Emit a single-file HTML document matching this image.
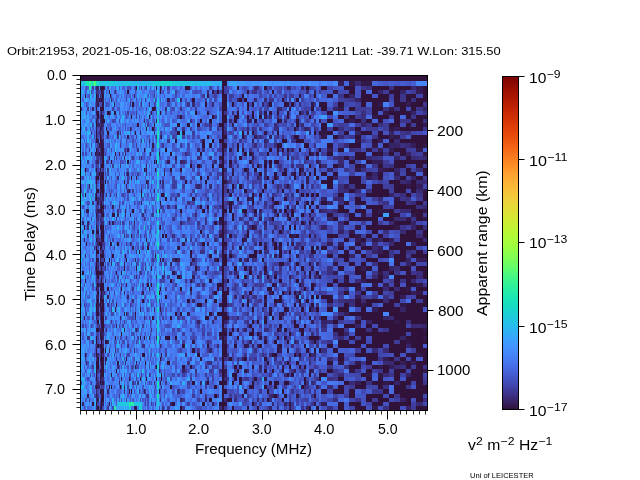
<!DOCTYPE html>
<html lang="en"><head><meta charset="utf-8"><title>MARSIS AIS ionogram - Orbit 21953</title>
<style>
html,body{margin:0;padding:0;background:#fff}
body{width:640px;height:480px;position:relative;overflow:hidden;font-family:"Liberation Sans",sans-serif;color:#000}
.t{position:absolute;white-space:nowrap;line-height:1;transform-origin:0 0;will-change:transform}
.sp{font-size:78%;position:relative;top:-0.46em;margin-left:0.02em}
svg{position:absolute;left:0;top:0;display:block}
#cb{position:absolute;left:503px;top:77px;width:15px;height:332px;background:linear-gradient(to bottom,#7a0403 0.00%,#880802 1.56%,#950d01 3.12%,#a11201 4.69%,#ac1701 6.25%,#b71d02 7.81%,#c12302 9.38%,#ca2a04 10.94%,#d23105 12.50%,#da3907 14.06%,#e14109 15.62%,#e7490c 17.19%,#ec530f 18.75%,#f15d13 20.31%,#f56918 21.88%,#f9751d 23.44%,#fb8122 25.00%,#fd8d27 26.56%,#fe992c 28.12%,#fea431 29.69%,#fdae35 31.25%,#fbb838 32.81%,#f7c13a 34.38%,#f2c93a 35.94%,#ecd13a 37.50%,#e5d938 39.06%,#dde037 40.62%,#d4e735 42.19%,#cbed34 43.75%,#c1f334 45.31%,#b7f735 46.88%,#acfb38 48.44%,#a4fc3c 50.00%,#99fe42 51.56%,#8bff4b 53.12%,#7dff56 54.69%,#6dfe62 56.25%,#5dfc6f 57.81%,#4ef97d 59.38%,#3ff68a 60.94%,#32f298 62.50%,#27eea4 64.06%,#1fe9af 65.62%,#19e3b9 67.19%,#18ddc2 68.75%,#19d5cd 70.31%,#1ccdd8 71.88%,#22c5e2 73.44%,#28bceb 75.00%,#2fb2f4 76.56%,#37a8fa 78.12%,#3d9efe 79.69%,#4294ff 81.25%,#458afc 82.81%,#4680f6 84.38%,#4776ee 85.94%,#466be3 87.50%,#4661d6 89.06%,#4456c7 90.62%,#424bb5 92.19%,#4040a2 93.75%,#3d358b 95.31%,#392a73 96.88%,#351e58 98.44%,#30123b 100.00%)}
</style></head>
<body>
<div class="t" id="title" style="left:6.59px;top:45.00px;font-size:11.60px;transform:scaleX(1.1172);">Orbit:21953, 2021-05-16, 08:03:22 SZA:94.17 Altitude:1211 Lat: -39.71 W.Lon: 315.50</div>
<div class="t" id="ylabel" style="left:22.50px;top:301.40px;font-size:14.10px;transform:rotate(-90deg) scaleX(1.1079);">Time Delay (ms)</div>
<div class="t" id="y2label" style="left:474.75px;top:316.10px;font-size:14.10px;transform:rotate(-90deg) scaleX(1.1269);">Apparent range (km)</div>
<div class="t" id="xlabel" style="left:194.63px;top:441.50px;font-size:14.10px;transform:scaleX(1.0747);">Frequency (MHz)</div>
<div class="t n" id="y0" style="left:46.69px;top:67.50px;font-size:14.10px;transform:scaleX(0.9973);">0.0</div>
<div class="t n" id="y1" style="left:45.44px;top:113.00px;font-size:14.10px;transform:scaleX(1.0398);">1.0</div>
<div class="t n" id="y2" style="left:45.43px;top:157.50px;font-size:14.10px;transform:scaleX(1.0770);">2.0</div>
<div class="t n" id="y3" style="left:45.69px;top:202.50px;font-size:14.10px;transform:scaleX(0.9973);">3.0</div>
<div class="t n" id="y4" style="left:45.62px;top:248.00px;font-size:14.10px;transform:scaleX(1.0436);">4.0</div>
<div class="t n" id="y5" style="left:45.67px;top:292.75px;font-size:14.10px;transform:scaleX(1.0012);">5.0</div>
<div class="t n" id="y6" style="left:45.43px;top:337.50px;font-size:14.10px;transform:scaleX(1.0770);">6.0</div>
<div class="t n" id="y7" style="left:45.06px;top:381.75px;font-size:14.10px;transform:scaleX(1.0258);">7.0</div>
<div class="t n" id="x1" style="left:126.44px;top:422.00px;font-size:14.10px;transform:scaleX(1.0398);">1.0</div>
<div class="t n" id="x2" style="left:188.43px;top:421.50px;font-size:14.10px;transform:scaleX(1.0770);">2.0</div>
<div class="t n" id="x3" style="left:251.69px;top:421.50px;font-size:14.10px;transform:scaleX(0.9973);">3.0</div>
<div class="t n" id="x4" style="left:313.62px;top:422.00px;font-size:14.10px;transform:scaleX(1.0436);">4.0</div>
<div class="t n" id="x5" style="left:377.67px;top:421.75px;font-size:14.10px;transform:scaleX(1.0012);">5.0</div>
<div class="t n" id="r0" style="left:437.01px;top:123.75px;font-size:14.10px;transform:scaleX(1.1090);">200</div>
<div class="t n" id="r1" style="left:436.61px;top:184.00px;font-size:14.10px;transform:scaleX(1.0893);">400</div>
<div class="t n" id="r2" style="left:437.01px;top:243.75px;font-size:14.10px;transform:scaleX(1.1090);">600</div>
<div class="t n" id="r3" style="left:437.62px;top:304.25px;font-size:14.10px;transform:scaleX(1.0891);">800</div>
<div class="t n" id="r4" style="left:437.41px;top:363.00px;font-size:14.10px;transform:scaleX(1.0628);">1000</div>
<div class="t" id="c0" style="left:529.29px;top:70.50px;font-size:14.10px;transform:scaleX(1.1087);">10<span class="sp">−9</span></div>
<div class="t" id="c1" style="left:528.75px;top:153.62px;font-size:14.10px;transform:scaleX(1.1452);">10<span class="sp">−11</span></div>
<div class="t" id="c2" style="left:529.28px;top:235.50px;font-size:14.10px;transform:scaleX(1.1123);">10<span class="sp">−13</span></div>
<div class="t" id="c3" style="left:529.07px;top:321.00px;font-size:14.10px;transform:scaleX(1.1169);">10<span class="sp">−15</span></div>
<div class="t" id="c4" style="left:529.07px;top:404.00px;font-size:14.10px;transform:scaleX(1.1173);">10<span class="sp">−17</span></div>
<div class="t" id="units" style="left:467.91px;top:437.88px;font-size:14.10px;transform:scaleX(1.1148);">v<span class="sp">2</span> m<span class="sp">−2</span> Hz<span class="sp">−1</span></div>
<div class="t" id="uni" style="left:469.95px;top:472.00px;font-size:7.55px;transform:scaleX(0.9960);">Uni of LEICESTER</div>
<div id="cb"></div>
<svg class="hm" width="640" height="480" viewBox="0 0 640 480" shape-rendering="crispEdges"><rect x="81" y="76" width="346" height="334" fill="#30123b"/><path fill="#33184a" d="M349 81h6v5h-6zM361 81h11v5h-11zM212 90h2v4h-2zM333 90h5v4h-5zM207 94h2v4h-2zM299 94h2v4h-2zM102 102h2v5h-2zM311 102h3v5h-3zM378 102h5v5h-5zM96 107h1v4h-1zM289 107h2v4h-2zM338 107h6v4h-6zM389 107h5v4h-5zM101 111h1v4h-1zM115 111h1v4h-1zM151 111h1v4h-1zM264 111h3v4h-3zM383 111h6v4h-6zM102 115h2v4h-2zM372 115h6v4h-6zM279 119h3v4h-3zM423 123h4v4h-4zM106 127h1v4h-1zM389 127h5v4h-5zM264 131h3v4h-3zM321 131h6v4h-6zM127 135h2v4h-2zM321 135h6v4h-6zM394 135h6v4h-6zM97 139h2v4h-2zM202 139h3v4h-3zM355 139h6v4h-6zM102 143h2v5h-2zM152 143h2v5h-2zM372 143h6v5h-6zM423 143h4v5h-4zM366 148h6v4h-6zM416 148h7v4h-7zM115 152h1v4h-1zM150 152h1v4h-1zM423 152h4v4h-4zM219 156h3v4h-3zM249 160h3v4h-3zM264 160h3v4h-3zM269 164h3v4h-3zM146 168h1v4h-1zM355 168h6v4h-6zM383 168h6v4h-6zM164 172h1v4h-1zM232 172h2v4h-2zM102 180h2v4h-2zM224 180h3v4h-3zM287 184h2v5h-2zM406 184h5v5h-5zM96 189h1v4h-1zM100 189h2v4h-2zM423 189h4v4h-4zM102 193h2v4h-2zM229 193h3v4h-3zM247 197h2v4h-2zM394 197h6v4h-6zM316 205h3v4h-3zM86 209h1v4h-1zM274 209h3v4h-3zM378 209h11v4h-11zM423 209h4v4h-4zM101 213h1v4h-1zM114 213h1v4h-1zM361 213h5v4h-5zM411 213h5v4h-5zM406 217h5v4h-5zM423 217h4v4h-4zM134 221h1v4h-1zM96 225h1v5h-1zM355 225h6v5h-6zM394 225h6v5h-6zM349 230h6v4h-6zM219 234h3v4h-3zM291 234h3v4h-3zM355 234h6v4h-6zM372 238h6v4h-6zM86 242h1v4h-1zM177 246h3v4h-3zM264 246h3v4h-3zM279 246h3v4h-3zM316 246h3v4h-3zM349 246h6v4h-6zM102 250h2v4h-2zM259 250h3v4h-3zM314 250h2v4h-2zM190 254h2v4h-2zM97 258h2v4h-2zM100 258h1v4h-1zM160 258h1v4h-1zM100 262h1v4h-1zM309 262h2v4h-2zM333 262h5v4h-5zM172 271h3v4h-3zM264 271h3v4h-3zM378 271h5v4h-5zM344 279h5v4h-5zM100 283h1v4h-1zM126 283h1v4h-1zM299 283h2v4h-2zM372 283h6v4h-6zM416 283h7v4h-7zM96 287h1v4h-1zM227 287h2v4h-2zM355 287h6v4h-6zM406 287h5v4h-5zM299 291h2v4h-2zM416 291h7v4h-7zM247 299h2v4h-2zM277 299h2v4h-2zM219 303h3v4h-3zM299 303h2v4h-2zM361 303h5v4h-5zM400 303h6v4h-6zM269 307h3v5h-3zM287 307h2v5h-2zM96 312h1v4h-1zM264 316h3v4h-3zM394 320h6v4h-6zM299 328h2v4h-2zM423 328h4v4h-4zM100 336h1v4h-1zM259 336h3v4h-3zM284 336h3v4h-3zM423 336h4v4h-4zM192 340h3v4h-3zM406 340h5v4h-5zM244 344h3v4h-3zM85 353h1v4h-1zM416 353h7v4h-7zM105 357h1v4h-1zM338 361h6v4h-6zM355 361h6v4h-6zM282 365h2v4h-2zM378 365h5v4h-5zM224 369h3v4h-3zM244 369h3v4h-3zM349 369h6v4h-6zM423 369h4v4h-4zM366 373h6v4h-6zM378 373h5v4h-5zM121 377h1v4h-1zM140 377h1v4h-1zM156 377h1v4h-1zM264 377h3v4h-3zM102 381h2v4h-2zM160 381h1v4h-1zM383 381h6v4h-6zM101 389h3v5h-3zM129 389h1v5h-1zM242 394h2v4h-2zM296 394h3v4h-3zM92 402h2v4h-2zM109 402h1v4h-1zM289 402h2v4h-2zM314 402h2v4h-2zM101 406h1v4h-1zM135 406h1v4h-1zM372 406h6v4h-6z"/><path fill="#351e58" d="M338 81h6v5h-6zM104 86h1v4h-1zM416 86h7v4h-7zM314 90h2v4h-2zM416 90h7v4h-7zM134 94h1v4h-1zM102 98h2v4h-2zM167 98h3v4h-3zM97 102h2v5h-2zM114 102h1v5h-1zM406 102h5v5h-5zM96 111h1v4h-1zM306 111h3v4h-3zM264 115h3v4h-3zM100 119h2v4h-2zM156 119h1v4h-1zM247 119h2v4h-2zM319 119h2v4h-2zM349 119h6v4h-6zM232 123h2v4h-2zM96 127h1v4h-1zM394 127h6v4h-6zM100 131h1v4h-1zM247 131h2v4h-2zM254 135h3v4h-3zM389 135h5v4h-5zM252 139h2v4h-2zM378 139h5v4h-5zM100 143h1v5h-1zM411 143h5v5h-5zM127 148h2v4h-2zM229 148h3v4h-3zM327 148h6v4h-6zM378 148h5v4h-5zM389 148h5v4h-5zM159 152h1v4h-1zM311 152h3v4h-3zM109 156h1v4h-1zM175 156h2v4h-2zM252 156h2v4h-2zM167 160h3v4h-3zM316 160h3v4h-3zM372 160h11v4h-11zM229 164h3v4h-3zM361 164h5v4h-5zM232 168h2v4h-2zM284 168h3v4h-3zM301 168h3v4h-3zM378 168h5v4h-5zM127 172h2v4h-2zM291 172h3v4h-3zM304 172h2v4h-2zM394 172h6v4h-6zM136 176h1v4h-1zM306 176h3v4h-3zM366 176h6v4h-6zM160 180h1v4h-1zM306 180h3v4h-3zM89 184h1v5h-1zM344 184h5v5h-5zM416 184h7v5h-7zM102 197h2v4h-2zM97 201h2v4h-2zM141 201h1v4h-1zM100 205h1v4h-1zM112 205h2v4h-2zM304 205h2v4h-2zM87 209h2v4h-2zM97 209h2v4h-2zM102 209h2v4h-2zM125 209h1v4h-1zM319 209h2v4h-2zM309 213h2v4h-2zM259 217h3v4h-3zM311 217h3v4h-3zM101 221h1v4h-1zM112 221h2v4h-2zM219 221h3v4h-3zM254 225h3v5h-3zM282 225h2v5h-2zM294 234h2v4h-2zM84 238h1v4h-1zM101 238h1v4h-1zM244 238h3v4h-3zM355 238h6v4h-6zM389 238h5v4h-5zM111 242h1v4h-1zM182 242h3v4h-3zM207 242h2v4h-2zM291 242h3v4h-3zM327 242h6v4h-6zM338 242h6v4h-6zM132 246h2v4h-2zM378 246h5v4h-5zM378 250h5v4h-5zM274 254h3v4h-3zM296 254h3v4h-3zM135 258h1v4h-1zM192 258h3v4h-3zM214 258h3v4h-3zM239 258h3v4h-3zM247 258h2v4h-2zM416 258h11v4h-11zM151 266h1v5h-1zM249 266h3v5h-3zM311 266h3v5h-3zM361 266h5v5h-5zM205 271h2v4h-2zM333 271h5v4h-5zM192 275h3v4h-3zM257 275h2v4h-2zM289 275h2v4h-2zM190 279h2v4h-2zM361 279h5v4h-5zM244 283h3v4h-3zM274 283h3v4h-3zM383 283h6v4h-6zM142 291h2v4h-2zM269 291h3v4h-3zM411 291h5v4h-5zM97 295h2v4h-2zM107 295h2v4h-2zM355 295h6v4h-6zM400 295h6v4h-6zM264 299h3v4h-3zM97 303h2v4h-2zM97 307h2v5h-2zM100 307h1v5h-1zM115 307h1v5h-1zM140 307h1v5h-1zM372 307h6v5h-6zM124 312h1v4h-1zM126 312h1v4h-1zM187 312h3v4h-3zM279 312h3v4h-3zM344 312h5v4h-5zM135 316h1v4h-1zM311 320h3v4h-3zM116 324h1v4h-1zM101 328h1v4h-1zM224 328h3v4h-3zM237 328h2v4h-2zM101 332h1v4h-1zM102 336h2v4h-2zM224 340h3v4h-3zM247 344h2v4h-2zM277 344h2v4h-2zM279 348h3v5h-3zM106 357h1v4h-1zM242 357h2v4h-2zM383 357h6v4h-6zM105 361h1v4h-1zM136 361h1v4h-1zM400 361h6v4h-6zM411 361h5v4h-5zM389 365h5v4h-5zM294 369h2v4h-2zM309 369h5v4h-5zM100 373h1v4h-1zM224 373h3v4h-3zM355 381h6v4h-6zM97 385h2v4h-2zM316 385h3v4h-3zM144 389h1v5h-1zM87 394h2v4h-2zM96 394h1v4h-1zM101 394h1v4h-1zM97 398h2v4h-2zM212 402h2v4h-2zM321 402h6v4h-6zM134 406h1v4h-1zM136 406h1v4h-1zM289 406h2v4h-2z"/><path fill="#372466" d="M96 86h3v4h-3zM287 86h2v4h-2zM301 86h3v4h-3zM102 90h2v4h-2zM378 90h5v4h-5zM400 90h6v4h-6zM97 94h2v4h-2zM100 94h1v4h-1zM349 94h6v4h-6zM100 98h1v4h-1zM180 98h2v4h-2zM237 98h2v4h-2zM355 98h6v4h-6zM262 102h2v5h-2zM92 107h2v4h-2zM155 107h1v4h-1zM277 107h2v4h-2zM333 107h5v4h-5zM423 107h4v4h-4zM411 111h5v4h-5zM100 115h1v4h-1zM249 119h3v4h-3zM97 123h3v4h-3zM361 123h5v4h-5zM101 127h1v4h-1zM130 127h1v4h-1zM304 127h5v4h-5zM117 131h2v4h-2zM140 131h1v4h-1zM355 131h6v4h-6zM389 131h5v4h-5zM269 135h3v4h-3zM102 139h2v4h-2zM264 139h3v4h-3zM389 143h11v5h-11zM291 148h3v4h-3zM309 148h2v4h-2zM96 152h3v4h-3zM119 152h1v4h-1zM252 152h2v4h-2zM277 152h2v4h-2zM406 152h5v4h-5zM394 156h6v4h-6zM97 160h2v4h-2zM180 160h2v4h-2zM252 164h2v4h-2zM338 164h6v4h-6zM224 168h3v4h-3zM247 168h2v4h-2zM327 168h6v4h-6zM394 168h6v4h-6zM100 172h1v4h-1zM247 172h2v4h-2zM372 172h6v4h-6zM257 176h2v4h-2zM333 176h5v4h-5zM411 176h5v4h-5zM101 180h1v4h-1zM406 180h5v4h-5zM96 184h1v5h-1zM126 184h1v5h-1zM197 184h3v5h-3zM110 193h1v4h-1zM389 193h5v4h-5zM95 197h1v4h-1zM100 197h1v4h-1zM249 197h3v4h-3zM321 197h6v4h-6zM100 201h1v4h-1zM232 201h2v4h-2zM327 201h6v4h-6zM175 205h2v4h-2zM272 205h2v4h-2zM99 209h1v4h-1zM159 209h1v4h-1zM259 209h3v4h-3zM279 209h3v4h-3zM117 213h2v4h-2zM254 213h3v4h-3zM287 217h2v4h-2zM327 217h6v4h-6zM82 221h2v4h-2zM87 221h2v4h-2zM180 221h2v4h-2zM224 221h3v4h-3zM264 221h3v4h-3zM411 221h5v4h-5zM321 225h6v5h-6zM411 225h5v5h-5zM338 230h6v4h-6zM314 234h2v4h-2zM378 238h5v4h-5zM97 242h2v4h-2zM130 242h1v4h-1zM264 242h3v4h-3zM287 242h2v4h-2zM411 242h5v4h-5zM224 246h3v4h-3zM372 250h6v4h-6zM85 254h1v4h-1zM96 254h1v4h-1zM349 254h6v4h-6zM162 258h2v4h-2zM177 258h3v4h-3zM406 258h5v4h-5zM111 262h1v4h-1zM124 262h1v4h-1zM170 262h2v4h-2zM190 262h2v4h-2zM316 262h3v4h-3zM406 262h5v4h-5zM97 266h2v5h-2zM389 266h5v5h-5zM102 271h2v4h-2zM101 275h1v4h-1zM105 279h1v4h-1zM314 283h2v4h-2zM252 287h2v4h-2zM124 291h1v4h-1zM100 295h1v4h-1zM127 295h2v4h-2zM234 295h3v4h-3zM132 299h2v4h-2zM154 307h1v5h-1zM400 307h6v5h-6zM102 312h2v4h-2zM84 316h1v4h-1zM100 316h1v4h-1zM299 316h2v4h-2zM383 316h6v4h-6zM197 320h3v4h-3zM224 320h3v4h-3zM321 320h6v4h-6zM366 320h6v4h-6zM355 324h6v4h-6zM423 324h4v4h-4zM100 328h1v4h-1zM124 328h1v4h-1zM136 328h1v4h-1zM244 328h3v4h-3zM279 328h3v4h-3zM102 332h2v4h-2zM344 332h5v4h-5zM149 336h1v4h-1zM224 336h3v4h-3zM264 336h3v4h-3zM400 336h6v4h-6zM107 340h2v4h-2zM249 340h3v4h-3zM294 340h2v4h-2zM102 344h2v4h-2zM252 344h2v4h-2zM257 344h2v4h-2zM406 344h5v4h-5zM100 348h1v5h-1zM209 348h3v5h-3zM314 353h2v4h-2zM86 361h1v4h-1zM125 361h1v4h-1zM259 365h3v4h-3zM182 369h3v4h-3zM406 373h5v4h-5zM101 381h1v4h-1zM119 381h1v4h-1zM200 381h2v4h-2zM394 381h6v4h-6zM95 385h1v4h-1zM99 385h1v4h-1zM124 385h1v4h-1zM96 389h1v5h-1zM272 394h2v4h-2zM180 398h2v4h-2zM205 398h2v4h-2zM400 398h6v4h-6zM82 402h2v4h-2zM102 402h2v4h-2zM170 402h2v4h-2zM284 402h3v4h-3zM269 406h3v4h-3zM306 406h3v4h-3zM406 406h5v4h-5z"/><path fill="#392a73" d="M355 81h6v5h-6zM254 86h3v4h-3zM289 86h2v4h-2zM411 86h5v4h-5zM96 90h1v4h-1zM207 90h2v4h-2zM306 90h3v4h-3zM97 98h2v4h-2zM111 98h1v4h-1zM254 98h3v4h-3zM264 98h3v4h-3zM96 102h1v5h-1zM149 102h1v5h-1zM192 102h3v5h-3zM212 102h2v5h-2zM165 107h2v4h-2zM279 107h3v4h-3zM232 111h2v4h-2zM144 119h1v4h-1zM229 119h3v4h-3zM284 119h3v4h-3zM314 119h2v4h-2zM102 123h2v4h-2zM274 123h3v4h-3zM301 123h3v4h-3zM175 127h2v4h-2zM234 127h3v4h-3zM247 127h2v4h-2zM277 127h2v4h-2zM224 131h3v4h-3zM309 131h2v4h-2zM101 135h1v4h-1zM338 135h6v4h-6zM149 139h1v4h-1zM394 139h6v4h-6zM254 143h3v5h-3zM344 143h5v5h-5zM406 143h5v5h-5zM97 148h2v4h-2zM100 148h1v4h-1zM197 148h3v4h-3zM125 152h1v4h-1zM287 152h2v4h-2zM124 156h1v4h-1zM141 156h1v4h-1zM197 156h3v4h-3zM338 156h6v4h-6zM366 156h6v4h-6zM411 156h5v4h-5zM423 156h4v4h-4zM96 160h1v4h-1zM182 160h3v4h-3zM214 160h3v4h-3zM338 160h6v4h-6zM146 164h1v4h-1zM291 164h3v4h-3zM321 164h6v4h-6zM264 168h3v4h-3zM416 168h7v4h-7zM247 176h2v4h-2zM264 176h3v4h-3zM277 176h2v4h-2zM372 176h6v4h-6zM394 176h6v4h-6zM147 180h2v4h-2zM162 180h2v4h-2zM400 180h6v4h-6zM416 180h11v4h-11zM209 184h3v5h-3zM277 184h2v5h-2zM127 189h2v4h-2zM232 189h2v4h-2zM344 189h5v4h-5zM355 189h6v4h-6zM416 189h7v4h-7zM106 193h1v4h-1zM97 197h2v4h-2zM333 197h11v4h-11zM378 197h5v4h-5zM227 201h2v4h-2zM411 201h5v4h-5zM423 205h4v4h-4zM145 209h1v4h-1zM321 209h6v4h-6zM333 209h5v4h-5zM400 209h11v4h-11zM125 213h1v4h-1zM142 213h2v4h-2zM195 213h2v4h-2zM244 213h3v4h-3zM97 217h2v4h-2zM100 217h1v4h-1zM249 217h3v4h-3zM296 217h3v4h-3zM394 217h12v4h-12zM102 221h2v4h-2zM304 221h2v4h-2zM338 221h6v4h-6zM389 221h5v4h-5zM87 225h2v5h-2zM249 225h3v5h-3zM264 225h3v5h-3zM219 230h3v4h-3zM224 230h3v4h-3zM272 230h2v4h-2zM400 230h6v4h-6zM124 234h1v4h-1zM207 234h2v4h-2zM416 234h7v4h-7zM97 238h2v4h-2zM185 238h2v4h-2zM214 238h3v4h-3zM423 238h4v4h-4zM361 242h5v4h-5zM372 242h6v4h-6zM389 242h5v4h-5zM94 246h1v4h-1zM372 246h6v4h-6zM214 250h3v4h-3zM172 258h3v4h-3zM244 258h3v4h-3zM289 266h2v5h-2zM394 266h6v5h-6zM140 271h1v4h-1zM234 271h3v4h-3zM274 271h3v4h-3zM304 271h2v4h-2zM136 275h1v4h-1zM162 275h2v4h-2zM180 275h2v4h-2zM314 275h2v4h-2zM372 275h6v4h-6zM383 275h6v4h-6zM416 275h7v4h-7zM355 279h6v4h-6zM411 279h5v4h-5zM99 283h1v4h-1zM301 283h3v4h-3zM97 287h2v4h-2zM383 287h6v4h-6zM394 287h6v4h-6zM104 291h1v4h-1zM96 295h1v4h-1zM96 299h1v4h-1zM192 299h3v4h-3zM344 299h11v4h-11zM361 299h5v4h-5zM383 299h6v4h-6zM99 303h1v4h-1zM274 303h3v4h-3zM311 307h3v5h-3zM96 316h1v4h-1zM120 316h1v4h-1zM144 316h1v4h-1zM214 316h3v4h-3zM237 316h2v4h-2zM389 316h5v4h-5zM212 320h2v4h-2zM327 320h6v4h-6zM321 324h6v4h-6zM411 324h12v4h-12zM106 328h1v4h-1zM151 328h1v4h-1zM264 328h3v4h-3zM259 332h3v4h-3zM311 332h3v4h-3zM156 336h1v4h-1zM219 336h3v4h-3zM338 336h6v4h-6zM96 344h1v4h-1zM144 344h1v4h-1zM160 344h1v4h-1zM217 344h2v4h-2zM134 348h1v5h-1zM372 348h6v5h-6zM383 348h6v5h-6zM97 353h2v4h-2zM102 353h2v4h-2zM185 353h2v4h-2zM269 353h3v4h-3zM311 353h3v4h-3zM100 361h1v4h-1zM309 361h2v4h-2zM383 361h11v4h-11zM117 365h2v4h-2zM394 365h6v4h-6zM159 369h1v4h-1zM219 369h3v4h-3zM247 369h2v4h-2zM284 373h3v4h-3zM338 373h6v4h-6zM383 373h6v4h-6zM101 377h3v4h-3zM224 377h3v4h-3zM97 381h2v4h-2zM205 381h2v4h-2zM311 381h3v4h-3zM349 381h6v4h-6zM304 385h2v4h-2zM327 385h6v4h-6zM107 389h2v5h-2zM124 389h1v5h-1zM269 394h3v4h-3zM96 398h1v4h-1zM224 398h3v4h-3zM257 398h2v4h-2zM272 402h2v4h-2zM416 402h7v4h-7zM96 406h1v4h-1z"/><path fill="#3b2f80" d="M257 86h2v4h-2zM366 86h6v4h-6zM389 86h5v4h-5zM411 98h5v4h-5zM141 102h1v5h-1zM267 102h2v5h-2zM299 102h2v5h-2zM180 107h2v4h-2zM383 107h6v4h-6zM394 107h6v4h-6zM259 111h3v4h-3zM301 111h3v4h-3zM361 111h5v4h-5zM269 115h3v4h-3zM277 115h2v4h-2zM361 115h5v4h-5zM190 119h2v4h-2zM262 119h2v4h-2zM361 119h5v4h-5zM423 119h4v4h-4zM209 123h3v4h-3zM378 123h5v4h-5zM274 127h3v4h-3zM296 127h3v4h-3zM314 127h2v4h-2zM338 127h6v4h-6zM91 131h1v4h-1zM99 131h1v4h-1zM102 131h2v4h-2zM154 131h1v4h-1zM406 131h5v4h-5zM160 135h1v4h-1zM259 135h3v4h-3zM282 135h2v4h-2zM141 139h1v4h-1zM274 143h3v5h-3zM314 143h2v5h-2zM400 143h6v5h-6zM125 148h1v4h-1zM137 148h2v4h-2zM202 148h3v4h-3zM224 148h3v4h-3zM349 148h6v4h-6zM91 152h1v4h-1zM100 152h1v4h-1zM185 152h2v4h-2zM383 152h6v4h-6zM100 156h2v4h-2zM209 156h3v4h-3zM333 156h5v4h-5zM349 156h6v4h-6zM372 156h6v4h-6zM416 156h7v4h-7zM319 160h2v4h-2zM200 164h2v4h-2zM259 164h3v4h-3zM279 164h3v4h-3zM301 164h3v4h-3zM389 164h5v4h-5zM102 168h2v4h-2zM164 168h1v4h-1zM361 168h5v4h-5zM96 172h3v4h-3zM146 172h1v4h-1zM264 172h3v4h-3zM117 176h2v4h-2zM180 176h5v4h-5zM227 180h2v4h-2zM195 184h2v5h-2zM284 184h3v5h-3zM338 184h6v5h-6zM277 189h2v4h-2zM338 189h6v4h-6zM366 189h6v4h-6zM95 193h1v4h-1zM272 193h2v4h-2zM291 193h3v4h-3zM400 193h6v4h-6zM175 197h2v4h-2zM207 197h2v4h-2zM406 197h5v4h-5zM92 201h2v4h-2zM187 201h3v4h-3zM264 201h3v4h-3zM272 201h2v4h-2zM338 201h6v4h-6zM383 201h6v4h-6zM96 205h1v4h-1zM105 205h1v4h-1zM161 205h1v4h-1zM167 205h3v4h-3zM294 205h2v4h-2zM416 205h7v4h-7zM96 209h1v4h-1zM259 213h3v4h-3zM96 217h1v4h-1zM101 217h1v4h-1zM144 217h1v4h-1zM239 217h3v4h-3zM269 217h3v4h-3zM96 221h1v4h-1zM205 221h2v4h-2zM314 221h2v4h-2zM159 225h1v5h-1zM274 225h3v5h-3zM338 225h6v5h-6zM423 225h4v5h-4zM259 230h3v4h-3zM383 230h6v4h-6zM172 234h3v4h-3zM244 234h3v4h-3zM126 242h1v4h-1zM254 242h3v4h-3zM272 242h2v4h-2zM296 242h5v4h-5zM104 246h1v4h-1zM160 246h1v4h-1zM232 246h2v4h-2zM294 246h5v4h-5zM136 250h1v4h-1zM200 250h2v4h-2zM264 250h5v4h-5zM406 250h5v4h-5zM232 254h2v4h-2zM309 254h2v4h-2zM252 258h2v4h-2zM97 262h2v4h-2zM372 262h6v4h-6zM95 266h1v5h-1zM105 266h1v5h-1zM219 266h3v5h-3zM279 266h3v5h-3zM327 266h6v5h-6zM164 271h1v4h-1zM229 271h3v4h-3zM259 271h3v4h-3zM296 271h3v4h-3zM327 271h6v4h-6zM383 271h6v4h-6zM416 271h7v4h-7zM156 275h1v4h-1zM316 275h3v4h-3zM96 279h1v4h-1zM224 279h3v4h-3zM269 279h3v4h-3zM301 279h3v4h-3zM202 283h3v4h-3zM289 287h2v4h-2zM102 291h2v4h-2zM190 291h2v4h-2zM212 291h2v4h-2zM296 291h3v4h-3zM102 295h2v4h-2zM247 295h2v4h-2zM254 295h3v4h-3zM383 295h6v4h-6zM296 299h3v4h-3zM338 299h6v4h-6zM101 303h1v4h-1zM130 303h1v4h-1zM160 303h1v4h-1zM227 303h2v4h-2zM282 303h2v4h-2zM316 303h3v4h-3zM349 303h6v4h-6zM262 307h2v5h-2zM100 312h1v4h-1zM338 312h6v4h-6zM105 316h1v4h-1zM314 316h2v4h-2zM319 316h2v4h-2zM333 316h5v4h-5zM355 316h6v4h-6zM247 320h2v4h-2zM406 320h5v4h-5zM99 324h1v4h-1zM99 328h1v4h-1zM267 328h2v4h-2zM366 328h6v4h-6zM333 332h5v4h-5zM87 336h2v4h-2zM319 336h2v4h-2zM92 340h2v4h-2zM207 340h2v4h-2zM296 340h3v4h-3zM311 340h3v4h-3zM99 344h1v4h-1zM142 344h2v4h-2zM291 344h3v4h-3zM316 344h3v4h-3zM109 348h1v5h-1zM115 348h1v5h-1zM254 348h3v5h-3zM321 348h6v5h-6zM227 353h2v4h-2zM262 353h2v4h-2zM296 353h3v4h-3zM85 357h1v4h-1zM96 357h1v4h-1zM224 357h3v4h-3zM274 357h3v4h-3zM282 357h2v4h-2zM289 357h2v4h-2zM299 357h2v4h-2zM314 357h2v4h-2zM319 357h2v4h-2zM327 357h6v4h-6zM187 361h3v4h-3zM207 361h5v4h-5zM205 365h2v4h-2zM344 365h5v4h-5zM400 365h6v4h-6zM97 369h2v4h-2zM195 369h2v4h-2zM259 369h3v4h-3zM291 369h3v4h-3zM207 377h2v4h-2zM327 377h6v4h-6zM96 381h1v4h-1zM137 381h2v4h-2zM306 381h3v4h-3zM366 381h6v4h-6zM161 385h1v4h-1zM383 385h6v4h-6zM177 389h3v5h-3zM234 398h3v4h-3zM262 398h2v4h-2zM269 398h3v4h-3zM333 398h5v4h-5zM423 398h4v4h-4zM100 402h1v4h-1zM219 406h3v4h-3zM277 406h2v4h-2zM327 406h6v4h-6zM383 406h6v4h-6z"/><path fill="#3d358b" d="M146 86h1v4h-1zM361 86h5v4h-5zM97 90h2v4h-2zM115 90h1v4h-1zM252 90h5v4h-5zM101 94h1v4h-1zM154 94h1v4h-1zM284 94h3v4h-3zM338 94h6v4h-6zM400 94h6v4h-6zM145 98h1v4h-1zM269 98h5v4h-5zM289 98h2v4h-2zM349 98h6v4h-6zM400 98h6v4h-6zM130 102h1v5h-1zM187 102h3v5h-3zM314 102h2v5h-2zM423 102h4v5h-4zM81 107h1v4h-1zM416 107h7v4h-7zM100 111h1v4h-1zM110 111h1v4h-1zM224 111h3v4h-3zM423 111h4v4h-4zM214 115h3v4h-3zM296 115h3v4h-3zM344 115h5v4h-5zM411 115h5v4h-5zM97 119h2v4h-2zM400 119h11v4h-11zM366 123h6v4h-6zM131 127h1v4h-1zM182 127h3v4h-3zM217 127h2v4h-2zM224 127h3v4h-3zM252 127h2v4h-2zM259 127h3v4h-3zM309 127h2v4h-2zM349 127h6v4h-6zM423 127h4v4h-4zM120 131h1v4h-1zM272 131h2v4h-2zM400 131h6v4h-6zM107 135h2v4h-2zM117 135h2v4h-2zM156 135h1v4h-1zM244 135h3v4h-3zM257 135h2v4h-2zM277 135h2v4h-2zM291 135h3v4h-3zM319 135h2v4h-2zM349 135h6v4h-6zM372 135h6v4h-6zM167 139h3v4h-3zM239 139h3v4h-3zM267 139h2v4h-2zM291 139h5v4h-5zM361 139h5v4h-5zM162 143h2v5h-2zM242 143h2v5h-2zM264 143h3v5h-3zM89 148h1v4h-1zM249 148h3v4h-3zM355 148h6v4h-6zM282 152h2v4h-2zM97 156h2v4h-2zM139 156h1v4h-1zM291 156h3v4h-3zM378 156h5v4h-5zM87 160h2v4h-2zM100 160h1v4h-1zM175 160h2v4h-2zM234 160h3v4h-3zM304 160h2v4h-2zM96 164h1v4h-1zM100 164h1v4h-1zM120 164h1v4h-1zM237 164h2v4h-2zM296 164h5v4h-5zM372 164h6v4h-6zM383 164h6v4h-6zM107 168h2v4h-2zM344 168h5v4h-5zM90 172h1v4h-1zM224 176h3v4h-3zM259 176h3v4h-3zM127 180h2v4h-2zM162 184h2v5h-2zM200 184h2v5h-2zM311 184h3v5h-3zM349 184h6v5h-6zM101 193h1v4h-1zM116 193h1v4h-1zM177 193h3v4h-3zM287 193h2v4h-2zM416 193h7v4h-7zM99 197h1v4h-1zM259 197h3v4h-3zM299 197h2v4h-2zM400 197h6v4h-6zM239 201h3v4h-3zM304 201h2v4h-2zM319 201h2v4h-2zM406 201h5v4h-5zM119 205h1v4h-1zM197 205h3v4h-3zM219 205h3v4h-3zM264 205h3v4h-3zM269 205h3v4h-3zM117 209h2v4h-2zM207 209h2v4h-2zM252 209h2v4h-2zM272 209h2v4h-2zM327 209h6v4h-6zM97 213h2v4h-2zM152 213h2v4h-2zM214 213h3v4h-3zM274 213h3v4h-3zM344 213h5v4h-5zM116 217h1v4h-1zM172 217h3v4h-3zM187 217h3v4h-3zM205 217h2v4h-2zM411 217h5v4h-5zM197 221h3v4h-3zM244 221h5v4h-5zM294 221h2v4h-2zM97 225h2v5h-2zM224 225h3v5h-3zM309 225h2v5h-2zM400 225h6v5h-6zM282 230h2v4h-2zM416 230h7v4h-7zM87 234h2v4h-2zM97 234h2v4h-2zM99 238h1v4h-1zM252 238h2v4h-2zM319 238h2v4h-2zM102 242h2v4h-2zM242 242h2v4h-2zM142 246h2v4h-2zM277 246h2v4h-2zM100 250h2v4h-2zM202 250h3v4h-3zM229 250h3v4h-3zM284 250h3v4h-3zM389 250h5v4h-5zM411 250h5v4h-5zM311 254h3v4h-3zM389 254h5v4h-5zM254 258h3v4h-3zM304 258h2v4h-2zM242 262h2v4h-2zM264 262h3v4h-3zM287 262h2v4h-2zM207 266h2v5h-2zM272 266h2v5h-2zM294 266h2v5h-2zM372 271h6v4h-6zM394 271h6v4h-6zM411 271h5v4h-5zM96 275h1v4h-1zM164 275h1v4h-1zM259 275h3v4h-3zM304 275h2v4h-2zM97 279h2v4h-2zM185 279h2v4h-2zM400 279h6v4h-6zM197 283h3v4h-3zM282 283h2v4h-2zM423 283h4v4h-4zM132 287h2v4h-2zM344 287h5v4h-5zM109 291h1v4h-1zM284 291h3v4h-3zM319 291h2v4h-2zM338 291h6v4h-6zM355 291h6v4h-6zM209 295h3v4h-3zM252 295h2v4h-2zM372 295h6v4h-6zM259 299h3v4h-3zM84 303h1v4h-1zM107 303h2v4h-2zM327 303h6v4h-6zM161 312h1v4h-1zM247 312h2v4h-2zM304 312h2v4h-2zM177 316h3v4h-3zM111 320h1v4h-1zM227 320h2v4h-2zM247 324h2v4h-2zM135 328h1v4h-1zM309 328h2v4h-2zM316 328h3v4h-3zM321 328h6v4h-6zM344 328h5v4h-5zM383 328h6v4h-6zM89 336h1v4h-1zM126 336h1v4h-1zM242 340h2v4h-2zM316 340h3v4h-3zM327 340h6v4h-6zM127 344h2v4h-2zM296 348h3v5h-3zM86 353h1v4h-1zM100 353h1v4h-1zM244 353h3v4h-3zM116 357h1v4h-1zM140 357h1v4h-1zM214 357h3v4h-3zM227 357h2v4h-2zM237 357h2v4h-2zM254 357h3v4h-3zM378 357h5v4h-5zM394 357h6v4h-6zM279 361h3v4h-3zM284 361h3v4h-3zM361 361h5v4h-5zM155 365h1v4h-1zM264 365h3v4h-3zM277 365h2v4h-2zM314 365h2v4h-2zM327 365h6v4h-6zM423 365h4v4h-4zM185 369h2v4h-2zM234 369h3v4h-3zM301 369h3v4h-3zM319 369h2v4h-2zM333 369h5v4h-5zM355 369h6v4h-6zM378 369h5v4h-5zM149 373h1v4h-1zM269 373h3v4h-3zM314 373h2v4h-2zM389 373h5v4h-5zM227 377h2v4h-2zM244 377h5v4h-5zM316 377h3v4h-3zM333 377h5v4h-5zM132 381h2v4h-2zM154 381h1v4h-1zM314 381h2v4h-2zM423 381h4v4h-4zM306 385h3v4h-3zM406 385h5v4h-5zM139 389h1v5h-1zM145 389h1v5h-1zM259 389h3v5h-3zM291 389h3v5h-3zM304 389h2v5h-2zM309 389h2v5h-2zM314 389h2v5h-2zM372 389h11v5h-11zM97 394h2v4h-2zM119 394h1v4h-1zM147 394h2v4h-2zM205 394h2v4h-2zM277 394h2v4h-2zM311 394h3v4h-3zM394 394h6v4h-6zM89 398h1v4h-1zM160 398h1v4h-1zM182 398h3v4h-3zM355 398h6v4h-6zM155 402h1v4h-1zM291 402h3v4h-3zM311 402h3v4h-3zM162 406h2v4h-2zM182 406h3v4h-3zM224 406h3v4h-3zM301 406h3v4h-3z"/><path fill="#3f3b97" d="M135 86h1v4h-1zM141 86h1v4h-1zM161 86h1v4h-1zM269 86h3v4h-3zM309 86h2v4h-2zM175 90h2v4h-2zM319 90h2v4h-2zM383 90h6v4h-6zM411 90h5v4h-5zM202 94h3v4h-3zM214 94h3v4h-3zM229 94h3v4h-3zM291 94h3v4h-3zM205 98h2v4h-2zM344 98h5v4h-5zM87 107h2v4h-2zM195 107h2v4h-2zM355 107h11v4h-11zM127 111h2v4h-2zM136 111h1v4h-1zM311 111h3v4h-3zM136 115h1v4h-1zM177 115h3v4h-3zM355 115h6v4h-6zM306 119h3v4h-3zM100 123h1v4h-1zM147 123h2v4h-2zM205 123h2v4h-2zM224 123h3v4h-3zM338 123h6v4h-6zM383 123h6v4h-6zM411 123h5v4h-5zM102 127h2v4h-2zM254 127h3v4h-3zM287 127h2v4h-2zM301 127h3v4h-3zM366 127h12v4h-12zM383 127h6v4h-6zM161 131h1v4h-1zM192 131h3v4h-3zM136 135h1v4h-1zM234 135h3v4h-3zM304 135h2v4h-2zM400 135h6v4h-6zM120 143h1v5h-1zM136 143h1v5h-1zM180 143h2v5h-2zM338 143h6v5h-6zM152 148h2v4h-2zM219 148h3v4h-3zM289 148h2v4h-2zM316 148h3v4h-3zM372 148h6v4h-6zM406 148h5v4h-5zM242 152h2v4h-2zM321 152h6v4h-6zM394 152h6v4h-6zM411 152h5v4h-5zM116 156h1v4h-1zM132 156h2v4h-2zM400 156h6v4h-6zM101 160h1v4h-1zM185 160h2v4h-2zM219 160h3v4h-3zM252 160h2v4h-2zM383 160h6v4h-6zM112 164h2v4h-2zM277 164h2v4h-2zM423 164h4v4h-4zM145 168h1v4h-1zM279 168h3v4h-3zM294 168h2v4h-2zM124 172h1v4h-1zM137 172h2v4h-2zM197 172h3v4h-3zM224 172h3v4h-3zM301 172h3v4h-3zM217 176h2v4h-2zM229 176h3v4h-3zM423 176h4v4h-4zM190 180h2v4h-2zM229 180h3v4h-3zM237 180h2v4h-2zM252 180h2v4h-2zM259 180h3v4h-3zM378 180h5v4h-5zM172 184h3v5h-3zM182 184h3v5h-3zM224 184h3v5h-3zM242 184h2v5h-2zM252 184h2v5h-2zM279 184h3v5h-3zM289 184h2v5h-2zM389 184h5v5h-5zM132 189h2v4h-2zM224 189h3v4h-3zM164 193h1v4h-1zM190 193h2v4h-2zM267 193h2v4h-2zM274 193h3v4h-3zM355 193h6v4h-6zM394 193h6v4h-6zM101 197h1v4h-1zM372 197h6v4h-6zM416 197h7v4h-7zM102 201h2v4h-2zM224 201h3v4h-3zM378 201h5v4h-5zM423 201h4v4h-4zM160 205h1v4h-1zM224 205h3v4h-3zM252 205h2v4h-2zM156 209h1v4h-1zM289 209h2v4h-2zM394 209h6v4h-6zM333 213h5v4h-5zM423 213h4v4h-4zM161 217h1v4h-1zM122 221h2v4h-2zM129 221h1v4h-1zM257 221h2v4h-2zM272 221h2v4h-2zM361 221h5v4h-5zM378 221h5v4h-5zM247 225h2v5h-2zM319 225h2v5h-2zM287 230h2v4h-2zM304 230h2v4h-2zM96 234h1v4h-1zM126 234h1v4h-1zM140 234h1v4h-1zM182 234h3v4h-3zM224 234h3v4h-3zM234 234h3v4h-3zM264 234h3v4h-3zM100 238h1v4h-1zM190 238h2v4h-2zM195 238h2v4h-2zM291 238h3v4h-3zM327 238h6v4h-6zM104 242h1v4h-1zM147 242h2v4h-2zM200 242h2v4h-2zM304 242h2v4h-2zM333 246h5v4h-5zM301 250h3v4h-3zM327 250h6v4h-6zM423 250h4v4h-4zM219 254h3v4h-3zM366 254h6v4h-6zM406 254h5v4h-5zM101 258h1v4h-1zM152 258h2v4h-2zM333 258h5v4h-5zM136 262h1v4h-1zM232 262h2v4h-2zM274 262h5v4h-5zM311 262h3v4h-3zM145 266h1v5h-1zM197 266h3v5h-3zM141 271h1v4h-1zM175 271h2v4h-2zM237 271h2v4h-2zM277 271h5v4h-5zM117 275h2v4h-2zM134 275h1v4h-1zM252 275h2v4h-2zM291 275h3v4h-3zM161 279h1v4h-1zM192 279h3v4h-3zM289 279h2v4h-2zM389 279h5v4h-5zM96 283h1v4h-1zM121 283h1v4h-1zM175 283h2v4h-2zM224 283h3v4h-3zM234 283h3v4h-3zM254 283h3v4h-3zM259 283h3v4h-3zM165 287h2v4h-2zM234 287h3v4h-3zM301 287h3v4h-3zM114 291h1v4h-1zM244 291h3v4h-3zM389 291h5v4h-5zM197 295h3v4h-3zM294 295h2v4h-2zM301 295h3v4h-3zM361 295h5v4h-5zM159 299h1v4h-1zM249 299h3v4h-3zM257 299h2v4h-2zM416 299h7v4h-7zM111 303h1v4h-1zM229 303h3v4h-3zM254 303h3v4h-3zM314 307h2v5h-2zM86 312h1v4h-1zM212 312h2v4h-2zM284 312h3v4h-3zM97 316h2v4h-2zM182 316h3v4h-3zM232 316h2v4h-2zM282 316h2v4h-2zM100 320h1v4h-1zM124 320h1v4h-1zM150 320h1v4h-1zM244 320h3v4h-3zM291 320h3v4h-3zM338 320h6v4h-6zM142 324h2v4h-2zM259 324h3v4h-3zM269 324h3v4h-3zM333 324h5v4h-5zM242 328h2v4h-2zM182 332h3v4h-3zM207 332h2v4h-2zM274 332h3v4h-3zM316 332h3v4h-3zM289 336h2v4h-2zM333 336h5v4h-5zM355 336h6v4h-6zM102 340h2v4h-2zM182 340h3v4h-3zM234 340h3v4h-3zM394 340h6v4h-6zM121 344h1v4h-1zM197 348h3v5h-3zM207 348h2v5h-2zM355 348h6v5h-6zM165 353h2v4h-2zM232 353h2v4h-2zM190 357h2v4h-2zM249 357h3v4h-3zM309 357h2v4h-2zM264 361h3v4h-3zM289 361h2v4h-2zM92 365h2v4h-2zM159 365h1v4h-1zM212 365h2v4h-2zM224 365h3v4h-3zM366 365h6v4h-6zM411 365h5v4h-5zM209 369h3v4h-3zM141 373h1v4h-1zM205 373h2v4h-2zM289 373h2v4h-2zM333 373h5v4h-5zM97 377h2v4h-2zM190 377h2v4h-2zM252 377h2v4h-2zM423 377h4v4h-4zM104 381h1v4h-1zM165 381h2v4h-2zM187 381h3v4h-3zM101 385h3v4h-3zM205 385h2v4h-2zM284 385h3v4h-3zM319 385h2v4h-2zM349 385h6v4h-6zM146 394h1v4h-1zM192 394h3v4h-3zM217 394h2v4h-2zM229 394h3v4h-3zM234 394h3v4h-3zM247 394h2v4h-2zM344 394h5v4h-5zM126 398h1v4h-1zM197 398h3v4h-3zM244 398h3v4h-3zM289 398h2v4h-2zM372 398h6v4h-6zM151 402h1v4h-1zM254 402h3v4h-3zM259 402h3v4h-3zM287 402h2v4h-2zM319 402h2v4h-2zM107 406h2v4h-2zM167 406h3v4h-3zM267 406h2v4h-2zM291 406h3v4h-3zM411 406h5v4h-5z"/><path fill="#4040a2" d="M92 86h2v4h-2zM167 86h3v4h-3zM209 86h3v4h-3zM224 86h3v4h-3zM99 90h1v4h-1zM114 90h1v4h-1zM214 90h3v4h-3zM224 90h5v4h-5zM267 90h2v4h-2zM232 94h2v4h-2zM289 94h2v4h-2zM389 94h5v4h-5zM155 98h1v4h-1zM229 98h3v4h-3zM301 98h3v4h-3zM338 98h6v4h-6zM154 102h1v5h-1zM333 102h5v5h-5zM355 102h6v5h-6zM112 107h2v4h-2zM237 107h2v4h-2zM259 107h3v4h-3zM267 107h2v4h-2zM304 107h5v4h-5zM316 107h3v4h-3zM366 107h6v4h-6zM126 115h1v4h-1zM267 115h2v4h-2zM389 115h5v4h-5zM119 119h1v4h-1zM264 123h3v4h-3zM277 123h2v4h-2zM291 123h3v4h-3zM299 123h2v4h-2zM344 123h5v4h-5zM355 123h6v4h-6zM190 127h2v4h-2zM209 127h3v4h-3zM242 127h2v4h-2zM316 127h3v4h-3zM327 127h6v4h-6zM97 131h2v4h-2zM229 131h3v4h-3zM254 131h3v4h-3zM338 131h6v4h-6zM94 135h1v4h-1zM102 135h2v4h-2zM172 135h3v4h-3zM182 135h3v4h-3zM262 135h2v4h-2zM274 135h3v4h-3zM344 135h5v4h-5zM126 139h1v4h-1zM224 139h3v4h-3zM274 139h3v4h-3zM97 143h2v5h-2zM232 143h2v5h-2zM252 143h2v5h-2zM217 148h2v4h-2zM257 148h2v4h-2zM279 148h3v4h-3zM383 148h6v4h-6zM411 148h5v4h-5zM105 152h1v4h-1zM187 152h3v4h-3zM259 152h3v4h-3zM314 152h2v4h-2zM416 152h7v4h-7zM96 156h1v4h-1zM114 156h1v4h-1zM296 156h3v4h-3zM106 160h3v4h-3zM190 160h2v4h-2zM212 160h2v4h-2zM224 160h3v4h-3zM306 160h3v4h-3zM406 164h5v4h-5zM97 168h2v4h-2zM366 168h6v4h-6zM400 168h6v4h-6zM411 168h5v4h-5zM126 172h1v4h-1zM209 172h3v4h-3zM217 172h5v4h-5zM254 172h5v4h-5zM349 172h6v4h-6zM127 176h2v4h-2zM172 176h3v4h-3zM289 176h2v4h-2zM406 176h5v4h-5zM172 180h5v4h-5zM254 180h3v4h-3zM147 184h2v5h-2zM175 184h2v5h-2zM217 184h2v5h-2zM383 184h6v5h-6zM81 189h1v4h-1zM104 189h1v4h-1zM192 189h3v4h-3zM289 189h2v4h-2zM389 189h5v4h-5zM122 193h2v4h-2zM205 193h2v4h-2zM247 193h2v4h-2zM254 193h3v4h-3zM284 193h3v4h-3zM299 193h2v4h-2zM314 193h2v4h-2zM333 193h5v4h-5zM361 193h5v4h-5zM170 197h2v4h-2zM217 197h2v4h-2zM269 197h3v4h-3zM287 197h2v4h-2zM291 197h3v4h-3zM314 197h2v4h-2zM134 201h1v4h-1zM192 201h3v4h-3zM247 201h2v4h-2zM257 201h2v4h-2zM97 205h2v4h-2zM185 205h2v4h-2zM214 205h3v4h-3zM249 205h3v4h-3zM291 205h3v4h-3zM383 205h11v4h-11zM287 209h2v4h-2zM294 209h2v4h-2zM224 213h3v4h-3zM282 213h5v4h-5zM304 213h2v4h-2zM314 213h2v4h-2zM366 213h6v4h-6zM91 217h1v4h-1zM102 217h2v4h-2zM145 217h1v4h-1zM242 217h2v4h-2zM252 217h2v4h-2zM309 217h2v4h-2zM115 221h1v4h-1zM120 221h1v4h-1zM182 221h3v4h-3zM254 221h3v4h-3zM269 221h3v4h-3zM134 225h1v5h-1zM202 225h3v5h-3zM212 225h2v5h-2zM234 225h3v5h-3zM242 225h2v5h-2zM277 225h2v5h-2zM406 225h5v5h-5zM137 230h2v4h-2zM150 230h1v4h-1zM164 230h1v4h-1zM311 230h3v4h-3zM344 230h5v4h-5zM259 234h3v4h-3zM301 234h3v4h-3zM361 234h5v4h-5zM383 234h6v4h-6zM112 238h2v4h-2zM160 238h1v4h-1zM177 238h3v4h-3zM224 238h3v4h-3zM301 238h3v4h-3zM311 238h5v4h-5zM366 238h6v4h-6zM131 242h1v4h-1zM149 242h1v4h-1zM232 242h2v4h-2zM321 242h6v4h-6zM383 242h6v4h-6zM114 246h1v4h-1zM175 250h2v4h-2zM224 250h3v4h-3zM299 250h2v4h-2zM319 250h2v4h-2zM366 250h6v4h-6zM269 254h3v4h-3zM289 254h2v4h-2zM102 258h2v4h-2zM111 258h1v4h-1zM195 258h2v4h-2zM131 262h1v4h-1zM164 262h3v4h-3zM195 262h2v4h-2zM284 262h3v4h-3zM294 262h2v4h-2zM319 262h2v4h-2zM100 266h1v5h-1zM224 266h3v5h-3zM247 266h2v5h-2zM254 266h3v5h-3zM192 271h5v4h-5zM214 271h3v4h-3zM314 271h2v4h-2zM321 271h6v4h-6zM102 275h2v4h-2zM139 275h1v4h-1zM167 275h3v4h-3zM247 275h2v4h-2zM269 275h3v4h-3zM100 279h1v4h-1zM160 279h1v4h-1zM242 279h2v4h-2zM252 279h2v4h-2zM416 279h7v4h-7zM92 283h2v4h-2zM142 283h2v4h-2zM242 283h2v4h-2zM257 283h2v4h-2zM262 283h2v4h-2zM284 283h3v4h-3zM232 287h2v4h-2zM274 287h3v4h-3zM287 287h2v4h-2zM306 287h3v4h-3zM287 291h2v4h-2zM321 291h6v4h-6zM372 291h6v4h-6zM155 295h1v4h-1zM244 295h3v4h-3zM338 295h6v4h-6zM239 299h3v4h-3zM282 299h2v4h-2zM333 299h5v4h-5zM151 303h1v4h-1zM301 303h3v4h-3zM309 303h2v4h-2zM338 303h6v4h-6zM394 303h6v4h-6zM111 307h1v5h-1zM224 307h3v5h-3zM99 312h1v4h-1zM227 312h2v4h-2zM244 312h3v4h-3zM252 312h2v4h-2zM264 312h3v4h-3zM289 312h2v4h-2zM296 312h5v4h-5zM92 316h2v4h-2zM162 316h2v4h-2zM234 316h3v4h-3zM257 316h2v4h-2zM234 320h3v4h-3zM82 324h2v4h-2zM91 324h1v4h-1zM97 324h2v4h-2zM104 324h1v4h-1zM122 324h2v4h-2zM197 324h3v4h-3zM232 324h2v4h-2zM177 328h3v4h-3zM378 328h5v4h-5zM97 332h2v4h-2zM150 332h1v4h-1zM202 332h3v4h-3zM291 332h3v4h-3zM97 336h2v4h-2zM134 336h1v4h-1zM137 336h2v4h-2zM136 340h1v4h-1zM159 340h1v4h-1zM209 340h3v4h-3zM247 340h2v4h-2zM309 340h2v4h-2zM321 340h6v4h-6zM227 344h2v4h-2zM180 348h2v5h-2zM411 348h5v5h-5zM94 353h1v4h-1zM120 353h1v4h-1zM129 353h1v4h-1zM264 353h3v4h-3zM232 357h2v4h-2zM344 357h5v4h-5zM237 361h2v4h-2zM349 361h6v4h-6zM132 365h2v4h-2zM149 365h1v4h-1zM316 365h3v4h-3zM289 369h2v4h-2zM304 369h2v4h-2zM372 369h6v4h-6zM389 369h5v4h-5zM90 373h1v4h-1zM130 373h1v4h-1zM145 373h1v4h-1zM164 373h1v4h-1zM182 373h3v4h-3zM195 373h2v4h-2zM219 373h3v4h-3zM400 373h6v4h-6zM136 377h1v4h-1zM212 377h2v4h-2zM314 377h2v4h-2zM81 381h1v4h-1zM91 381h1v4h-1zM99 381h1v4h-1zM135 381h1v4h-1zM149 381h1v4h-1zM257 381h2v4h-2zM289 381h2v4h-2zM299 381h2v4h-2zM155 385h1v4h-1zM269 385h3v4h-3zM294 385h2v4h-2zM100 398h1v4h-1zM296 398h3v4h-3zM304 398h5v4h-5zM394 398h6v4h-6zM145 402h1v4h-1zM187 402h3v4h-3zM277 402h2v4h-2zM411 402h5v4h-5zM284 406h3v4h-3z"/><path fill="#4146ac" d="M86 86h1v4h-1zM267 86h2v4h-2zM279 86h3v4h-3zM284 86h3v4h-3zM294 86h2v4h-2zM304 86h2v4h-2zM311 86h3v4h-3zM327 86h6v4h-6zM91 90h1v4h-1zM154 90h1v4h-1zM219 90h3v4h-3zM259 90h3v4h-3zM277 90h5v4h-5zM406 90h5v4h-5zM259 94h3v4h-3zM269 94h3v4h-3zM274 94h3v4h-3zM309 94h2v4h-2zM416 94h7v4h-7zM126 98h1v4h-1zM141 98h1v4h-1zM242 98h2v4h-2zM284 98h3v4h-3zM294 98h2v4h-2zM389 98h5v4h-5zM167 102h3v5h-3zM249 102h3v5h-3zM289 102h2v5h-2zM294 102h2v5h-2zM344 102h5v5h-5zM172 107h3v4h-3zM219 107h3v4h-3zM264 107h3v4h-3zM282 107h2v4h-2zM309 107h2v4h-2zM102 111h2v4h-2zM156 111h1v4h-1zM314 111h2v4h-2zM355 111h6v4h-6zM366 111h6v4h-6zM416 111h7v4h-7zM96 115h1v4h-1zM139 115h1v4h-1zM284 115h3v4h-3zM311 115h3v4h-3zM112 119h3v4h-3zM294 119h2v4h-2zM299 119h2v4h-2zM207 123h2v4h-2zM257 123h2v4h-2zM267 123h2v4h-2zM282 123h2v4h-2zM311 123h3v4h-3zM333 123h5v4h-5zM154 127h1v4h-1zM344 127h5v4h-5zM101 131h1v4h-1zM160 131h1v4h-1zM316 131h3v4h-3zM411 131h5v4h-5zM97 135h2v4h-2zM175 135h2v4h-2zM192 135h3v4h-3zM314 135h2v4h-2zM361 135h5v4h-5zM95 139h1v4h-1zM132 139h2v4h-2zM200 139h2v4h-2zM257 139h2v4h-2zM366 139h6v4h-6zM86 143h1v5h-1zM149 143h1v5h-1zM187 143h3v5h-3zM219 143h3v5h-3zM269 143h3v5h-3zM111 148h1v4h-1zM124 148h1v4h-1zM361 148h5v4h-5zM82 152h2v4h-2zM85 152h1v4h-1zM224 152h3v4h-3zM232 152h2v4h-2zM262 152h2v4h-2zM284 152h3v4h-3zM296 152h3v4h-3zM304 152h2v4h-2zM200 156h2v4h-2zM234 156h3v4h-3zM254 156h3v4h-3zM294 156h2v4h-2zM304 156h2v4h-2zM95 160h1v4h-1zM120 160h1v4h-1zM165 160h2v4h-2zM291 160h3v4h-3zM355 160h6v4h-6zM97 164h2v4h-2zM172 164h3v4h-3zM349 164h6v4h-6zM192 168h3v4h-3zM306 168h3v4h-3zM319 168h2v4h-2zM333 168h5v4h-5zM349 168h6v4h-6zM372 168h6v4h-6zM105 172h1v4h-1zM107 172h2v4h-2zM170 172h2v4h-2zM242 172h2v4h-2zM400 172h6v4h-6zM82 176h2v4h-2zM95 176h1v4h-1zM272 176h2v4h-2zM296 176h3v4h-3zM361 176h5v4h-5zM301 180h3v4h-3zM314 180h2v4h-2zM361 180h5v4h-5zM383 180h6v4h-6zM151 184h1v5h-1zM234 184h3v5h-3zM259 184h3v5h-3zM274 184h3v5h-3zM306 184h3v5h-3zM316 184h3v5h-3zM423 184h4v5h-4zM150 189h1v4h-1zM207 189h2v4h-2zM249 189h3v4h-3zM301 189h3v4h-3zM151 193h1v4h-1zM195 193h2v4h-2zM212 193h2v4h-2zM217 193h2v4h-2zM224 193h3v4h-3zM411 193h5v4h-5zM127 197h2v4h-2zM296 197h3v4h-3zM311 197h3v4h-3zM349 197h6v4h-6zM99 201h1v4h-1zM122 201h2v4h-2zM139 201h1v4h-1zM190 201h2v4h-2zM279 201h3v4h-3zM289 201h2v4h-2zM162 205h2v4h-2zM234 205h3v4h-3zM217 209h2v4h-2zM100 213h1v4h-1zM151 213h1v4h-1zM175 213h2v4h-2zM400 213h6v4h-6zM136 217h1v4h-1zM264 217h5v4h-5zM97 221h2v4h-2zM100 221h1v4h-1zM217 221h2v4h-2zM274 221h5v4h-5zM316 221h3v4h-3zM416 221h7v4h-7zM105 225h1v5h-1zM150 225h1v5h-1zM197 225h3v5h-3zM299 225h2v5h-2zM306 225h3v5h-3zM227 230h2v4h-2zM254 230h5v4h-5zM100 234h1v4h-1zM109 234h1v4h-1zM144 234h1v4h-1zM202 234h3v4h-3zM214 234h3v4h-3zM277 234h2v4h-2zM304 234h2v4h-2zM338 234h6v4h-6zM217 238h2v4h-2zM227 238h2v4h-2zM254 238h3v4h-3zM394 238h6v4h-6zM96 242h1v4h-1zM192 242h3v4h-3zM219 242h3v4h-3zM301 242h3v4h-3zM97 246h2v4h-2zM137 246h2v4h-2zM202 246h3v4h-3zM244 246h3v4h-3zM249 246h5v4h-5zM257 250h2v4h-2zM306 250h3v4h-3zM333 250h5v4h-5zM394 250h6v4h-6zM234 254h3v4h-3zM264 254h3v4h-3zM277 254h2v4h-2zM304 254h2v4h-2zM227 258h2v4h-2zM311 258h3v4h-3zM319 258h2v4h-2zM117 262h2v4h-2zM145 262h1v4h-1zM161 262h1v4h-1zM177 262h3v4h-3zM192 262h3v4h-3zM212 262h2v4h-2zM272 262h2v4h-2zM299 262h2v4h-2zM400 262h6v4h-6zM416 262h11v4h-11zM102 266h2v5h-2zM170 266h2v5h-2zM227 266h2v5h-2zM91 271h1v4h-1zM217 271h2v4h-2zM224 271h3v4h-3zM267 271h2v4h-2zM349 271h6v4h-6zM224 275h3v4h-3zM279 275h3v4h-3zM301 275h3v4h-3zM327 275h11v4h-11zM130 279h1v4h-1zM164 279h1v4h-1zM259 279h3v4h-3zM264 279h5v4h-5zM294 279h2v4h-2zM338 279h6v4h-6zM237 283h2v4h-2zM289 283h2v4h-2zM389 283h5v4h-5zM219 287h3v4h-3zM224 287h3v4h-3zM319 287h2v4h-2zM338 287h6v4h-6zM361 287h5v4h-5zM100 291h1v4h-1zM237 291h2v4h-2zM383 291h6v4h-6zM366 295h6v4h-6zM389 295h5v4h-5zM406 295h10v4h-10zM109 299h1v4h-1zM112 299h2v4h-2zM254 299h3v4h-3zM304 299h2v4h-2zM232 303h2v4h-2zM85 307h1v5h-1zM234 307h3v5h-3zM239 307h3v5h-3zM264 307h3v5h-3zM291 307h3v5h-3zM111 312h3v4h-3zM127 312h2v4h-2zM267 312h2v4h-2zM294 312h2v4h-2zM132 316h2v4h-2zM149 316h1v4h-1zM229 316h3v4h-3zM249 316h3v4h-3zM316 320h3v4h-3zM349 320h6v4h-6zM119 324h1v4h-1zM150 324h1v4h-1zM224 324h3v4h-3zM406 324h5v4h-5zM137 328h2v4h-2zM172 328h3v4h-3zM190 328h2v4h-2zM202 328h3v4h-3zM289 328h2v4h-2zM132 332h2v4h-2zM239 332h3v4h-3zM284 332h3v4h-3zM406 332h5v4h-5zM120 336h1v4h-1zM160 336h1v4h-1zM192 336h3v4h-3zM252 336h2v4h-2zM287 336h2v4h-2zM306 336h3v4h-3zM344 336h5v4h-5zM97 340h2v4h-2zM114 340h1v4h-1zM115 344h1v4h-1zM161 344h1v4h-1zM309 344h2v4h-2zM165 348h2v5h-2zM378 348h5v5h-5zM114 353h1v4h-1zM127 353h2v4h-2zM252 353h2v4h-2zM277 353h2v4h-2zM378 353h5v4h-5zM134 357h1v4h-1zM161 357h1v4h-1zM219 357h3v4h-3zM239 357h3v4h-3zM252 357h2v4h-2zM267 357h2v4h-2zM301 357h3v4h-3zM333 357h5v4h-5zM406 357h5v4h-5zM274 361h5v4h-5zM119 365h1v4h-1zM137 365h2v4h-2zM192 365h3v4h-3zM217 365h2v4h-2zM99 369h1v4h-1zM160 369h1v4h-1zM212 369h2v4h-2zM338 369h6v4h-6zM406 369h5v4h-5zM150 373h1v4h-1zM172 373h3v4h-3zM301 373h3v4h-3zM355 373h6v4h-6zM423 373h4v4h-4zM170 377h2v4h-2zM242 377h2v4h-2zM259 377h3v4h-3zM306 377h3v4h-3zM355 377h6v4h-6zM151 381h1v4h-1zM411 381h5v4h-5zM121 385h1v4h-1zM127 385h2v4h-2zM267 385h2v4h-2zM344 385h5v4h-5zM366 385h12v4h-12zM182 389h3v5h-3zM296 389h3v5h-3zM327 389h6v5h-6zM95 394h1v4h-1zM164 394h1v4h-1zM289 394h2v4h-2zM299 394h2v4h-2zM333 394h5v4h-5zM423 394h4v4h-4zM301 398h3v4h-3zM314 398h5v4h-5zM327 398h6v4h-6zM349 398h6v4h-6zM97 402h2v4h-2zM242 402h2v4h-2zM296 402h3v4h-3zM366 402h6v4h-6zM423 402h4v4h-4zM349 406h6v4h-6z"/><path fill="#424bb5" d="M95 86h1v4h-1zM127 86h2v4h-2zM130 86h1v4h-1zM217 86h2v4h-2zM227 86h2v4h-2zM244 86h3v4h-3zM135 90h1v4h-1zM195 90h2v4h-2zM289 90h2v4h-2zM299 90h2v4h-2zM338 90h11v4h-11zM89 94h1v4h-1zM126 94h1v4h-1zM175 94h2v4h-2zM301 94h3v4h-3zM116 98h1v4h-1zM136 98h1v4h-1zM172 98h3v4h-3zM214 98h3v4h-3zM277 98h2v4h-2zM316 98h3v4h-3zM86 102h1v5h-1zM95 102h1v5h-1zM100 102h2v5h-2zM106 102h1v5h-1zM155 102h1v5h-1zM264 102h3v5h-3zM304 102h2v5h-2zM349 102h6v5h-6zM146 107h1v4h-1zM284 107h3v4h-3zM301 107h3v4h-3zM319 107h2v4h-2zM327 107h6v4h-6zM406 107h5v4h-5zM165 111h2v4h-2zM242 111h2v4h-2zM289 111h2v4h-2zM304 111h2v4h-2zM321 111h6v4h-6zM99 115h1v4h-1zM182 115h3v4h-3zM249 115h3v4h-3zM279 115h3v4h-3zM304 115h2v4h-2zM327 115h6v4h-6zM92 123h2v4h-2zM217 123h2v4h-2zM247 123h2v4h-2zM284 123h3v4h-3zM314 123h2v4h-2zM400 123h6v4h-6zM90 127h1v4h-1zM97 127h2v4h-2zM110 127h2v4h-2zM125 127h1v4h-1zM197 127h3v4h-3zM244 127h3v4h-3zM378 127h5v4h-5zM170 131h2v4h-2zM175 131h2v4h-2zM232 131h2v4h-2zM267 131h2v4h-2zM372 131h6v4h-6zM394 131h6v4h-6zM416 131h7v4h-7zM197 135h3v4h-3zM217 135h2v4h-2zM264 135h3v4h-3zM244 139h3v4h-3zM333 139h5v4h-5zM91 143h1v5h-1zM109 143h1v5h-1zM267 143h2v5h-2zM272 143h2v5h-2zM159 148h1v4h-1zM187 148h3v4h-3zM212 148h2v4h-2zM232 148h2v4h-2zM321 148h6v4h-6zM214 152h3v4h-3zM229 152h3v4h-3zM264 152h3v4h-3zM289 152h2v4h-2zM294 152h2v4h-2zM306 152h3v4h-3zM99 156h1v4h-1zM229 156h3v4h-3zM327 156h6v4h-6zM130 160h1v4h-1zM267 160h2v4h-2zM279 160h3v4h-3zM309 160h5v4h-5zM92 164h2v4h-2zM232 164h2v4h-2zM311 164h3v4h-3zM411 164h5v4h-5zM212 168h2v4h-2zM242 168h2v4h-2zM282 168h2v4h-2zM383 172h6v4h-6zM192 176h3v4h-3zM237 176h2v4h-2zM338 176h11v4h-11zM97 180h2v4h-2zM107 180h2v4h-2zM257 180h2v4h-2zM338 180h6v4h-6zM372 180h6v4h-6zM116 184h1v5h-1zM141 184h1v5h-1zM91 189h1v4h-1zM111 189h1v4h-1zM214 189h3v4h-3zM229 189h3v4h-3zM247 189h2v4h-2zM304 189h2v4h-2zM309 189h2v4h-2zM406 189h5v4h-5zM172 193h3v4h-3zM239 193h3v4h-3zM304 193h2v4h-2zM200 197h2v4h-2zM361 197h5v4h-5zM87 201h2v4h-2zM96 201h1v4h-1zM119 201h1v4h-1zM237 201h2v4h-2zM82 205h2v4h-2zM129 205h1v4h-1zM217 205h2v4h-2zM284 205h3v4h-3zM120 209h1v4h-1zM162 209h3v4h-3zM195 209h2v4h-2zM249 209h3v4h-3zM304 209h2v4h-2zM99 213h1v4h-1zM180 213h2v4h-2zM192 213h3v4h-3zM267 213h2v4h-2zM311 213h3v4h-3zM338 213h6v4h-6zM195 217h2v4h-2zM344 217h5v4h-5zM124 221h1v4h-1zM131 221h1v4h-1zM187 221h3v4h-3zM279 221h3v4h-3zM291 221h3v4h-3zM296 221h3v4h-3zM327 225h6v5h-6zM170 230h2v4h-2zM277 230h2v4h-2zM301 230h3v4h-3zM309 230h2v4h-2zM327 230h6v4h-6zM366 230h6v4h-6zM394 230h6v4h-6zM190 234h2v4h-2zM232 234h2v4h-2zM252 234h2v4h-2zM306 234h3v4h-3zM316 234h3v4h-3zM344 234h5v4h-5zM110 238h1v4h-1zM167 238h3v4h-3zM259 238h3v4h-3zM316 238h3v4h-3zM142 242h2v4h-2zM197 242h3v4h-3zM247 242h2v4h-2zM267 242h2v4h-2zM309 242h2v4h-2zM102 246h2v4h-2zM159 246h1v4h-1zM161 246h3v4h-3zM267 246h2v4h-2zM355 246h6v4h-6zM416 246h7v4h-7zM182 250h3v4h-3zM309 250h2v4h-2zM207 254h2v4h-2zM247 254h2v4h-2zM299 254h2v4h-2zM92 258h2v4h-2zM137 258h2v4h-2zM154 258h1v4h-1zM205 258h2v4h-2zM287 258h2v4h-2zM299 258h2v4h-2zM314 258h2v4h-2zM338 258h6v4h-6zM361 258h5v4h-5zM378 258h5v4h-5zM105 262h1v4h-1zM107 262h2v4h-2zM137 262h2v4h-2zM289 262h2v4h-2zM104 266h1v5h-1zM141 266h1v5h-1zM262 266h2v5h-2zM319 266h2v5h-2zM287 271h2v4h-2zM344 271h5v4h-5zM114 275h1v4h-1zM125 275h1v4h-1zM212 275h2v4h-2zM234 275h3v4h-3zM338 275h6v4h-6zM162 279h2v4h-2zM200 279h2v4h-2zM327 279h6v4h-6zM383 279h6v4h-6zM423 279h4v4h-4zM116 283h1v4h-1zM319 283h2v4h-2zM202 287h3v4h-3zM259 287h3v4h-3zM277 287h2v4h-2zM120 291h1v4h-1zM141 291h1v4h-1zM154 291h1v4h-1zM197 291h3v4h-3zM277 291h2v4h-2zM314 291h5v4h-5zM239 295h3v4h-3zM306 295h3v4h-3zM144 299h1v4h-1zM156 299h1v4h-1zM294 299h2v4h-2zM311 299h3v4h-3zM321 299h6v4h-6zM400 299h6v4h-6zM131 303h1v4h-1zM205 303h2v4h-2zM252 303h2v4h-2zM304 303h2v4h-2zM333 303h5v4h-5zM372 303h6v4h-6zM135 307h1v5h-1zM147 307h2v5h-2zM177 307h3v5h-3zM192 307h3v5h-3zM257 307h2v5h-2zM355 307h6v5h-6zM242 312h2v4h-2zM316 312h3v4h-3zM333 312h5v4h-5zM106 316h1v4h-1zM129 316h1v4h-1zM146 316h1v4h-1zM242 316h2v4h-2zM259 316h3v4h-3zM294 316h2v4h-2zM316 316h3v4h-3zM96 320h1v4h-1zM120 320h1v4h-1zM131 320h1v4h-1zM156 320h1v4h-1zM160 320h1v4h-1zM185 320h2v4h-2zM195 320h2v4h-2zM254 320h3v4h-3zM299 320h2v4h-2zM344 320h5v4h-5zM167 324h3v4h-3zM202 324h3v4h-3zM264 324h3v4h-3zM274 324h3v4h-3zM372 324h6v4h-6zM156 328h1v4h-1zM229 328h3v4h-3zM269 328h3v4h-3zM287 328h2v4h-2zM294 328h2v4h-2zM91 332h1v4h-1zM96 332h1v4h-1zM131 332h1v4h-1zM192 332h3v4h-3zM209 332h3v4h-3zM277 332h2v4h-2zM282 332h2v4h-2zM190 336h2v4h-2zM195 336h2v4h-2zM242 336h2v4h-2zM279 336h3v4h-3zM119 340h1v4h-1zM122 340h3v4h-3zM267 340h2v4h-2zM284 340h3v4h-3zM301 340h3v4h-3zM349 340h6v4h-6zM366 340h6v4h-6zM311 344h3v4h-3zM383 344h6v4h-6zM130 348h1v5h-1zM252 348h2v5h-2zM262 348h2v5h-2zM299 348h2v5h-2zM309 348h2v5h-2zM99 353h1v4h-1zM107 353h2v4h-2zM151 353h1v4h-1zM254 353h3v4h-3zM259 353h3v4h-3zM279 353h3v4h-3zM301 353h5v4h-5zM321 353h6v4h-6zM349 353h6v4h-6zM383 353h6v4h-6zM306 357h3v4h-3zM311 357h3v4h-3zM87 361h2v4h-2zM139 361h1v4h-1zM159 361h2v4h-2zM205 361h2v4h-2zM131 365h1v4h-1zM136 365h1v4h-1zM175 365h2v4h-2zM214 365h3v4h-3zM301 365h3v4h-3zM361 365h5v4h-5zM131 369h1v4h-1zM252 369h2v4h-2zM269 369h3v4h-3zM279 369h3v4h-3zM299 369h2v4h-2zM97 373h2v4h-2zM177 373h3v4h-3zM190 373h2v4h-2zM212 373h2v4h-2zM252 373h2v4h-2zM262 373h2v4h-2zM267 373h2v4h-2zM277 373h2v4h-2zM349 373h6v4h-6zM87 377h2v4h-2zM112 377h2v4h-2zM119 377h1v4h-1zM130 377h1v4h-1zM257 377h2v4h-2zM187 385h3v4h-3zM237 385h2v4h-2zM282 385h2v4h-2zM309 385h2v4h-2zM97 389h2v5h-2zM154 389h1v5h-1zM164 389h1v5h-1zM229 389h5v5h-5zM237 389h2v5h-2zM269 389h5v5h-5zM306 389h3v5h-3zM344 389h5v5h-5zM361 389h5v5h-5zM94 394h1v4h-1zM237 394h5v4h-5zM249 394h3v4h-3zM257 394h2v4h-2zM383 394h6v4h-6zM85 398h1v4h-1zM140 398h1v4h-1zM145 398h1v4h-1zM147 398h2v4h-2zM247 398h2v4h-2zM252 398h2v4h-2zM389 398h5v4h-5zM111 402h1v4h-1zM147 402h2v4h-2zM244 402h3v4h-3zM301 402h3v4h-3zM84 406h1v4h-1zM102 406h2v4h-2zM112 406h2v4h-2zM159 406h1v4h-1zM197 406h5v4h-5z"/><path fill="#4451bf" d="M242 86h2v4h-2zM274 86h5v4h-5zM291 86h3v4h-3zM314 86h2v4h-2zM319 86h2v4h-2zM333 86h5v4h-5zM355 86h6v4h-6zM100 90h1v4h-1zM162 90h2v4h-2zM200 90h2v4h-2zM249 90h3v4h-3zM284 90h3v4h-3zM301 90h5v4h-5zM321 90h6v4h-6zM355 90h6v4h-6zM212 94h2v4h-2zM239 94h3v4h-3zM282 94h2v4h-2zM311 94h3v4h-3zM355 94h6v4h-6zM130 98h1v4h-1zM185 98h2v4h-2zM190 98h2v4h-2zM209 98h3v4h-3zM309 98h2v4h-2zM99 102h1v5h-1zM185 102h2v5h-2zM301 102h3v5h-3zM306 102h3v5h-3zM119 107h1v4h-1zM296 107h3v4h-3zM344 107h5v4h-5zM86 111h1v4h-1zM119 111h1v4h-1zM125 111h1v4h-1zM116 115h1v4h-1zM289 115h2v4h-2zM299 115h2v4h-2zM115 119h1v4h-1zM147 119h2v4h-2zM154 119h1v4h-1zM232 119h2v4h-2zM259 119h3v4h-3zM304 119h2v4h-2zM309 119h2v4h-2zM321 119h6v4h-6zM383 119h6v4h-6zM110 123h1v4h-1zM125 123h1v4h-1zM165 123h2v4h-2zM202 123h3v4h-3zM279 123h3v4h-3zM86 127h1v4h-1zM99 127h1v4h-1zM172 127h3v4h-3zM200 127h2v4h-2zM219 127h3v4h-3zM239 127h3v4h-3zM289 127h2v4h-2zM361 127h5v4h-5zM172 131h3v4h-3zM282 131h2v4h-2zM383 131h6v4h-6zM99 135h1v4h-1zM131 135h1v4h-1zM155 135h1v4h-1zM187 135h3v4h-3zM279 135h3v4h-3zM284 135h3v4h-3zM299 135h2v4h-2zM144 139h1v4h-1zM156 139h1v4h-1zM306 139h3v4h-3zM316 139h5v4h-5zM172 143h3v5h-3zM259 143h3v5h-3zM366 143h6v5h-6zM106 148h1v4h-1zM151 148h1v4h-1zM175 148h2v4h-2zM252 148h2v4h-2zM294 148h2v4h-2zM306 148h3v4h-3zM333 148h5v4h-5zM86 152h1v4h-1zM144 152h1v4h-1zM182 152h3v4h-3zM272 152h2v4h-2zM301 152h3v4h-3zM338 152h6v4h-6zM131 156h1v4h-1zM160 156h1v4h-1zM264 156h3v4h-3zM122 160h2v4h-2zM202 160h3v4h-3zM254 160h3v4h-3zM282 160h2v4h-2zM299 160h2v4h-2zM389 160h5v4h-5zM287 164h2v4h-2zM86 168h1v4h-1zM95 168h1v4h-1zM99 168h1v4h-1zM101 168h1v4h-1zM127 168h2v4h-2zM205 168h2v4h-2zM85 172h1v4h-1zM132 172h2v4h-2zM149 172h1v4h-1zM249 172h3v4h-3zM81 176h1v4h-1zM99 176h1v4h-1zM106 176h1v4h-1zM111 176h1v4h-1zM145 176h1v4h-1zM244 176h3v4h-3zM254 176h3v4h-3zM383 176h6v4h-6zM200 180h2v4h-2zM247 180h2v4h-2zM291 180h3v4h-3zM104 184h1v5h-1zM205 184h2v5h-2zM247 184h2v5h-2zM319 184h2v5h-2zM109 189h1v4h-1zM130 189h1v4h-1zM182 189h3v4h-3zM205 189h2v4h-2zM217 189h2v4h-2zM252 189h2v4h-2zM259 189h3v4h-3zM264 189h3v4h-3zM279 189h3v4h-3zM299 189h2v4h-2zM306 189h3v4h-3zM314 189h2v4h-2zM321 189h6v4h-6zM97 193h2v4h-2zM125 193h1v4h-1zM127 193h2v4h-2zM147 193h2v4h-2zM202 193h3v4h-3zM227 193h2v4h-2zM234 193h3v4h-3zM244 193h3v4h-3zM277 193h5v4h-5zM124 197h1v4h-1zM141 197h3v4h-3zM152 197h3v4h-3zM289 197h2v4h-2zM267 201h5v4h-5zM172 205h3v4h-3zM190 205h2v4h-2zM205 205h2v4h-2zM237 205h2v4h-2zM247 205h2v4h-2zM355 205h6v4h-6zM139 209h1v4h-1zM152 209h2v4h-2zM234 209h3v4h-3zM262 209h2v4h-2zM234 213h3v4h-3zM306 213h3v4h-3zM125 217h1v4h-1zM134 217h1v4h-1zM224 217h3v4h-3zM301 217h3v4h-3zM316 217h3v4h-3zM89 221h1v4h-1zM110 221h1v4h-1zM164 221h1v4h-1zM190 221h2v4h-2zM284 221h3v4h-3zM311 221h3v4h-3zM383 221h6v4h-6zM423 221h4v4h-4zM151 225h1v5h-1zM170 225h2v5h-2zM180 225h2v5h-2zM219 225h3v5h-3zM279 225h3v5h-3zM304 225h2v5h-2zM316 225h3v5h-3zM349 225h6v5h-6zM100 230h1v4h-1zM122 230h2v4h-2zM145 230h1v4h-1zM149 230h1v4h-1zM209 230h3v4h-3zM229 230h3v4h-3zM237 230h2v4h-2zM242 230h5v4h-5zM289 230h2v4h-2zM314 230h2v4h-2zM389 230h5v4h-5zM127 234h2v4h-2zM134 234h1v4h-1zM145 234h2v4h-2zM151 234h1v4h-1zM197 234h3v4h-3zM282 234h5v4h-5zM299 234h2v4h-2zM372 234h6v4h-6zM394 234h6v4h-6zM172 238h3v4h-3zM229 238h3v4h-3zM349 238h6v4h-6zM121 242h1v4h-1zM154 242h1v4h-1zM277 242h2v4h-2zM311 242h3v4h-3zM378 242h5v4h-5zM110 246h1v4h-1zM135 246h1v4h-1zM214 246h3v4h-3zM299 246h2v4h-2zM127 250h2v4h-2zM155 250h1v4h-1zM164 250h1v4h-1zM192 250h3v4h-3zM282 250h2v4h-2zM287 250h2v4h-2zM97 254h2v4h-2zM104 254h1v4h-1zM111 254h1v4h-1zM195 254h2v4h-2zM333 254h5v4h-5zM372 254h6v4h-6zM151 258h1v4h-1zM209 258h3v4h-3zM349 258h6v4h-6zM383 258h6v4h-6zM142 262h2v4h-2zM149 262h1v4h-1zM152 262h2v4h-2zM160 262h1v4h-1zM306 262h3v4h-3zM338 262h11v4h-11zM89 266h1v5h-1zM119 266h1v5h-1zM127 266h2v5h-2zM304 266h2v5h-2zM309 266h2v5h-2zM411 266h5v5h-5zM139 271h1v4h-1zM144 271h1v4h-1zM147 271h2v4h-2zM212 271h2v4h-2zM252 271h5v4h-5zM272 271h2v4h-2zM301 271h3v4h-3zM311 271h3v4h-3zM400 271h6v4h-6zM99 275h2v4h-2zM151 275h1v4h-1zM197 275h3v4h-3zM264 275h3v4h-3zM294 275h2v4h-2zM321 275h6v4h-6zM366 275h6v4h-6zM102 279h2v4h-2zM147 279h2v4h-2zM150 279h1v4h-1zM156 279h1v4h-1zM172 279h3v4h-3zM232 279h2v4h-2zM247 279h2v4h-2zM274 279h3v4h-3zM349 279h6v4h-6zM134 283h1v4h-1zM146 283h1v4h-1zM252 283h2v4h-2zM279 283h3v4h-3zM333 283h5v4h-5zM400 283h6v4h-6zM92 287h2v4h-2zM111 287h1v4h-1zM142 287h2v4h-2zM145 287h1v4h-1zM172 287h3v4h-3zM209 287h5v4h-5zM299 287h2v4h-2zM86 291h1v4h-1zM105 291h1v4h-1zM180 291h2v4h-2zM234 291h3v4h-3zM267 291h2v4h-2zM306 291h3v4h-3zM423 291h4v4h-4zM85 295h1v4h-1zM145 295h1v4h-1zM175 295h2v4h-2zM200 295h2v4h-2zM249 295h3v4h-3zM161 299h1v4h-1zM175 299h2v4h-2zM232 299h2v4h-2zM125 303h1v4h-1zM180 303h2v4h-2zM202 303h3v4h-3zM257 303h2v4h-2zM284 303h3v4h-3zM104 307h1v5h-1zM109 307h1v5h-1zM162 307h2v5h-2zM165 307h2v5h-2zM296 307h3v5h-3zM304 307h2v5h-2zM85 312h1v4h-1zM177 312h3v4h-3zM274 312h5v4h-5zM150 316h1v4h-1zM192 316h5v4h-5zM239 316h3v4h-3zM267 316h2v4h-2zM301 316h3v4h-3zM284 320h3v4h-3zM314 320h2v4h-2zM361 320h5v4h-5zM100 324h1v4h-1zM132 324h2v4h-2zM165 324h2v4h-2zM316 324h3v4h-3zM86 328h1v4h-1zM105 328h1v4h-1zM249 328h3v4h-3zM259 328h3v4h-3zM304 328h2v4h-2zM104 332h1v4h-1zM145 332h1v4h-1zM156 332h1v4h-1zM161 332h1v4h-1zM294 332h2v4h-2zM349 332h6v4h-6zM121 336h1v4h-1zM146 336h1v4h-1zM214 336h3v4h-3zM294 336h2v4h-2zM301 336h3v4h-3zM366 336h6v4h-6zM116 340h1v4h-1zM141 340h1v4h-1zM154 340h1v4h-1zM175 340h2v4h-2zM254 340h3v4h-3zM272 340h2v4h-2zM95 344h1v4h-1zM214 344h3v4h-3zM242 344h2v4h-2zM267 344h2v4h-2zM284 344h5v4h-5zM296 344h3v4h-3zM95 348h1v5h-1zM117 348h2v5h-2zM159 348h1v5h-1zM177 348h3v5h-3zM195 348h2v5h-2zM232 348h5v5h-5zM272 348h2v5h-2zM406 348h5v5h-5zM95 353h1v4h-1zM242 353h2v4h-2zM249 353h3v4h-3zM289 353h2v4h-2zM344 353h5v4h-5zM389 353h5v4h-5zM400 353h6v4h-6zM124 357h1v4h-1zM150 357h1v4h-1zM175 357h2v4h-2zM259 357h3v4h-3zM217 361h2v4h-2zM232 361h2v4h-2zM247 361h2v4h-2zM252 361h2v4h-2zM311 361h5v4h-5zM378 361h5v4h-5zM99 365h2v4h-2zM121 365h1v4h-1zM127 365h2v4h-2zM145 365h1v4h-1zM185 365h2v4h-2zM269 365h3v4h-3zM309 365h5v4h-5zM85 369h1v4h-1zM164 369h1v4h-1zM187 369h3v4h-3zM257 369h2v4h-2zM321 369h6v4h-6zM94 373h1v4h-1zM117 373h2v4h-2zM124 373h1v4h-1zM129 373h1v4h-1zM185 373h2v4h-2zM327 373h6v4h-6zM344 373h5v4h-5zM165 377h2v4h-2zM232 377h2v4h-2zM274 377h3v4h-3zM299 377h2v4h-2zM311 377h3v4h-3zM90 381h1v4h-1zM145 381h1v4h-1zM212 381h2v4h-2zM254 381h3v4h-3zM291 381h3v4h-3zM114 385h1v4h-1zM136 385h1v4h-1zM142 385h2v4h-2zM242 385h2v4h-2zM257 385h2v4h-2zM272 385h2v4h-2zM134 389h1v5h-1zM227 389h2v5h-2zM289 389h2v5h-2zM100 394h1v4h-1zM127 394h2v4h-2zM267 394h2v4h-2zM321 394h6v4h-6zM86 398h1v4h-1zM121 398h1v4h-1zM237 398h2v4h-2zM277 398h5v4h-5zM311 398h3v4h-3zM361 398h5v4h-5zM411 398h5v4h-5zM247 402h2v4h-2zM306 402h5v4h-5zM383 402h6v4h-6zM99 406h1v4h-1zM239 406h3v4h-3zM254 406h3v4h-3zM264 406h3v4h-3zM304 406h2v4h-2zM321 406h6v4h-6zM333 406h5v4h-5zM366 406h6v4h-6zM378 406h5v4h-5zM400 406h6v4h-6z"/><path fill="#4456c7" d="M383 81h6v5h-6zM394 81h6v5h-6zM406 81h5v5h-5zM107 86h2v4h-2zM124 86h1v4h-1zM145 86h1v4h-1zM259 86h3v4h-3zM338 86h6v4h-6zM86 90h1v4h-1zM106 90h1v4h-1zM167 90h3v4h-3zM192 90h3v4h-3zM197 90h3v4h-3zM244 90h3v4h-3zM257 90h2v4h-2zM264 90h3v4h-3zM327 90h6v4h-6zM111 94h1v4h-1zM150 94h1v4h-1zM164 94h1v4h-1zM264 94h3v4h-3zM279 94h3v4h-3zM372 94h6v4h-6zM105 98h1v4h-1zM160 98h1v4h-1zM234 98h3v4h-3zM304 98h2v4h-2zM107 102h2v5h-2zM175 102h2v5h-2zM197 102h3v5h-3zM209 102h3v5h-3zM219 102h3v5h-3zM234 102h3v5h-3zM242 102h2v5h-2zM257 102h2v5h-2zM389 102h5v5h-5zM117 107h2v4h-2zM139 107h1v4h-1zM170 107h2v4h-2zM252 107h5v4h-5zM130 111h1v4h-1zM150 111h1v4h-1zM170 111h2v4h-2zM227 111h2v4h-2zM262 111h2v4h-2zM279 111h5v4h-5zM378 111h5v4h-5zM150 115h1v4h-1zM244 115h3v4h-3zM274 115h3v4h-3zM306 115h3v4h-3zM91 119h1v4h-1zM146 119h1v4h-1zM172 119h3v4h-3zM192 119h3v4h-3zM269 119h3v4h-3zM289 119h2v4h-2zM333 119h5v4h-5zM145 123h1v4h-1zM167 123h3v4h-3zM229 123h3v4h-3zM254 123h3v4h-3zM119 127h1v4h-1zM140 127h1v4h-1zM164 127h1v4h-1zM232 127h2v4h-2zM272 127h2v4h-2zM291 127h3v4h-3zM262 131h2v4h-2zM423 131h4v4h-4zM106 135h1v4h-1zM252 135h2v4h-2zM301 135h3v4h-3zM316 135h3v4h-3zM406 135h5v4h-5zM135 139h1v4h-1zM242 139h2v4h-2zM304 139h2v4h-2zM309 139h2v4h-2zM161 143h1v5h-1zM195 143h2v5h-2zM257 143h2v5h-2zM311 143h3v5h-3zM333 143h5v5h-5zM104 148h1v4h-1zM126 148h1v4h-1zM145 148h1v4h-1zM244 148h3v4h-3zM284 148h3v4h-3zM122 152h2v4h-2zM274 152h3v4h-3zM344 152h5v4h-5zM121 156h1v4h-1zM144 156h1v4h-1zM159 156h1v4h-1zM167 156h3v4h-3zM224 156h3v4h-3zM244 156h3v4h-3zM316 156h3v4h-3zM383 156h11v4h-11zM121 160h1v4h-1zM125 160h1v4h-1zM146 160h1v4h-1zM155 160h1v4h-1zM232 160h2v4h-2zM257 160h2v4h-2zM149 164h1v4h-1zM182 164h3v4h-3zM192 164h3v4h-3zM247 164h2v4h-2zM282 164h2v4h-2zM314 164h2v4h-2zM87 168h2v4h-2zM105 168h1v4h-1zM134 168h1v4h-1zM156 168h1v4h-1zM197 168h3v4h-3zM217 168h2v4h-2zM321 168h6v4h-6zM115 172h1v4h-1zM119 172h1v4h-1zM135 172h1v4h-1zM227 172h2v4h-2zM237 172h2v4h-2zM162 176h2v4h-2zM214 176h3v4h-3zM252 176h2v4h-2zM309 176h2v4h-2zM232 180h5v4h-5zM249 180h3v4h-3zM264 180h3v4h-3zM284 180h3v4h-3zM344 180h5v4h-5zM145 184h1v5h-1zM161 184h1v5h-1zM272 184h2v5h-2zM291 184h3v5h-3zM366 184h6v5h-6zM87 189h2v4h-2zM99 189h1v4h-1zM257 189h2v4h-2zM269 189h3v4h-3zM333 189h5v4h-5zM82 193h2v4h-2zM114 193h1v4h-1zM121 193h1v4h-1zM134 193h1v4h-1zM170 193h2v4h-2zM321 193h12v4h-12zM349 193h6v4h-6zM182 197h3v4h-3zM267 197h2v4h-2zM319 197h2v4h-2zM110 201h1v4h-1zM137 201h2v4h-2zM149 201h1v4h-1zM155 201h1v4h-1zM217 201h2v4h-2zM291 201h3v4h-3zM372 201h6v4h-6zM104 205h1v4h-1zM152 205h2v4h-2zM227 205h2v4h-2zM232 205h2v4h-2zM267 205h2v4h-2zM95 209h1v4h-1zM144 209h1v4h-1zM175 209h2v4h-2zM212 209h2v4h-2zM366 209h6v4h-6zM87 213h2v4h-2zM141 213h1v4h-1zM150 217h1v4h-1zM156 217h1v4h-1zM190 217h2v4h-2zM294 217h2v4h-2zM306 217h3v4h-3zM319 217h2v4h-2zM99 221h1v4h-1zM117 221h2v4h-2zM162 221h2v4h-2zM192 221h3v4h-3zM212 221h2v4h-2zM252 221h2v4h-2zM262 221h2v4h-2zM319 221h8v4h-8zM91 225h1v5h-1zM132 225h2v5h-2zM162 225h2v5h-2zM209 225h3v5h-3zM259 225h3v5h-3zM361 225h5v5h-5zM124 230h1v4h-1zM126 230h1v4h-1zM212 230h2v4h-2zM232 230h2v4h-2zM264 230h3v4h-3zM284 230h3v4h-3zM316 230h3v4h-3zM378 230h5v4h-5zM217 234h2v4h-2zM242 234h2v4h-2zM279 234h3v4h-3zM311 234h3v4h-3zM319 234h2v4h-2zM150 238h1v4h-1zM262 238h2v4h-2zM274 238h3v4h-3zM309 238h2v4h-2zM136 242h1v4h-1zM227 242h2v4h-2zM234 242h3v4h-3zM314 242h2v4h-2zM95 246h1v4h-1zM289 246h2v4h-2zM111 250h1v4h-1zM121 250h1v4h-1zM152 250h2v4h-2zM219 250h3v4h-3zM244 250h3v4h-3zM124 254h1v4h-1zM152 254h2v4h-2zM161 254h1v4h-1zM306 254h3v4h-3zM316 254h3v4h-3zM321 254h6v4h-6zM114 258h1v4h-1zM156 258h1v4h-1zM197 258h3v4h-3zM229 258h3v4h-3zM309 258h2v4h-2zM355 258h6v4h-6zM411 258h5v4h-5zM89 262h1v4h-1zM99 262h1v4h-1zM269 262h3v4h-3zM355 262h6v4h-6zM142 266h2v5h-2zM187 266h3v5h-3zM242 266h2v5h-2zM321 266h6v5h-6zM95 271h1v4h-1zM180 271h2v4h-2zM209 271h3v4h-3zM232 271h2v4h-2zM247 271h2v4h-2zM85 275h1v4h-1zM272 275h2v4h-2zM306 275h3v4h-3zM349 275h6v4h-6zM244 279h3v4h-3zM277 279h2v4h-2zM314 279h2v4h-2zM321 279h6v4h-6zM84 283h1v4h-1zM150 283h1v4h-1zM172 283h3v4h-3zM195 283h2v4h-2zM212 283h2v4h-2zM232 283h2v4h-2zM316 283h3v4h-3zM237 287h2v4h-2zM411 287h5v4h-5zM161 291h1v4h-1zM182 291h3v4h-3zM252 291h2v4h-2zM309 291h2v4h-2zM136 295h1v4h-1zM144 295h1v4h-1zM212 295h2v4h-2zM259 295h3v4h-3zM349 295h6v4h-6zM116 299h1v4h-1zM127 299h2v4h-2zM131 299h1v4h-1zM147 299h2v4h-2zM289 299h2v4h-2zM86 303h1v4h-1zM89 303h1v4h-1zM109 303h1v4h-1zM140 303h1v4h-1zM152 303h2v4h-2zM164 303h1v4h-1zM170 303h2v4h-2zM195 303h2v4h-2zM269 303h5v4h-5zM130 307h1v5h-1zM170 307h2v5h-2zM205 307h2v5h-2zM212 307h2v5h-2zM247 307h2v5h-2zM272 307h2v5h-2zM277 307h2v5h-2zM423 307h4v5h-4zM132 312h2v4h-2zM160 312h1v4h-1zM257 312h5v4h-5zM301 312h3v4h-3zM306 312h3v4h-3zM87 316h3v4h-3zM121 316h1v4h-1zM131 316h1v4h-1zM165 316h2v4h-2zM180 316h2v4h-2zM247 316h2v4h-2zM252 316h2v4h-2zM306 316h3v4h-3zM190 320h2v4h-2zM200 320h2v4h-2zM85 324h1v4h-1zM105 324h1v4h-1zM112 324h3v4h-3zM195 324h2v4h-2zM207 324h2v4h-2zM267 324h2v4h-2zM287 324h2v4h-2zM291 324h3v4h-3zM361 324h5v4h-5zM141 328h1v4h-1zM197 328h3v4h-3zM296 328h3v4h-3zM306 328h3v4h-3zM311 328h5v4h-5zM172 332h5v4h-5zM254 332h3v4h-3zM279 332h3v4h-3zM82 336h2v4h-2zM150 336h1v4h-1zM202 336h3v4h-3zM234 336h3v4h-3zM257 336h2v4h-2zM115 340h1v4h-1zM127 340h2v4h-2zM177 340h3v4h-3zM205 340h2v4h-2zM244 340h3v4h-3zM202 344h3v4h-3zM209 344h3v4h-3zM264 344h3v4h-3zM361 344h5v4h-5zM212 348h2v5h-2zM227 348h2v5h-2zM242 348h5v5h-5zM257 348h2v5h-2zM269 348h3v5h-3zM294 348h2v5h-2zM366 348h6v5h-6zM126 353h1v4h-1zM154 353h1v4h-1zM205 353h2v4h-2zM151 361h1v4h-1zM207 365h2v4h-2zM232 365h2v4h-2zM237 365h2v4h-2zM267 365h2v4h-2zM284 365h3v4h-3zM296 365h3v4h-3zM333 365h5v4h-5zM105 369h1v4h-1zM119 369h1v4h-1zM145 369h1v4h-1zM180 369h2v4h-2zM361 369h5v4h-5zM136 373h1v4h-1zM155 373h1v4h-1zM209 373h3v4h-3zM254 373h3v4h-3zM264 373h3v4h-3zM296 373h3v4h-3zM249 377h3v4h-3zM284 377h3v4h-3zM294 377h2v4h-2zM301 377h3v4h-3zM344 377h5v4h-5zM383 377h6v4h-6zM400 377h6v4h-6zM227 381h2v4h-2zM282 381h2v4h-2zM321 381h6v4h-6zM100 385h1v4h-1zM106 385h1v4h-1zM172 385h3v4h-3zM311 385h3v4h-3zM411 385h5v4h-5zM142 389h2v5h-2zM160 389h1v5h-1zM172 389h3v5h-3zM180 389h2v5h-2zM192 389h3v5h-3zM247 389h2v5h-2zM294 389h2v5h-2zM107 394h2v4h-2zM160 394h1v4h-1zM232 394h2v4h-2zM291 394h3v4h-3zM304 394h2v4h-2zM338 394h6v4h-6zM355 394h11v4h-11zM142 398h2v4h-2zM167 398h3v4h-3zM200 398h2v4h-2zM264 398h3v4h-3zM299 398h2v4h-2zM321 398h6v4h-6zM192 402h3v4h-3zM207 402h2v4h-2zM214 402h3v4h-3zM279 402h5v4h-5zM361 402h5v4h-5zM164 406h1v4h-1zM205 406h2v4h-2zM234 406h5v4h-5zM294 406h2v4h-2z"/><path fill="#455ccf" d="M378 81h5v5h-5zM389 81h5v5h-5zM400 81h6v5h-6zM115 86h1v4h-1zM119 86h1v4h-1zM129 86h1v4h-1zM139 86h1v4h-1zM164 86h1v4h-1zM190 86h2v4h-2zM229 86h3v4h-3zM252 86h2v4h-2zM287 90h2v4h-2zM316 90h3v4h-3zM130 94h1v4h-1zM147 94h2v4h-2zM200 94h2v4h-2zM234 94h3v4h-3zM247 94h2v4h-2zM262 94h2v4h-2zM294 94h5v4h-5zM321 94h6v4h-6zM109 98h1v4h-1zM156 98h1v4h-1zM232 98h2v4h-2zM311 98h3v4h-3zM333 98h5v4h-5zM274 102h3v5h-3zM309 102h2v5h-2zM90 107h1v4h-1zM129 107h1v4h-1zM136 107h1v4h-1zM190 107h2v4h-2zM209 107h3v4h-3zM104 111h1v4h-1zM132 111h2v4h-2zM197 111h3v4h-3zM209 111h3v4h-3zM274 111h3v4h-3zM344 111h11v4h-11zM92 115h2v4h-2zM287 119h2v4h-2zM164 123h1v4h-1zM252 123h2v4h-2zM289 123h2v4h-2zM316 123h3v4h-3zM81 127h1v4h-1zM127 127h2v4h-2zM249 127h3v4h-3zM262 127h2v4h-2zM284 127h3v4h-3zM94 131h1v4h-1zM130 131h1v4h-1zM134 131h1v4h-1zM227 131h2v4h-2zM237 131h2v4h-2zM289 131h2v4h-2zM294 131h2v4h-2zM132 135h2v4h-2zM147 135h3v4h-3zM167 135h3v4h-3zM209 135h3v4h-3zM219 135h3v4h-3zM232 135h2v4h-2zM289 135h2v4h-2zM366 135h6v4h-6zM84 139h1v4h-1zM120 139h1v4h-1zM232 139h5v4h-5zM279 139h3v4h-3zM287 139h2v4h-2zM314 139h2v4h-2zM95 143h2v5h-2zM107 143h2v5h-2zM132 143h2v5h-2zM160 143h1v5h-1zM214 143h3v5h-3zM234 143h3v5h-3zM361 143h5v5h-5zM378 143h5v5h-5zM85 148h1v4h-1zM99 148h1v4h-1zM155 148h1v4h-1zM172 148h3v4h-3zM264 148h3v4h-3zM274 148h3v4h-3zM314 148h2v4h-2zM423 148h4v4h-4zM104 152h1v4h-1zM149 152h1v4h-1zM349 152h6v4h-6zM134 156h1v4h-1zM142 156h2v4h-2zM149 156h1v4h-1zM155 156h1v4h-1zM242 156h2v4h-2zM257 156h2v4h-2zM262 156h2v4h-2zM279 156h3v4h-3zM299 156h2v4h-2zM321 160h6v4h-6zM333 160h5v4h-5zM140 164h1v4h-1zM157 164h2v4h-2zM160 164h1v4h-1zM180 164h2v4h-2zM205 164h2v4h-2zM224 164h3v4h-3zM274 164h3v4h-3zM117 168h2v4h-2zM214 168h3v4h-3zM277 168h2v4h-2zM287 168h2v4h-2zM311 168h3v4h-3zM131 172h1v4h-1zM140 172h1v4h-1zM151 172h1v4h-1zM180 172h2v4h-2zM277 172h5v4h-5zM311 172h3v4h-3zM361 172h5v4h-5zM389 172h5v4h-5zM129 176h1v4h-1zM152 176h2v4h-2zM234 176h3v4h-3zM284 176h3v4h-3zM301 176h3v4h-3zM389 176h5v4h-5zM95 180h1v4h-1zM115 180h1v4h-1zM159 180h1v4h-1zM269 180h3v4h-3zM279 180h3v4h-3zM287 180h2v4h-2zM309 180h2v4h-2zM160 184h1v5h-1zM227 184h2v5h-2zM254 184h3v5h-3zM282 184h2v5h-2zM314 184h2v5h-2zM124 189h1v4h-1zM136 189h1v4h-1zM162 189h2v4h-2zM219 189h3v4h-3zM239 189h3v4h-3zM274 189h3v4h-3zM291 189h3v4h-3zM319 189h2v4h-2zM99 193h1v4h-1zM124 193h1v4h-1zM144 193h1v4h-1zM175 193h2v4h-2zM219 193h3v4h-3zM289 193h2v4h-2zM309 193h2v4h-2zM146 197h1v4h-1zM151 197h1v4h-1zM205 197h2v4h-2zM224 197h3v4h-3zM282 197h2v4h-2zM294 197h2v4h-2zM366 197h6v4h-6zM411 197h5v4h-5zM89 201h1v4h-1zM135 201h1v4h-1zM349 201h6v4h-6zM366 201h6v4h-6zM110 205h1v4h-1zM126 205h1v4h-1zM137 205h2v4h-2zM146 205h1v4h-1zM212 205h2v4h-2zM262 205h2v4h-2zM299 205h2v4h-2zM314 205h2v4h-2zM321 205h6v4h-6zM349 205h6v4h-6zM84 209h1v4h-1zM112 209h2v4h-2zM131 209h1v4h-1zM140 209h1v4h-1zM247 209h2v4h-2zM267 209h2v4h-2zM107 213h2v4h-2zM146 213h1v4h-1zM207 213h2v4h-2zM242 213h2v4h-2zM247 213h2v4h-2zM289 213h2v4h-2zM321 213h6v4h-6zM406 213h5v4h-5zM99 217h1v4h-1zM175 217h2v4h-2zM234 217h3v4h-3zM257 217h2v4h-2zM304 217h2v4h-2zM114 221h1v4h-1zM146 221h1v4h-1zM161 221h1v4h-1zM185 221h2v4h-2zM227 221h2v4h-2zM234 221h5v4h-5zM306 221h3v4h-3zM355 221h6v4h-6zM110 225h1v5h-1zM129 225h1v5h-1zM145 225h1v5h-1zM147 225h2v5h-2zM177 225h3v5h-3zM272 225h2v5h-2zM311 225h3v5h-3zM344 225h5v5h-5zM82 230h2v4h-2zM120 230h1v4h-1zM202 230h3v4h-3zM267 230h2v4h-2zM333 230h5v4h-5zM104 234h1v4h-1zM132 234h2v4h-2zM136 234h3v4h-3zM170 234h2v4h-2zM257 234h2v4h-2zM140 238h1v4h-1zM155 238h1v4h-1zM205 238h2v4h-2zM234 238h3v4h-3zM257 238h2v4h-2zM267 238h2v4h-2zM338 238h6v4h-6zM95 242h1v4h-1zM137 242h2v4h-2zM160 242h1v4h-1zM237 242h2v4h-2zM252 242h2v4h-2zM262 242h2v4h-2zM333 242h5v4h-5zM124 246h1v4h-1zM140 246h1v4h-1zM200 246h2v4h-2zM209 246h3v4h-3zM272 246h2v4h-2zM287 246h2v4h-2zM291 246h3v4h-3zM327 246h6v4h-6zM344 246h5v4h-5zM151 250h1v4h-1zM237 250h2v4h-2zM304 250h2v4h-2zM349 250h6v4h-6zM89 254h1v4h-1zM301 254h3v4h-3zM355 254h6v4h-6zM90 258h1v4h-1zM119 258h1v4h-1zM125 258h1v4h-1zM132 258h2v4h-2zM165 258h2v4h-2zM190 258h2v4h-2zM219 258h3v4h-3zM272 258h2v4h-2zM301 258h3v4h-3zM316 258h3v4h-3zM95 262h1v4h-1zM115 262h1v4h-1zM151 262h1v4h-1zM159 262h1v4h-1zM175 262h2v4h-2zM217 262h2v4h-2zM304 262h2v4h-2zM321 262h6v4h-6zM134 266h1v5h-1zM172 266h3v5h-3zM177 266h3v5h-3zM239 266h3v5h-3zM269 266h3v5h-3zM306 266h3v5h-3zM333 266h5v5h-5zM344 266h5v5h-5zM372 266h6v5h-6zM115 271h1v4h-1zM131 271h1v4h-1zM136 271h1v4h-1zM150 271h1v4h-1zM202 271h3v4h-3zM219 271h3v4h-3zM291 271h3v4h-3zM109 275h1v4h-1zM150 275h1v4h-1zM209 275h3v4h-3zM284 275h3v4h-3zM296 275h3v4h-3zM355 275h6v4h-6zM99 279h1v4h-1zM112 279h2v4h-2zM117 279h2v4h-2zM120 279h1v4h-1zM311 279h3v4h-3zM319 279h2v4h-2zM131 283h1v4h-1zM136 283h1v4h-1zM140 283h1v4h-1zM190 283h2v4h-2zM200 283h2v4h-2zM247 283h2v4h-2zM264 283h3v4h-3zM304 283h2v4h-2zM321 283h6v4h-6zM378 283h5v4h-5zM82 287h2v4h-2zM120 287h1v4h-1zM239 287h3v4h-3zM257 287h2v4h-2zM294 287h2v4h-2zM127 291h2v4h-2zM132 291h2v4h-2zM150 291h1v4h-1zM209 291h3v4h-3zM247 291h2v4h-2zM257 291h2v4h-2zM291 291h3v4h-3zM301 291h3v4h-3zM327 291h6v4h-6zM349 291h6v4h-6zM87 295h3v4h-3zM131 295h1v4h-1zM232 295h2v4h-2zM170 299h2v4h-2zM85 303h1v4h-1zM146 303h1v4h-1zM187 303h3v4h-3zM212 303h2v4h-2zM161 307h1v5h-1zM182 307h3v5h-3zM232 307h2v5h-2zM249 307h3v5h-3zM321 307h6v5h-6zM144 312h1v4h-1zM205 312h2v4h-2zM311 312h5v4h-5zM127 316h2v4h-2zM130 316h1v4h-1zM145 316h1v4h-1zM159 316h1v4h-1zM190 316h2v4h-2zM277 316h2v4h-2zM291 316h3v4h-3zM304 316h2v4h-2zM115 320h1v4h-1zM126 320h1v4h-1zM136 320h1v4h-1zM151 320h1v4h-1zM232 320h2v4h-2zM267 320h2v4h-2zM296 320h3v4h-3zM86 324h1v4h-1zM96 324h1v4h-1zM110 324h1v4h-1zM161 324h1v4h-1zM164 324h1v4h-1zM182 324h3v4h-3zM306 324h3v4h-3zM209 328h3v4h-3zM234 328h3v4h-3zM274 328h3v4h-3zM92 332h2v4h-2zM134 332h1v4h-1zM141 332h1v4h-1zM167 332h3v4h-3zM214 332h3v4h-3zM227 332h2v4h-2zM269 332h3v4h-3zM314 332h2v4h-2zM154 336h1v4h-1zM185 336h2v4h-2zM262 336h2v4h-2zM267 336h2v4h-2zM274 336h3v4h-3zM299 336h2v4h-2zM304 336h2v4h-2zM89 340h1v4h-1zM132 340h2v4h-2zM137 340h2v4h-2zM229 340h3v4h-3zM279 340h3v4h-3zM105 344h1v4h-1zM110 344h1v4h-1zM149 344h1v4h-1zM190 344h2v4h-2zM195 344h2v4h-2zM249 344h3v4h-3zM254 344h3v4h-3zM269 344h3v4h-3zM299 344h2v4h-2zM423 344h4v4h-4zM136 348h1v5h-1zM160 348h1v5h-1zM190 348h2v5h-2zM205 348h2v5h-2zM217 348h2v5h-2zM264 348h3v5h-3zM344 348h5v5h-5zM104 353h1v4h-1zM202 353h3v4h-3zM207 353h2v4h-2zM291 353h3v4h-3zM316 353h3v4h-3zM155 357h1v4h-1zM167 357h3v4h-3zM234 357h3v4h-3zM269 357h3v4h-3zM355 357h6v4h-6zM416 357h7v4h-7zM122 361h2v4h-2zM172 361h5v4h-5zM195 361h2v4h-2zM224 361h3v4h-3zM259 361h3v4h-3zM269 361h3v4h-3zM291 361h3v4h-3zM304 361h2v4h-2zM84 365h1v4h-1zM91 365h1v4h-1zM272 365h2v4h-2zM321 365h6v4h-6zM338 365h6v4h-6zM154 369h1v4h-1zM175 369h2v4h-2zM296 369h3v4h-3zM139 373h1v4h-1zM282 373h2v4h-2zM89 377h1v4h-1zM95 377h1v4h-1zM114 377h1v4h-1zM141 377h1v4h-1zM159 377h1v4h-1zM277 377h5v4h-5zM349 377h6v4h-6zM361 377h5v4h-5zM389 377h5v4h-5zM134 381h1v4h-1zM190 381h2v4h-2zM249 381h3v4h-3zM259 381h3v4h-3zM264 381h3v4h-3zM279 381h3v4h-3zM119 385h1v4h-1zM200 385h2v4h-2zM209 385h3v4h-3zM217 385h2v4h-2zM224 385h3v4h-3zM247 385h2v4h-2zM254 385h3v4h-3zM277 385h2v4h-2zM291 385h3v4h-3zM333 385h5v4h-5zM94 389h1v5h-1zM99 389h1v5h-1zM127 389h2v5h-2zM165 389h2v5h-2zM234 389h3v5h-3zM252 389h2v5h-2zM299 389h5v5h-5zM366 389h6v5h-6zM114 394h1v4h-1zM116 394h1v4h-1zM130 394h1v4h-1zM177 394h3v4h-3zM262 394h2v4h-2zM306 394h3v4h-3zM316 394h3v4h-3zM119 398h1v4h-1zM132 398h2v4h-2zM239 398h5v4h-5zM254 398h3v4h-3zM259 398h3v4h-3zM274 398h3v4h-3zM291 398h5v4h-5zM152 402h2v4h-2zM162 402h2v4h-2zM185 402h2v4h-2zM344 402h5v4h-5zM85 406h1v4h-1zM106 406h1v4h-1zM147 406h2v4h-2zM195 406h2v4h-2zM259 406h5v4h-5zM287 406h2v4h-2zM344 406h5v4h-5z"/><path fill="#4661d6" d="M411 81h5v5h-5zM87 86h2v4h-2zM144 86h1v4h-1zM180 86h2v4h-2zM247 86h2v4h-2zM282 86h2v4h-2zM296 86h5v4h-5zM92 90h2v4h-2zM116 90h1v4h-1zM125 90h1v4h-1zM150 90h1v4h-1zM161 90h1v4h-1zM177 90h3v4h-3zM185 90h2v4h-2zM242 90h2v4h-2zM309 90h2v4h-2zM87 94h2v4h-2zM117 94h2v4h-2zM121 94h1v4h-1zM152 94h2v4h-2zM156 94h1v4h-1zM209 94h3v4h-3zM287 94h2v4h-2zM112 98h2v4h-2zM131 98h1v4h-1zM197 98h5v4h-5zM252 98h2v4h-2zM257 98h2v4h-2zM267 98h2v4h-2zM279 98h3v4h-3zM306 98h3v4h-3zM109 102h1v5h-1zM116 102h1v5h-1zM136 102h1v5h-1zM140 102h1v5h-1zM180 102h2v5h-2zM195 102h2v5h-2zM229 102h3v5h-3zM327 102h6v5h-6zM366 102h6v5h-6zM95 107h1v4h-1zM132 107h2v4h-2zM205 107h4v4h-4zM134 111h1v4h-1zM152 111h2v4h-2zM161 111h1v4h-1zM177 111h3v4h-3zM182 111h3v4h-3zM234 111h3v4h-3zM249 111h3v4h-3zM272 111h2v4h-2zM338 111h6v4h-6zM152 115h2v4h-2zM229 115h3v4h-3zM254 115h3v4h-3zM301 115h3v4h-3zM95 119h1v4h-1zM152 119h2v4h-2zM162 119h2v4h-2zM175 119h2v4h-2zM197 119h3v4h-3zM205 119h2v4h-2zM237 119h2v4h-2zM264 119h3v4h-3zM107 123h2v4h-2zM149 123h1v4h-1zM151 123h1v4h-1zM269 123h3v4h-3zM85 127h1v4h-1zM92 127h2v4h-2zM155 127h1v4h-1zM264 127h3v4h-3zM299 127h2v4h-2zM164 131h1v4h-1zM212 131h7v4h-7zM287 131h2v4h-2zM301 131h3v4h-3zM121 135h1v4h-1zM124 135h1v4h-1zM115 139h1v4h-1zM130 139h1v4h-1zM152 139h2v4h-2zM192 139h3v4h-3zM227 139h2v4h-2zM338 139h6v4h-6zM383 139h6v4h-6zM140 143h1v5h-1zM182 143h3v5h-3zM197 143h3v5h-3zM229 143h3v5h-3zM247 143h5v5h-5zM296 143h3v5h-3zM309 143h2v5h-2zM177 148h3v4h-3zM200 148h2v4h-2zM207 148h2v4h-2zM254 148h3v4h-3zM272 148h2v4h-2zM296 148h3v4h-3zM142 152h2v4h-2zM219 152h3v4h-3zM254 152h3v4h-3zM269 152h3v4h-3zM291 152h3v4h-3zM147 156h2v4h-2zM190 156h2v4h-2zM282 156h2v4h-2zM99 160h1v4h-1zM344 160h5v4h-5zM95 164h1v4h-1zM110 164h1v4h-1zM129 164h1v4h-1zM234 164h3v4h-3zM284 164h3v4h-3zM344 164h5v4h-5zM126 168h1v4h-1zM165 168h5v4h-5zM207 168h2v4h-2zM234 168h3v4h-3zM309 168h2v4h-2zM139 172h1v4h-1zM207 172h2v4h-2zM244 172h3v4h-3zM289 172h2v4h-2zM296 172h3v4h-3zM416 172h7v4h-7zM109 176h1v4h-1zM116 176h1v4h-1zM287 176h2v4h-2zM311 176h3v4h-3zM319 176h2v4h-2zM116 180h1v4h-1zM154 180h1v4h-1zM156 180h1v4h-1zM182 180h3v4h-3zM195 180h2v4h-2zM242 180h2v4h-2zM311 180h3v4h-3zM316 180h3v4h-3zM81 184h1v5h-1zM87 184h2v5h-2zM97 184h2v5h-2zM114 184h2v5h-2zM142 184h2v5h-2zM214 184h3v5h-3zM164 189h1v4h-1zM209 189h3v4h-3zM311 189h3v4h-3zM327 189h6v4h-6zM105 193h1v4h-1zM154 193h1v4h-1zM197 193h3v4h-3zM136 197h1v4h-1zM212 197h5v4h-5zM279 197h3v4h-3zM304 197h2v4h-2zM383 197h11v4h-11zM120 201h1v4h-1zM182 201h3v4h-3zM219 201h3v4h-3zM242 201h2v4h-2zM259 201h3v4h-3zM301 201h3v4h-3zM115 205h1v4h-1zM170 205h2v4h-2zM301 205h3v4h-3zM319 205h2v4h-2zM119 209h1v4h-1zM264 209h3v4h-3zM269 209h3v4h-3zM277 209h2v4h-2zM296 209h3v4h-3zM349 209h6v4h-6zM104 213h1v4h-1zM252 213h2v4h-2zM355 213h6v4h-6zM82 217h2v4h-2zM147 217h2v4h-2zM192 217h3v4h-3zM291 217h3v4h-3zM378 217h5v4h-5zM137 221h2v4h-2zM151 221h1v4h-1zM289 221h2v4h-2zM299 221h2v4h-2zM333 221h5v4h-5zM349 221h6v4h-6zM366 221h6v4h-6zM122 225h2v5h-2zM167 225h3v5h-3zM200 225h2v5h-2zM207 225h2v5h-2zM227 225h2v5h-2zM257 225h2v5h-2zM269 225h3v5h-3zM314 225h2v5h-2zM333 225h5v5h-5zM104 230h1v4h-1zM134 230h1v4h-1zM155 230h1v4h-1zM274 230h3v4h-3zM319 230h8v4h-8zM95 234h1v4h-1zM99 234h1v4h-1zM149 234h1v4h-1zM175 234h2v4h-2zM185 234h2v4h-2zM192 234h3v4h-3zM267 234h2v4h-2zM274 234h3v4h-3zM389 234h5v4h-5zM120 238h1v4h-1zM132 238h2v4h-2zM264 238h3v4h-3zM277 238h2v4h-2zM284 238h5v4h-5zM299 238h2v4h-2zM304 238h2v4h-2zM321 238h6v4h-6zM92 242h2v4h-2zM161 242h1v4h-1zM185 242h2v4h-2zM257 242h2v4h-2zM121 246h1v4h-1zM141 246h1v4h-1zM187 246h3v4h-3zM227 246h2v4h-2zM423 246h4v4h-4zM86 250h1v4h-1zM120 250h1v4h-1zM131 250h1v4h-1zM146 250h1v4h-1zM207 250h2v4h-2zM252 250h2v4h-2zM361 250h5v4h-5zM105 254h1v4h-1zM282 254h2v4h-2zM124 258h1v4h-1zM164 258h1v4h-1zM200 258h2v4h-2zM234 258h3v4h-3zM257 258h2v4h-2zM264 258h3v4h-3zM269 258h3v4h-3zM277 258h7v4h-7zM291 258h3v4h-3zM85 262h1v4h-1zM141 262h1v4h-1zM214 262h3v4h-3zM234 262h3v4h-3zM252 262h2v4h-2zM327 262h6v4h-6zM366 262h6v4h-6zM99 266h1v5h-1zM117 266h2v5h-2zM121 266h1v5h-1zM164 266h1v5h-1zM214 266h3v5h-3zM267 266h2v5h-2zM274 266h5v5h-5zM284 266h3v5h-3zM349 266h6v5h-6zM94 271h1v4h-1zM126 271h1v4h-1zM207 271h2v4h-2zM227 271h2v4h-2zM282 271h2v4h-2zM294 271h2v4h-2zM299 271h2v4h-2zM87 275h2v4h-2zM90 275h1v4h-1zM135 275h1v4h-1zM311 275h3v4h-3zM111 279h1v4h-1zM137 279h2v4h-2zM202 279h3v4h-3zM249 279h3v4h-3zM282 279h5v4h-5zM90 283h1v4h-1zM122 283h2v4h-2zM156 283h1v4h-1zM185 283h2v4h-2zM205 283h2v4h-2zM249 283h3v4h-3zM287 283h2v4h-2zM131 287h1v4h-1zM333 287h5v4h-5zM130 291h1v4h-1zM146 291h1v4h-1zM175 291h5v4h-5zM120 295h1v4h-1zM135 295h1v4h-1zM190 295h2v4h-2zM195 295h2v4h-2zM269 295h3v4h-3zM106 299h1v4h-1zM151 299h1v4h-1zM190 299h2v4h-2zM195 299h2v4h-2zM104 303h1v4h-1zM124 303h1v4h-1zM132 303h2v4h-2zM135 303h1v4h-1zM156 303h1v4h-1zM162 303h2v4h-2zM214 303h3v4h-3zM239 303h3v4h-3zM244 303h3v4h-3zM378 303h5v4h-5zM99 307h1v5h-1zM122 307h2v5h-2zM142 307h2v5h-2zM159 307h1v5h-1zM190 307h2v5h-2zM319 307h2v5h-2zM92 312h2v4h-2zM134 312h1v4h-1zM319 312h2v4h-2zM140 316h1v4h-1zM160 316h1v4h-1zM274 316h3v4h-3zM327 316h6v4h-6zM344 316h5v4h-5zM85 320h1v4h-1zM94 320h2v4h-2zM144 320h1v4h-1zM170 320h2v4h-2zM207 320h2v4h-2zM214 320h3v4h-3zM259 320h3v4h-3zM269 320h5v4h-5zM277 320h2v4h-2zM309 320h2v4h-2zM319 320h2v4h-2zM92 324h2v4h-2zM106 324h1v4h-1zM109 324h1v4h-1zM120 324h1v4h-1zM146 324h1v4h-1zM170 324h2v4h-2zM185 324h2v4h-2zM244 324h3v4h-3zM252 324h2v4h-2zM277 324h2v4h-2zM120 328h1v4h-1zM129 328h1v4h-1zM162 328h3v4h-3zM180 328h2v4h-2zM200 328h2v4h-2zM227 328h2v4h-2zM257 328h2v4h-2zM291 328h3v4h-3zM82 332h2v4h-2zM86 332h1v4h-1zM136 332h1v4h-1zM140 332h1v4h-1zM242 332h2v4h-2zM287 332h2v4h-2zM299 332h2v4h-2zM306 332h3v4h-3zM105 336h1v4h-1zM172 336h3v4h-3zM232 336h2v4h-2zM99 340h1v4h-1zM150 340h1v4h-1zM319 340h2v4h-2zM89 344h1v4h-1zM155 344h1v4h-1zM167 344h5v4h-5zM289 344h2v4h-2zM294 344h2v4h-2zM321 344h6v4h-6zM333 344h5v4h-5zM144 348h1v5h-1zM151 348h1v5h-1zM229 348h3v5h-3zM237 348h2v5h-2zM304 348h2v5h-2zM327 348h6v5h-6zM338 348h6v5h-6zM92 353h2v4h-2zM116 353h1v4h-1zM150 353h1v4h-1zM217 353h2v4h-2zM234 353h3v4h-3zM287 353h2v4h-2zM306 353h3v4h-3zM327 353h6v4h-6zM132 357h2v4h-2zM144 357h1v4h-1zM162 357h2v4h-2zM187 357h3v4h-3zM277 357h5v4h-5zM349 357h6v4h-6zM149 361h1v4h-1zM197 361h3v4h-3zM254 361h5v4h-5zM282 361h2v4h-2zM294 361h2v4h-2zM301 361h3v4h-3zM344 361h5v4h-5zM372 361h6v4h-6zM87 365h2v4h-2zM110 365h1v4h-1zM170 365h2v4h-2zM187 365h3v4h-3zM200 365h2v4h-2zM247 365h2v4h-2zM306 365h3v4h-3zM319 365h2v4h-2zM92 369h2v4h-2zM146 369h1v4h-1zM239 369h3v4h-3zM274 369h3v4h-3zM316 369h3v4h-3zM84 373h1v4h-1zM121 373h1v4h-1zM167 373h5v4h-5zM197 373h3v4h-3zM237 373h2v4h-2zM257 373h5v4h-5zM372 373h6v4h-6zM99 377h1v4h-1zM160 377h1v4h-1zM162 377h2v4h-2zM309 377h2v4h-2zM127 381h2v4h-2zM180 381h2v4h-2zM209 381h3v4h-3zM294 381h2v4h-2zM86 385h1v4h-1zM92 385h2v4h-2zM132 385h2v4h-2zM175 385h2v4h-2zM195 385h2v4h-2zM212 385h2v4h-2zM259 385h3v4h-3zM296 385h3v4h-3zM117 389h4v5h-4zM156 389h1v5h-1zM197 389h3v5h-3zM257 389h2v5h-2zM264 389h3v5h-3zM316 389h3v5h-3zM355 389h6v5h-6zM99 394h1v4h-1zM141 394h1v4h-1zM154 394h1v4h-1zM180 394h2v4h-2zM197 394h3v4h-3zM224 394h5v4h-5zM252 394h2v4h-2zM264 394h3v4h-3zM287 394h2v4h-2zM116 398h1v4h-1zM130 398h1v4h-1zM175 398h2v4h-2zM99 402h1v4h-1zM107 402h2v4h-2zM116 402h1v4h-1zM144 402h1v4h-1zM180 402h2v4h-2zM195 402h2v4h-2zM299 402h2v4h-2zM87 406h2v4h-2zM202 406h3v4h-3zM209 406h3v4h-3zM227 406h2v4h-2zM252 406h2v4h-2zM274 406h3v4h-3z"/><path fill="#4666dd" d="M344 81h5v5h-5zM372 81h6v5h-6zM85 86h1v4h-1zM122 86h2v4h-2zM134 86h1v4h-1zM150 86h1v4h-1zM172 86h3v4h-3zM195 86h2v4h-2zM212 86h2v4h-2zM316 86h3v4h-3zM85 90h1v4h-1zM149 90h1v4h-1zM152 90h2v4h-2zM232 90h2v4h-2zM291 90h3v4h-3zM296 90h3v4h-3zM366 90h6v4h-6zM116 94h1v4h-1zM129 94h1v4h-1zM135 94h2v4h-2zM182 94h3v4h-3zM217 94h2v4h-2zM237 94h2v4h-2zM277 94h2v4h-2zM82 98h2v4h-2zM120 98h1v4h-1zM170 98h2v4h-2zM259 98h3v4h-3zM319 98h8v4h-8zM87 102h2v5h-2zM105 102h1v5h-1zM134 102h1v5h-1zM137 102h2v5h-2zM160 102h1v5h-1zM170 102h2v5h-2zM277 102h2v5h-2zM296 102h3v5h-3zM114 107h1v4h-1zM182 107h3v4h-3zM249 107h3v4h-3zM274 107h3v4h-3zM131 111h1v4h-1zM187 111h3v4h-3zM247 111h2v4h-2zM95 115h1v4h-1zM115 115h1v4h-1zM127 115h2v4h-2zM130 115h1v4h-1zM141 115h1v4h-1zM144 115h1v4h-1zM175 115h2v4h-2zM202 115h7v4h-7zM219 115h3v4h-3zM400 115h6v4h-6zM90 119h1v4h-1zM161 119h1v4h-1zM219 119h3v4h-3zM242 119h2v4h-2zM257 119h2v4h-2zM282 119h2v4h-2zM291 119h3v4h-3zM338 119h6v4h-6zM372 119h6v4h-6zM389 119h5v4h-5zM109 123h1v4h-1zM120 123h1v4h-1zM122 123h2v4h-2zM132 123h2v4h-2zM136 123h1v4h-1zM162 123h2v4h-2zM237 123h5v4h-5zM287 123h2v4h-2zM107 127h3v4h-3zM120 127h1v4h-1zM134 127h1v4h-1zM149 127h1v4h-1zM202 127h5v4h-5zM319 127h2v4h-2zM219 131h3v4h-3zM269 131h3v4h-3zM284 131h3v4h-3zM304 131h2v4h-2zM82 135h2v4h-2zM110 135h1v4h-1zM112 135h2v4h-2zM125 135h1v4h-1zM129 135h1v4h-1zM146 135h1v4h-1zM152 135h2v4h-2zM237 135h2v4h-2zM311 135h3v4h-3zM86 139h1v4h-1zM111 139h1v4h-1zM121 139h1v4h-1zM146 139h1v4h-1zM159 139h1v4h-1zM85 143h1v5h-1zM126 143h1v5h-1zM146 143h1v5h-1zM154 143h1v5h-1zM165 143h2v5h-2zM299 143h2v5h-2zM105 148h1v4h-1zM234 148h3v4h-3zM190 152h2v4h-2zM205 152h2v4h-2zM257 152h2v4h-2zM299 152h2v4h-2zM366 152h6v4h-6zM94 156h1v4h-1zM107 156h2v4h-2zM119 156h1v4h-1zM154 156h1v4h-1zM185 156h2v4h-2zM207 156h2v4h-2zM311 156h3v4h-3zM114 160h1v4h-1zM140 160h1v4h-1zM147 160h2v4h-2zM192 160h5v4h-5zM237 160h2v4h-2zM132 164h2v4h-2zM151 164h1v4h-1zM217 164h2v4h-2zM289 164h2v4h-2zM327 164h6v4h-6zM366 164h6v4h-6zM136 168h1v4h-1zM151 168h1v4h-1zM175 168h2v4h-2zM269 168h3v4h-3zM291 168h3v4h-3zM338 168h6v4h-6zM190 172h2v4h-2zM195 172h2v4h-2zM214 172h3v4h-3zM229 172h3v4h-3zM287 172h2v4h-2zM327 172h6v4h-6zM355 172h6v4h-6zM105 176h1v4h-1zM134 176h1v4h-1zM185 176h2v4h-2zM212 176h2v4h-2zM232 176h2v4h-2zM269 176h3v4h-3zM104 180h1v4h-1zM214 180h3v4h-3zM274 180h3v4h-3zM282 180h2v4h-2zM296 180h3v4h-3zM366 180h6v4h-6zM85 184h1v5h-1zM107 184h2v5h-2zM120 184h1v5h-1zM135 184h1v5h-1zM139 184h1v5h-1zM159 184h1v5h-1zM170 184h2v5h-2zM219 184h3v5h-3zM257 184h2v5h-2zM333 184h5v5h-5zM112 189h2v4h-2zM160 189h1v4h-1zM200 189h5v4h-5zM284 189h5v4h-5zM294 189h2v4h-2zM200 193h2v4h-2zM214 193h3v4h-3zM105 197h1v4h-1zM147 197h2v4h-2zM160 197h1v4h-1zM202 197h3v4h-3zM219 197h3v4h-3zM242 197h2v4h-2zM274 197h3v4h-3zM86 201h1v4h-1zM111 201h1v4h-1zM207 201h2v4h-2zM254 201h3v4h-3zM389 201h5v4h-5zM95 205h1v4h-1zM107 205h2v4h-2zM111 205h1v4h-1zM130 205h1v4h-1zM195 205h2v4h-2zM311 205h3v4h-3zM344 205h5v4h-5zM114 209h1v4h-1zM129 209h1v4h-1zM141 209h1v4h-1zM214 209h3v4h-3zM314 209h2v4h-2zM106 213h1v4h-1zM161 213h1v4h-1zM172 213h3v4h-3zM272 213h2v4h-2zM142 217h2v4h-2zM154 217h1v4h-1zM200 217h2v4h-2zM244 217h5v4h-5zM277 217h2v4h-2zM338 217h6v4h-6zM107 221h2v4h-2zM111 221h1v4h-1zM150 221h1v4h-1zM152 221h3v4h-3zM200 221h2v4h-2zM229 221h3v4h-3zM242 221h2v4h-2zM85 225h1v5h-1zM107 225h2v5h-2zM141 225h1v5h-1zM185 225h2v5h-2zM190 225h2v5h-2zM232 225h2v5h-2zM267 225h2v5h-2zM106 230h1v4h-1zM132 230h2v4h-2zM146 230h1v4h-1zM167 230h3v4h-3zM192 230h3v4h-3zM234 230h3v4h-3zM269 230h3v4h-3zM299 230h2v4h-2zM111 234h1v4h-1zM141 234h1v4h-1zM321 234h6v4h-6zM87 238h2v4h-2zM119 238h1v4h-1zM269 238h3v4h-3zM333 238h5v4h-5zM89 242h1v4h-1zM116 242h1v4h-1zM127 242h3v4h-3zM239 242h3v4h-3zM249 242h3v4h-3zM282 242h2v4h-2zM294 242h2v4h-2zM306 242h3v4h-3zM316 242h3v4h-3zM85 246h1v4h-1zM130 246h1v4h-1zM167 246h3v4h-3zM247 246h2v4h-2zM262 246h2v4h-2zM269 246h3v4h-3zM319 246h2v4h-2zM383 246h6v4h-6zM157 250h2v4h-2zM172 250h3v4h-3zM234 250h3v4h-3zM274 250h3v4h-3zM294 250h2v4h-2zM316 250h3v4h-3zM126 254h1v4h-1zM144 254h1v4h-1zM227 254h2v4h-2zM291 254h3v4h-3zM314 254h2v4h-2zM319 254h2v4h-2zM89 258h1v4h-1zM142 258h2v4h-2zM155 258h1v4h-1zM212 258h2v4h-2zM237 258h2v4h-2zM284 258h3v4h-3zM296 258h3v4h-3zM321 258h6v4h-6zM94 262h1v4h-1zM109 262h1v4h-1zM119 262h1v4h-1zM127 262h2v4h-2zM209 262h3v4h-3zM244 262h3v4h-3zM257 262h2v4h-2zM262 262h2v4h-2zM301 262h3v4h-3zM107 266h2v5h-2zM122 266h2v5h-2zM150 266h1v5h-1zM155 266h1v5h-1zM259 266h3v5h-3zM282 266h2v5h-2zM291 266h3v5h-3zM299 266h2v5h-2zM316 266h3v5h-3zM109 271h1v4h-1zM142 271h2v4h-2zM159 271h1v4h-1zM284 271h3v4h-3zM366 271h6v4h-6zM105 275h1v4h-1zM147 275h2v4h-2zM214 275h3v4h-3zM81 279h1v4h-1zM124 279h1v4h-1zM159 279h1v4h-1zM187 279h3v4h-3zM219 279h3v4h-3zM239 279h3v4h-3zM304 279h2v4h-2zM119 283h1v4h-1zM125 283h1v4h-1zM154 283h1v4h-1zM214 283h3v4h-3zM291 283h3v4h-3zM306 283h3v4h-3zM95 287h1v4h-1zM125 287h1v4h-1zM136 287h1v4h-1zM152 287h2v4h-2zM159 287h1v4h-1zM185 287h2v4h-2zM229 287h3v4h-3zM254 287h3v4h-3zM262 287h2v4h-2zM279 287h5v4h-5zM291 287h3v4h-3zM314 287h2v4h-2zM96 291h1v4h-1zM170 291h2v4h-2zM232 291h2v4h-2zM239 291h3v4h-3zM264 291h3v4h-3zM333 291h5v4h-5zM110 295h1v4h-1zM126 295h1v4h-1zM182 295h3v4h-3zM202 295h3v4h-3zM257 295h2v4h-2zM289 295h5v4h-5zM136 299h1v4h-1zM150 299h1v4h-1zM154 299h1v4h-1zM182 299h3v4h-3zM197 299h3v4h-3zM212 299h2v4h-2zM219 299h3v4h-3zM227 299h2v4h-2zM234 299h3v4h-3zM284 299h3v4h-3zM81 303h1v4h-1zM87 303h2v4h-2zM112 303h2v4h-2zM167 303h3v4h-3zM172 303h5v4h-5zM237 303h2v4h-2zM291 303h3v4h-3zM87 307h2v5h-2zM146 307h1v5h-1zM149 307h1v5h-1zM151 307h1v5h-1zM214 307h3v5h-3zM259 307h3v5h-3zM267 307h2v5h-2zM282 307h2v5h-2zM294 307h2v5h-2zM154 312h1v4h-1zM165 312h2v4h-2zM244 316h3v4h-3zM287 316h2v4h-2zM116 320h1v4h-1zM135 320h1v4h-1zM289 320h2v4h-2zM304 320h2v4h-2zM107 324h2v4h-2zM137 324h2v4h-2zM219 324h3v4h-3zM254 324h3v4h-3zM272 324h2v4h-2zM282 324h2v4h-2zM299 324h2v4h-2zM309 324h2v4h-2zM319 324h2v4h-2zM327 324h6v4h-6zM161 328h1v4h-1zM207 328h2v4h-2zM214 328h3v4h-3zM239 328h3v4h-3zM247 328h2v4h-2zM272 328h2v4h-2zM90 332h1v4h-1zM105 332h2v4h-2zM112 332h2v4h-2zM159 332h1v4h-1zM232 332h2v4h-2zM327 332h6v4h-6zM117 336h2v4h-2zM125 336h1v4h-1zM142 336h2v4h-2zM209 336h5v4h-5zM296 336h3v4h-3zM327 336h6v4h-6zM84 340h1v4h-1zM100 340h1v4h-1zM142 340h2v4h-2zM167 340h3v4h-3zM237 340h2v4h-2zM262 340h2v4h-2zM289 340h2v4h-2zM129 344h1v4h-1zM132 344h2v4h-2zM141 344h1v4h-1zM159 344h1v4h-1zM175 344h2v4h-2zM239 344h3v4h-3zM131 348h1v5h-1zM164 348h1v5h-1zM182 348h5v5h-5zM301 348h3v5h-3zM349 348h6v5h-6zM140 353h1v4h-1zM147 353h2v4h-2zM212 353h2v4h-2zM121 357h1v4h-1zM147 357h2v4h-2zM217 357h2v4h-2zM92 361h2v4h-2zM130 361h1v4h-1zM132 361h3v4h-3zM152 361h2v4h-2zM212 361h2v4h-2zM333 361h5v4h-5zM104 369h1v4h-1zM132 369h2v4h-2zM134 373h1v4h-1zM207 373h2v4h-2zM244 373h3v4h-3zM316 373h3v4h-3zM175 377h2v4h-2zM217 377h2v4h-2zM269 377h5v4h-5zM287 377h2v4h-2zM296 377h3v4h-3zM372 377h6v4h-6zM150 381h1v4h-1zM159 381h1v4h-1zM242 381h2v4h-2zM267 381h2v4h-2zM296 381h3v4h-3zM160 385h1v4h-1zM190 385h2v4h-2zM287 385h2v4h-2zM314 385h2v4h-2zM92 389h2v5h-2zM109 389h1v5h-1zM155 389h1v5h-1zM262 389h2v5h-2zM277 389h2v5h-2zM311 389h3v5h-3zM105 394h1v4h-1zM109 394h1v4h-1zM135 394h1v4h-1zM175 394h2v4h-2zM207 394h5v4h-5zM279 394h3v4h-3zM294 394h2v4h-2zM301 394h3v4h-3zM327 394h6v4h-6zM151 398h1v4h-1zM207 398h2v4h-2zM338 398h6v4h-6zM105 402h1v4h-1zM249 402h3v4h-3zM274 402h3v4h-3zM316 402h3v4h-3zM152 406h2v4h-2zM272 406h2v4h-2zM282 406h2v4h-2z"/><path fill="#466be3" d="M175 86h2v4h-2zM239 86h3v4h-3zM129 90h1v4h-1zM136 90h1v4h-1zM151 90h1v4h-1zM159 90h1v4h-1zM234 90h3v4h-3zM274 90h3v4h-3zM294 90h2v4h-2zM124 94h1v4h-1zM127 94h2v4h-2zM132 94h2v4h-2zM172 94h3v4h-3zM177 94h3v4h-3zM254 94h3v4h-3zM316 94h3v4h-3zM89 98h1v4h-1zM165 98h2v4h-2zM227 98h2v4h-2zM247 98h2v4h-2zM327 98h6v4h-6zM84 102h1v5h-1zM119 102h1v5h-1zM162 102h2v5h-2zM217 102h2v5h-2zM239 102h3v5h-3zM97 107h2v4h-2zM140 107h2v4h-2zM212 107h5v4h-5zM242 107h2v4h-2zM257 107h2v4h-2zM95 111h1v4h-1zM99 111h1v4h-1zM145 111h1v4h-1zM212 111h2v4h-2zM219 111h3v4h-3zM254 111h3v4h-3zM294 111h2v4h-2zM316 111h5v4h-5zM94 115h1v4h-1zM120 115h1v4h-1zM125 115h1v4h-1zM162 115h2v4h-2zM232 115h2v4h-2zM333 115h5v4h-5zM366 115h6v4h-6zM110 119h2v4h-2zM129 119h1v4h-1zM139 119h1v4h-1zM159 119h1v4h-1zM167 119h3v4h-3zM182 119h3v4h-3zM267 119h2v4h-2zM116 123h1v4h-1zM135 123h1v4h-1zM140 123h1v4h-1zM150 123h1v4h-1zM185 123h2v4h-2zM192 123h3v4h-3zM249 123h3v4h-3zM259 123h3v4h-3zM272 123h2v4h-2zM304 123h5v4h-5zM349 123h6v4h-6zM151 127h1v4h-1zM185 127h2v4h-2zM192 127h3v4h-3zM267 127h2v4h-2zM282 127h2v4h-2zM95 131h1v4h-1zM162 131h2v4h-2zM257 131h2v4h-2zM291 131h3v4h-3zM349 131h6v4h-6zM81 135h1v4h-1zM195 135h2v4h-2zM249 135h3v4h-3zM92 139h2v4h-2zM140 139h1v4h-1zM150 139h1v4h-1zM190 139h2v4h-2zM247 139h2v4h-2zM262 139h2v4h-2zM87 143h2v5h-2zM121 143h1v5h-1zM134 143h1v5h-1zM155 143h1v5h-1zM175 143h2v5h-2zM227 143h2v5h-2zM82 148h2v4h-2zM109 148h1v4h-1zM114 148h1v4h-1zM129 148h1v4h-1zM136 148h1v4h-1zM262 148h2v4h-2zM267 148h2v4h-2zM106 152h1v4h-1zM117 152h2v4h-2zM175 152h2v4h-2zM195 152h2v4h-2zM234 152h3v4h-3zM140 156h1v4h-1zM145 156h1v4h-1zM150 156h1v4h-1zM161 156h3v4h-3zM172 156h3v4h-3zM182 156h3v4h-3zM214 156h3v4h-3zM249 156h3v4h-3zM259 156h3v4h-3zM301 156h3v4h-3zM109 160h1v4h-1zM132 160h2v4h-2zM151 160h1v4h-1zM159 160h1v4h-1zM161 160h1v4h-1zM284 160h5v4h-5zM314 160h2v4h-2zM327 160h6v4h-6zM91 164h1v4h-1zM104 164h1v4h-1zM227 164h2v4h-2zM244 164h3v4h-3zM254 164h3v4h-3zM294 164h2v4h-2zM141 168h1v4h-1zM177 168h3v4h-3zM237 168h2v4h-2zM249 168h3v4h-3zM267 168h2v4h-2zM304 168h2v4h-2zM156 172h1v4h-1zM200 172h2v4h-2zM239 172h3v4h-3zM269 172h5v4h-5zM319 172h2v4h-2zM338 172h11v4h-11zM89 176h1v4h-1zM125 176h1v4h-1zM137 176h2v4h-2zM111 180h1v4h-1zM134 180h1v4h-1zM140 180h1v4h-1zM167 180h3v4h-3zM244 180h3v4h-3zM82 184h2v5h-2zM109 184h1v5h-1zM136 184h1v5h-1zM299 184h2v5h-2zM116 189h1v4h-1zM120 189h1v4h-1zM139 189h1v4h-1zM157 189h2v4h-2zM172 189h3v4h-3zM180 189h2v4h-2zM212 189h2v4h-2zM234 189h5v4h-5zM267 189h2v4h-2zM361 189h5v4h-5zM145 193h1v4h-1zM187 193h3v4h-3zM207 193h2v4h-2zM242 193h2v4h-2zM264 193h3v4h-3zM115 197h1v4h-1zM150 197h1v4h-1zM195 197h2v4h-2zM264 197h3v4h-3zM277 197h2v4h-2zM316 197h3v4h-3zM175 201h2v4h-2zM205 201h2v4h-2zM209 201h3v4h-3zM294 201h2v4h-2zM84 205h1v4h-1zM87 205h2v4h-2zM144 205h1v4h-1zM165 205h2v4h-2zM257 205h2v4h-2zM274 205h3v4h-3zM105 209h1v4h-1zM109 209h1v4h-1zM146 209h1v4h-1zM177 209h3v4h-3zM185 209h2v4h-2zM197 209h3v4h-3zM309 209h2v4h-2zM92 213h2v4h-2zM144 213h1v4h-1zM150 213h1v4h-1zM197 213h3v4h-3zM205 213h2v4h-2zM212 213h2v4h-2zM217 213h2v4h-2zM227 213h2v4h-2zM257 213h2v4h-2zM319 213h2v4h-2zM86 217h1v4h-1zM109 217h1v4h-1zM119 217h1v4h-1zM159 217h1v4h-1zM180 217h2v4h-2zM202 217h3v4h-3zM214 217h3v4h-3zM314 217h2v4h-2zM94 221h1v4h-1zM104 221h1v4h-1zM130 221h1v4h-1zM144 221h1v4h-1zM170 221h2v4h-2zM175 221h5v4h-5zM207 221h2v4h-2zM249 221h3v4h-3zM86 225h1v5h-1zM106 225h1v5h-1zM136 225h3v5h-3zM155 225h1v5h-1zM192 225h3v5h-3zM284 225h3v5h-3zM105 230h1v4h-1zM156 230h1v4h-1zM180 230h2v4h-2zM217 230h2v4h-2zM294 230h2v4h-2zM306 230h3v4h-3zM355 230h11v4h-11zM120 234h1v4h-1zM159 234h1v4h-1zM167 234h3v4h-3zM180 234h2v4h-2zM212 234h2v4h-2zM237 234h5v4h-5zM254 234h3v4h-3zM104 238h1v4h-1zM116 238h3v4h-3zM134 238h1v4h-1zM175 238h2v4h-2zM197 238h3v4h-3zM207 238h5v4h-5zM239 238h3v4h-3zM105 242h1v4h-1zM114 242h1v4h-1zM119 242h1v4h-1zM164 242h1v4h-1zM177 242h3v4h-3zM190 242h2v4h-2zM212 242h2v4h-2zM269 242h3v4h-3zM319 242h2v4h-2zM344 242h5v4h-5zM366 242h6v4h-6zM406 242h5v4h-5zM112 246h2v4h-2zM145 246h1v4h-1zM151 246h1v4h-1zM156 246h1v4h-1zM180 246h2v4h-2zM229 246h3v4h-3zM234 246h3v4h-3zM259 246h3v4h-3zM304 246h5v4h-5zM92 250h2v4h-2zM99 250h1v4h-1zM161 250h1v4h-1zM185 250h2v4h-2zM197 250h3v4h-3zM232 250h2v4h-2zM242 250h2v4h-2zM249 250h3v4h-3zM338 250h6v4h-6zM116 254h1v4h-1zM262 254h2v4h-2zM147 258h2v4h-2zM242 258h2v4h-2zM274 258h3v4h-3zM116 262h1v4h-1zM144 262h1v4h-1zM155 262h1v4h-1zM259 262h3v4h-3zM129 266h1v5h-1zM131 266h1v5h-1zM161 266h1v5h-1zM192 266h3v5h-3zM252 266h2v5h-2zM314 266h2v5h-2zM89 271h1v4h-1zM112 271h2v4h-2zM130 271h1v4h-1zM154 271h1v4h-1zM160 271h1v4h-1zM127 275h2v4h-2zM137 275h2v4h-2zM149 275h1v4h-1zM207 275h2v4h-2zM227 275h5v4h-5zM254 275h3v4h-3zM277 275h2v4h-2zM282 275h2v4h-2zM287 275h2v4h-2zM89 279h1v4h-1zM95 279h1v4h-1zM107 279h3v4h-3zM115 279h1v4h-1zM151 279h1v4h-1zM234 279h3v4h-3zM272 279h2v4h-2zM287 279h2v4h-2zM316 279h3v4h-3zM132 283h2v4h-2zM160 283h2v4h-2zM167 283h3v4h-3zM361 283h5v4h-5zM104 287h1v4h-1zM151 287h1v4h-1zM170 287h2v4h-2zM177 287h3v4h-3zM247 287h2v4h-2zM309 287h2v4h-2zM316 287h3v4h-3zM321 287h6v4h-6zM89 291h1v4h-1zM106 291h1v4h-1zM121 291h1v4h-1zM139 291h1v4h-1zM147 291h2v4h-2zM160 291h1v4h-1zM167 291h3v4h-3zM217 291h2v4h-2zM134 295h1v4h-1zM141 295h1v4h-1zM167 295h3v4h-3zM180 295h2v4h-2zM205 295h2v4h-2zM237 295h2v4h-2zM262 295h2v4h-2zM282 295h2v4h-2zM319 295h2v4h-2zM378 295h5v4h-5zM85 299h1v4h-1zM92 299h2v4h-2zM140 299h2v4h-2zM152 299h2v4h-2zM237 299h2v4h-2zM252 299h2v4h-2zM262 299h2v4h-2zM272 299h2v4h-2zM309 299h2v4h-2zM406 299h5v4h-5zM95 303h1v4h-1zM114 303h1v4h-1zM136 303h1v4h-1zM159 303h1v4h-1zM190 303h2v4h-2zM259 303h5v4h-5zM306 303h3v4h-3zM321 303h6v4h-6zM110 307h1v5h-1zM132 307h2v5h-2zM200 307h2v5h-2zM244 307h3v5h-3zM289 307h2v5h-2zM299 307h2v5h-2zM366 307h6v5h-6zM95 312h1v4h-1zM104 312h1v4h-1zM116 312h1v4h-1zM155 312h1v4h-1zM190 312h2v4h-2zM232 312h5v4h-5zM239 312h3v4h-3zM309 312h2v4h-2zM154 316h1v4h-1zM197 316h3v4h-3zM209 316h3v4h-3zM110 320h1v4h-1zM132 320h2v4h-2zM182 320h3v4h-3zM217 320h2v4h-2zM274 320h3v4h-3zM279 320h5v4h-5zM127 324h2v4h-2zM151 324h1v4h-1zM239 324h3v4h-3zM289 324h2v4h-2zM301 324h3v4h-3zM131 328h1v4h-1zM175 328h2v4h-2zM192 328h3v4h-3zM205 328h2v4h-2zM99 332h1v4h-1zM129 332h1v4h-1zM144 332h1v4h-1zM165 332h2v4h-2zM170 332h2v4h-2zM195 332h2v4h-2zM244 332h3v4h-3zM267 332h2v4h-2zM309 332h2v4h-2zM321 332h6v4h-6zM99 336h1v4h-1zM159 336h1v4h-1zM207 336h2v4h-2zM272 336h2v4h-2zM321 336h6v4h-6zM85 340h1v4h-1zM90 340h2v4h-2zM134 340h1v4h-1zM195 340h2v4h-2zM257 340h2v4h-2zM304 340h2v4h-2zM106 344h1v4h-1zM114 344h1v4h-1zM124 344h1v4h-1zM212 344h2v4h-2zM97 348h3v5h-3zM121 348h1v5h-1zM146 348h1v5h-1zM150 348h1v5h-1zM156 348h1v5h-1zM267 348h2v5h-2zM274 348h3v5h-3zM119 353h1v4h-1zM124 353h1v4h-1zM155 353h1v4h-1zM170 353h2v4h-2zM214 353h3v4h-3zM257 353h2v4h-2zM267 353h2v4h-2zM284 353h3v4h-3zM319 353h2v4h-2zM94 357h1v4h-1zM119 357h1v4h-1zM152 357h2v4h-2zM164 357h1v4h-1zM180 357h2v4h-2zM247 357h2v4h-2zM291 357h3v4h-3zM316 357h3v4h-3zM321 357h6v4h-6zM85 361h1v4h-1zM114 361h1v4h-1zM120 361h1v4h-1zM214 361h3v4h-3zM299 361h2v4h-2zM306 361h3v4h-3zM319 361h8v4h-8zM124 365h1v4h-1zM144 365h1v4h-1zM219 365h3v4h-3zM274 365h3v4h-3zM287 365h2v4h-2zM294 365h2v4h-2zM86 369h1v4h-1zM127 369h2v4h-2zM152 369h2v4h-2zM161 369h1v4h-1zM167 369h5v4h-5zM217 369h2v4h-2zM254 369h3v4h-3zM86 373h1v4h-1zM92 373h2v4h-2zM99 373h1v4h-1zM165 373h2v4h-2zM180 373h2v4h-2zM217 373h2v4h-2zM227 373h2v4h-2zM239 373h3v4h-3zM272 373h2v4h-2zM279 373h3v4h-3zM306 373h3v4h-3zM311 373h3v4h-3zM85 377h2v4h-2zM104 377h1v4h-1zM107 377h2v4h-2zM125 377h1v4h-1zM152 377h2v4h-2zM164 377h1v4h-1zM195 377h5v4h-5zM205 377h2v4h-2zM237 377h2v4h-2zM267 377h2v4h-2zM141 381h1v4h-1zM147 381h2v4h-2zM155 381h1v4h-1zM272 381h2v4h-2zM338 381h6v4h-6zM104 385h1v4h-1zM177 385h3v4h-3zM232 385h2v4h-2zM147 389h2v5h-2zM151 389h1v5h-1zM161 389h1v5h-1zM217 389h2v5h-2zM249 389h3v5h-3zM254 389h3v5h-3zM284 389h3v5h-3zM319 389h2v5h-2zM389 389h5v5h-5zM117 394h2v4h-2zM145 394h1v4h-1zM155 394h1v4h-1zM172 394h3v4h-3zM195 394h2v4h-2zM202 394h3v4h-3zM212 394h2v4h-2zM254 394h3v4h-3zM309 394h2v4h-2zM319 394h2v4h-2zM105 398h1v4h-1zM109 398h1v4h-1zM114 398h2v4h-2zM144 398h1v4h-1zM146 398h1v4h-1zM164 398h1v4h-1zM190 398h2v4h-2zM202 398h3v4h-3zM232 398h2v4h-2zM319 398h2v4h-2zM165 402h2v4h-2zM237 402h2v4h-2zM257 402h2v4h-2zM327 402h11v4h-11zM90 406h1v4h-1zM145 406h1v4h-1zM229 406h3v4h-3zM244 406h3v4h-3z"/><path fill="#4771e9" d="M319 81h2v5h-2zM105 86h1v4h-1zM154 86h1v4h-1zM200 86h2v4h-2zM272 86h2v4h-2zM124 90h1v4h-1zM142 90h3v4h-3zM156 90h1v4h-1zM182 90h3v4h-3zM187 90h3v4h-3zM262 90h2v4h-2zM269 90h3v4h-3zM311 90h3v4h-3zM125 94h1v4h-1zM160 94h1v4h-1zM227 94h2v4h-2zM252 94h2v4h-2zM257 94h2v4h-2zM267 94h2v4h-2zM272 94h2v4h-2zM333 94h5v4h-5zM125 98h1v4h-1zM139 98h1v4h-1zM152 98h2v4h-2zM175 98h2v4h-2zM202 98h3v4h-3zM249 98h3v4h-3zM135 102h1v5h-1zM214 102h3v5h-3zM259 102h3v5h-3zM279 102h5v5h-5zM105 107h1v4h-1zM142 107h2v4h-2zM162 107h2v4h-2zM177 107h3v4h-3zM192 107h3v4h-3zM227 107h2v4h-2zM234 107h3v4h-3zM272 107h2v4h-2zM90 111h1v4h-1zM122 111h2v4h-2zM135 111h1v4h-1zM172 111h3v4h-3zM214 111h3v4h-3zM89 115h1v4h-1zM109 115h1v4h-1zM167 115h3v4h-3zM190 115h2v4h-2zM200 115h2v4h-2zM239 115h3v4h-3zM84 119h1v4h-1zM106 119h1v4h-1zM134 119h1v4h-1zM164 119h1v4h-1zM185 119h2v4h-2zM227 119h2v4h-2zM244 119h3v4h-3zM311 119h3v4h-3zM214 123h3v4h-3zM117 127h2v4h-2zM122 127h2v4h-2zM129 127h1v4h-1zM156 127h1v4h-1zM160 127h1v4h-1zM237 127h2v4h-2zM311 127h3v4h-3zM109 131h1v4h-1zM116 131h1v4h-1zM119 131h1v4h-1zM197 131h3v4h-3zM274 131h3v4h-3zM299 131h2v4h-2zM333 131h5v4h-5zM89 135h2v4h-2zM95 135h1v4h-1zM105 135h1v4h-1zM109 135h1v4h-1zM141 135h1v4h-1zM214 135h3v4h-3zM227 135h2v4h-2zM309 135h2v4h-2zM109 139h1v4h-1zM114 139h1v4h-1zM164 139h1v4h-1zM195 139h2v4h-2zM214 139h3v4h-3zM237 139h2v4h-2zM311 139h3v4h-3zM344 139h5v4h-5zM82 143h2v5h-2zM106 143h1v5h-1zM127 143h2v5h-2zM145 143h1v5h-1zM239 143h3v5h-3zM282 143h2v5h-2zM134 148h1v4h-1zM185 148h2v4h-2zM195 148h2v4h-2zM311 148h3v4h-3zM127 152h2v4h-2zM131 152h1v4h-1zM134 152h2v4h-2zM145 152h1v4h-1zM151 152h1v4h-1zM162 152h2v4h-2zM180 152h2v4h-2zM319 152h2v4h-2zM136 156h1v4h-1zM232 156h2v4h-2zM274 156h3v4h-3zM92 160h3v4h-3zM112 160h2v4h-2zM116 160h1v4h-1zM124 160h1v4h-1zM205 160h2v4h-2zM272 160h2v4h-2zM161 164h1v4h-1zM165 164h2v4h-2zM209 164h3v4h-3zM267 164h2v4h-2zM104 168h1v4h-1zM111 168h1v4h-1zM160 168h1v4h-1zM209 168h3v4h-3zM239 168h3v4h-3zM259 168h3v4h-3zM316 168h3v4h-3zM136 172h1v4h-1zM154 172h1v4h-1zM167 172h3v4h-3zM205 172h2v4h-2zM234 172h3v4h-3zM252 172h2v4h-2zM316 172h3v4h-3zM91 176h1v4h-1zM149 176h1v4h-1zM151 176h1v4h-1zM164 176h1v4h-1zM190 176h2v4h-2zM202 176h3v4h-3zM209 176h3v4h-3zM249 176h3v4h-3zM279 176h3v4h-3zM299 176h2v4h-2zM304 176h2v4h-2zM321 176h6v4h-6zM99 180h1v4h-1zM117 180h2v4h-2zM131 180h1v4h-1zM165 180h2v4h-2zM187 180h3v4h-3zM212 180h2v4h-2zM299 180h2v4h-2zM111 184h1v5h-1zM127 184h2v5h-2zM144 184h1v5h-1zM164 184h1v5h-1zM192 184h3v5h-3zM269 184h3v5h-3zM309 184h2v5h-2zM82 189h2v4h-2zM110 189h1v4h-1zM170 189h2v4h-2zM190 189h2v4h-2zM197 189h3v4h-3zM272 189h2v4h-2zM316 189h3v4h-3zM92 193h2v4h-2zM104 193h1v4h-1zM132 193h2v4h-2zM156 193h1v4h-1zM237 193h2v4h-2zM257 193h2v4h-2zM319 193h2v4h-2zM91 197h1v4h-1zM156 197h1v4h-1zM172 197h3v4h-3zM227 197h2v4h-2zM301 197h3v4h-3zM306 197h3v4h-3zM95 201h1v4h-1zM129 201h1v4h-1zM136 201h1v4h-1zM185 201h2v4h-2zM200 201h2v4h-2zM299 201h2v4h-2zM309 201h2v4h-2zM99 205h1v4h-1zM145 205h1v4h-1zM155 205h1v4h-1zM164 205h1v4h-1zM239 205h3v4h-3zM254 205h3v4h-3zM259 205h3v4h-3zM121 209h1v4h-1zM126 209h1v4h-1zM170 209h2v4h-2zM159 213h1v4h-1zM165 213h2v4h-2zM170 213h2v4h-2zM187 213h3v4h-3zM316 213h3v4h-3zM127 217h2v4h-2zM164 217h1v4h-1zM227 217h2v4h-2zM237 217h2v4h-2zM321 217h6v4h-6zM136 221h1v4h-1zM142 221h2v4h-2zM155 221h1v4h-1zM159 221h2v4h-2zM172 221h3v4h-3zM267 221h2v4h-2zM135 225h1v5h-1zM140 225h1v5h-1zM142 225h2v5h-2zM165 225h2v5h-2zM205 225h2v5h-2zM296 225h3v5h-3zM301 225h3v5h-3zM110 230h1v4h-1zM119 230h1v4h-1zM160 230h1v4h-1zM190 230h2v4h-2zM92 234h2v4h-2zM112 234h2v4h-2zM262 234h2v4h-2zM86 238h1v4h-1zM107 238h2v4h-2zM122 238h2v4h-2zM232 238h2v4h-2zM282 238h2v4h-2zM294 238h5v4h-5zM85 242h1v4h-1zM87 242h2v4h-2zM90 242h1v4h-1zM132 242h2v4h-2zM152 242h2v4h-2zM167 242h3v4h-3zM229 242h3v4h-3zM284 242h3v4h-3zM109 246h1v4h-1zM127 246h2v4h-2zM182 246h3v4h-3zM192 246h3v4h-3zM197 246h3v4h-3zM212 246h2v4h-2zM309 246h2v4h-2zM104 250h2v4h-2zM134 250h2v4h-2zM159 250h1v4h-1zM165 250h2v4h-2zM259 254h3v4h-3zM82 258h2v4h-2zM129 258h1v4h-1zM140 258h1v4h-1zM167 258h3v4h-3zM249 258h3v4h-3zM267 258h2v4h-2zM129 262h1v4h-1zM82 266h2v5h-2zM91 266h1v5h-1zM110 266h1v5h-1zM115 266h1v5h-1zM126 266h1v5h-1zM185 266h2v5h-2zM212 266h2v5h-2zM232 266h2v5h-2zM244 271h3v4h-3zM257 271h2v4h-2zM262 271h2v4h-2zM289 271h2v4h-2zM306 271h3v4h-3zM338 271h6v4h-6zM104 275h1v4h-1zM112 275h2v4h-2zM122 275h2v4h-2zM142 275h2v4h-2zM195 275h2v4h-2zM217 275h2v4h-2zM299 275h2v4h-2zM131 279h1v4h-1zM165 279h2v4h-2zM195 279h2v4h-2zM212 279h2v4h-2zM257 279h2v4h-2zM291 279h3v4h-3zM299 279h2v4h-2zM306 279h5v4h-5zM107 283h2v4h-2zM114 283h2v4h-2zM152 283h2v4h-2zM229 283h3v4h-3zM269 283h3v4h-3zM296 283h3v4h-3zM366 283h6v4h-6zM112 287h2v4h-2zM144 287h1v4h-1zM146 287h1v4h-1zM214 287h3v4h-3zM264 287h3v4h-3zM99 291h1v4h-1zM195 291h2v4h-2zM200 291h2v4h-2zM274 291h3v4h-3zM114 295h2v4h-2zM227 295h2v4h-2zM267 295h2v4h-2zM274 295h3v4h-3zM287 295h2v4h-2zM84 299h1v4h-1zM94 299h1v4h-1zM185 299h2v4h-2zM200 299h2v4h-2zM267 299h5v4h-5zM319 299h2v4h-2zM92 303h2v4h-2zM126 303h1v4h-1zM234 303h3v4h-3zM116 307h1v5h-1zM121 307h1v5h-1zM175 307h2v5h-2zM254 307h3v5h-3zM279 307h3v5h-3zM107 312h2v4h-2zM110 312h1v4h-1zM192 312h3v4h-3zM229 312h3v4h-3zM254 312h3v4h-3zM287 312h2v4h-2zM82 316h2v4h-2zM134 316h1v4h-1zM172 316h3v4h-3zM185 316h2v4h-2zM219 316h3v4h-3zM311 316h3v4h-3zM349 316h6v4h-6zM82 320h2v4h-2zM92 320h2v4h-2zM112 320h2v4h-2zM122 320h2v4h-2zM142 320h2v4h-2zM164 320h1v4h-1zM167 320h3v4h-3zM219 320h3v4h-3zM239 320h5v4h-5zM249 320h3v4h-3zM160 324h1v4h-1zM187 324h3v4h-3zM209 324h3v4h-3zM214 324h3v4h-3zM242 324h2v4h-2zM257 324h2v4h-2zM284 324h3v4h-3zM311 324h5v4h-5zM109 328h1v4h-1zM117 328h2v4h-2zM160 328h1v4h-1zM187 328h3v4h-3zM254 328h3v4h-3zM327 328h6v4h-6zM147 332h2v4h-2zM162 332h3v4h-3zM190 332h2v4h-2zM197 332h5v4h-5zM319 332h2v4h-2zM95 336h1v4h-1zM127 336h2v4h-2zM180 336h5v4h-5zM200 336h2v4h-2zM227 336h2v4h-2zM282 336h2v4h-2zM172 340h3v4h-3zM217 340h2v4h-2zM239 340h3v4h-3zM259 340h3v4h-3zM269 340h3v4h-3zM282 340h2v4h-2zM306 340h3v4h-3zM131 344h1v4h-1zM162 344h2v4h-2zM219 344h3v4h-3zM229 344h3v4h-3zM272 344h5v4h-5zM282 344h2v4h-2zM301 344h3v4h-3zM314 344h2v4h-2zM87 348h2v5h-2zM137 348h2v5h-2zM147 348h2v5h-2zM154 348h1v5h-1zM202 348h3v5h-3zM259 348h3v5h-3zM84 353h1v4h-1zM111 353h1v4h-1zM159 353h1v4h-1zM164 353h1v4h-1zM175 353h2v4h-2zM282 353h2v4h-2zM86 357h1v4h-1zM104 357h1v4h-1zM120 357h1v4h-1zM156 357h1v4h-1zM170 357h2v4h-2zM195 357h2v4h-2zM257 357h2v4h-2zM287 357h2v4h-2zM361 357h5v4h-5zM110 361h1v4h-1zM112 361h2v4h-2zM115 361h1v4h-1zM155 361h1v4h-1zM165 361h2v4h-2zM219 361h3v4h-3zM244 361h3v4h-3zM262 361h2v4h-2zM316 361h3v4h-3zM90 365h1v4h-1zM126 365h1v4h-1zM141 365h1v4h-1zM164 365h1v4h-1zM177 365h3v4h-3zM195 365h2v4h-2zM242 365h2v4h-2zM262 365h2v4h-2zM141 369h1v4h-1zM150 369h1v4h-1zM165 369h2v4h-2zM227 369h2v4h-2zM249 369h3v4h-3zM262 369h2v4h-2zM267 369h2v4h-2zM277 369h2v4h-2zM82 373h2v4h-2zM146 373h1v4h-1zM202 373h3v4h-3zM214 373h3v4h-3zM111 377h1v4h-1zM126 377h1v4h-1zM132 377h2v4h-2zM137 377h2v4h-2zM145 377h1v4h-1zM182 377h3v4h-3zM214 377h3v4h-3zM282 377h2v4h-2zM87 381h2v4h-2zM95 381h1v4h-1zM109 381h1v4h-1zM124 381h1v4h-1zM162 381h3v4h-3zM214 381h3v4h-3zM234 381h3v4h-3zM107 385h2v4h-2zM197 385h3v4h-3zM227 385h2v4h-2zM321 385h6v4h-6zM389 385h5v4h-5zM87 389h2v5h-2zM112 389h2v5h-2zM140 389h1v5h-1zM202 389h5v5h-5zM112 394h2v4h-2zM161 394h1v4h-1zM182 394h3v4h-3zM92 398h2v4h-2zM110 398h1v4h-1zM124 398h1v4h-1zM136 398h1v4h-1zM161 398h1v4h-1zM195 398h2v4h-2zM284 398h5v4h-5zM309 398h2v4h-2zM175 402h2v4h-2zM197 402h3v4h-3zM209 402h3v4h-3zM227 402h2v4h-2zM234 402h3v4h-3zM264 402h3v4h-3zM304 402h2v4h-2zM89 406h1v4h-1zM111 406h1v4h-1zM131 406h1v4h-1zM142 406h2v4h-2zM149 406h1v4h-1zM192 406h3v4h-3zM212 406h2v4h-2zM242 406h2v4h-2zM249 406h3v4h-3zM279 406h3v4h-3zM311 406h3v4h-3zM319 406h2v4h-2z"/><path fill="#4776ee" d="M111 86h3v4h-3zM131 86h1v4h-1zM232 86h2v4h-2zM84 90h1v4h-1zM104 90h1v4h-1zM111 90h1v4h-1zM209 90h3v4h-3zM239 90h3v4h-3zM151 94h1v4h-1zM192 94h3v4h-3zM249 94h3v4h-3zM107 98h2v4h-2zM115 98h1v4h-1zM132 98h2v4h-2zM146 98h1v4h-1zM150 98h2v4h-2zM182 98h3v4h-3zM195 98h2v4h-2zM217 98h2v4h-2zM262 98h2v4h-2zM274 98h3v4h-3zM314 98h2v4h-2zM117 102h2v5h-2zM129 102h1v5h-1zM147 102h2v5h-2zM161 102h1v5h-1zM207 102h2v5h-2zM91 107h1v4h-1zM124 107h1v4h-1zM137 107h2v4h-2zM151 107h1v4h-1zM156 107h1v4h-1zM185 107h2v4h-2zM197 107h3v4h-3zM202 107h3v4h-3zM229 107h3v4h-3zM244 107h3v4h-3zM262 107h2v4h-2zM299 107h2v4h-2zM120 111h1v4h-1zM126 111h1v4h-1zM140 111h1v4h-1zM142 111h2v4h-2zM180 111h2v4h-2zM200 111h2v4h-2zM205 111h2v4h-2zM229 111h3v4h-3zM267 111h2v4h-2zM309 111h2v4h-2zM135 115h1v4h-1zM156 115h1v4h-1zM187 115h3v4h-3zM316 115h3v4h-3zM125 119h1v4h-1zM140 119h1v4h-1zM142 119h2v4h-2zM150 119h1v4h-1zM180 119h2v4h-2zM202 119h3v4h-3zM214 119h3v4h-3zM316 119h3v4h-3zM117 123h2v4h-2zM124 123h1v4h-1zM127 123h2v4h-2zM141 123h1v4h-1zM212 123h2v4h-2zM262 123h2v4h-2zM309 123h2v4h-2zM319 123h2v4h-2zM95 127h1v4h-1zM116 127h1v4h-1zM139 127h1v4h-1zM180 127h2v4h-2zM86 131h1v4h-1zM114 131h2v4h-2zM122 131h2v4h-2zM165 131h2v4h-2zM244 131h3v4h-3zM259 131h3v4h-3zM279 131h3v4h-3zM311 131h3v4h-3zM134 135h1v4h-1zM144 135h1v4h-1zM185 135h2v4h-2zM190 135h2v4h-2zM287 135h2v4h-2zM306 135h3v4h-3zM99 139h1v4h-1zM105 139h1v4h-1zM127 139h3v4h-3zM134 139h1v4h-1zM161 139h1v4h-1zM187 139h3v4h-3zM207 139h2v4h-2zM217 139h2v4h-2zM254 139h3v4h-3zM104 143h1v5h-1zM112 143h2v5h-2zM135 143h1v5h-1zM164 143h1v5h-1zM192 143h3v5h-3zM244 143h3v5h-3zM262 143h2v5h-2zM319 143h8v5h-8zM86 148h1v4h-1zM154 148h1v4h-1zM190 148h2v4h-2zM214 148h3v4h-3zM247 148h2v4h-2zM301 148h5v4h-5zM92 152h2v4h-2zM109 152h1v4h-1zM111 152h1v4h-1zM126 152h1v4h-1zM130 152h1v4h-1zM155 152h1v4h-1zM160 152h1v4h-1zM177 152h3v4h-3zM207 152h2v4h-2zM217 152h2v4h-2zM227 152h2v4h-2zM333 152h5v4h-5zM82 156h2v4h-2zM217 156h2v4h-2zM227 156h2v4h-2zM277 156h2v4h-2zM145 160h1v4h-1zM150 160h1v4h-1zM200 160h2v4h-2zM207 160h5v4h-5zM227 160h2v4h-2zM247 160h2v4h-2zM296 160h3v4h-3zM361 160h5v4h-5zM86 164h1v4h-1zM89 164h1v4h-1zM137 164h2v4h-2zM145 164h1v4h-1zM175 164h2v4h-2zM195 164h2v4h-2zM207 164h2v4h-2zM239 164h3v4h-3zM262 164h2v4h-2zM124 168h1v4h-1zM131 168h1v4h-1zM135 168h1v4h-1zM140 168h1v4h-1zM162 168h2v4h-2zM187 168h3v4h-3zM229 168h3v4h-3zM262 168h2v4h-2zM104 172h1v4h-1zM134 172h1v4h-1zM160 172h1v4h-1zM185 172h2v4h-2zM306 172h3v4h-3zM120 176h1v4h-1zM167 176h3v4h-3zM239 176h5v4h-5zM126 180h1v4h-1zM192 180h3v4h-3zM209 180h3v4h-3zM219 180h3v4h-3zM267 180h2v4h-2zM294 180h2v4h-2zM304 180h2v4h-2zM124 184h1v5h-1zM131 184h1v5h-1zM152 184h2v5h-2zM155 184h1v5h-1zM190 184h2v5h-2zM244 184h3v5h-3zM106 189h3v4h-3zM115 189h1v4h-1zM121 189h1v4h-1zM126 189h1v4h-1zM152 189h2v4h-2zM115 193h1v4h-1zM160 193h1v4h-1zM192 193h3v4h-3zM269 193h3v4h-3zM294 193h2v4h-2zM116 197h1v4h-1zM125 197h1v4h-1zM145 197h1v4h-1zM162 197h2v4h-2zM234 197h3v4h-3zM257 197h2v4h-2zM140 201h1v4h-1zM214 201h3v4h-3zM262 201h2v4h-2zM333 201h5v4h-5zM134 205h1v4h-1zM136 205h1v4h-1zM140 205h1v4h-1zM187 205h3v4h-3zM192 205h3v4h-3zM202 205h3v4h-3zM277 205h2v4h-2zM134 209h1v4h-1zM147 209h2v4h-2zM182 209h3v4h-3zM205 209h2v4h-2zM219 209h3v4h-3zM227 209h2v4h-2zM282 209h2v4h-2zM84 213h1v4h-1zM136 213h1v4h-1zM145 213h1v4h-1zM177 213h3v4h-3zM219 213h3v4h-3zM237 213h2v4h-2zM264 213h3v4h-3zM269 213h3v4h-3zM296 213h5v4h-5zM111 217h1v4h-1zM114 217h1v4h-1zM124 217h1v4h-1zM135 217h1v4h-1zM141 217h1v4h-1zM160 217h1v4h-1zM167 217h3v4h-3zM229 217h3v4h-3zM274 217h3v4h-3zM282 217h2v4h-2zM119 221h1v4h-1zM239 221h3v4h-3zM327 221h6v4h-6zM109 225h1v5h-1zM114 230h1v4h-1zM131 230h1v4h-1zM144 230h1v4h-1zM172 230h3v4h-3zM195 230h2v4h-2zM249 230h5v4h-5zM107 234h2v4h-2zM116 234h1v4h-1zM160 234h1v4h-1zM205 234h2v4h-2zM272 234h2v4h-2zM82 238h2v4h-2zM92 238h2v4h-2zM131 238h1v4h-1zM136 238h1v4h-1zM141 238h1v4h-1zM144 238h1v4h-1zM192 238h3v4h-3zM106 242h3v4h-3zM122 242h3v4h-3zM162 242h2v4h-2zM180 242h2v4h-2zM349 242h6v4h-6zM84 246h1v4h-1zM89 246h1v4h-1zM120 246h1v4h-1zM150 246h1v4h-1zM152 246h2v4h-2zM172 246h3v4h-3zM219 246h3v4h-3zM282 246h2v4h-2zM89 250h1v4h-1zM132 250h2v4h-2zM167 250h3v4h-3zM247 250h2v4h-2zM269 250h3v4h-3zM107 254h2v4h-2zM159 254h1v4h-1zM172 254h3v4h-3zM192 254h3v4h-3zM214 254h3v4h-3zM237 254h7v4h-7zM284 254h5v4h-5zM130 258h1v4h-1zM139 258h1v4h-1zM150 258h1v4h-1zM161 258h1v4h-1zM180 258h2v4h-2zM232 258h2v4h-2zM294 258h2v4h-2zM87 262h2v4h-2zM247 262h5v4h-5zM389 262h5v4h-5zM120 266h1v5h-1zM154 266h1v5h-1zM190 266h2v5h-2zM200 266h7v5h-7zM229 266h3v5h-3zM296 266h3v5h-3zM117 271h2v4h-2zM185 271h2v4h-2zM126 275h1v4h-1zM172 275h3v4h-3zM86 279h1v4h-1zM114 279h1v4h-1zM136 279h1v4h-1zM229 279h3v4h-3zM110 283h1v4h-1zM164 283h1v4h-1zM187 283h3v4h-3zM227 283h2v4h-2zM99 287h1v4h-1zM109 287h2v4h-2zM130 287h1v4h-1zM244 287h3v4h-3zM249 287h3v4h-3zM284 287h3v4h-3zM126 291h1v4h-1zM134 291h5v4h-5zM185 291h2v4h-2zM254 291h3v4h-3zM311 291h3v4h-3zM366 291h6v4h-6zM109 295h1v4h-1zM117 295h3v4h-3zM129 295h1v4h-1zM161 295h1v4h-1zM164 295h1v4h-1zM207 295h2v4h-2zM82 299h2v4h-2zM120 299h1v4h-1zM202 299h3v4h-3zM287 299h2v4h-2zM120 303h1v4h-1zM142 303h2v4h-2zM217 303h2v4h-2zM289 303h2v4h-2zM296 303h3v4h-3zM314 303h2v4h-2zM86 307h1v5h-1zM105 307h1v5h-1zM167 307h3v5h-3zM185 307h2v5h-2zM207 307h5v5h-5zM219 307h3v5h-3zM227 307h2v5h-2zM242 307h2v5h-2zM274 307h3v5h-3zM130 312h1v4h-1zM146 312h1v4h-1zM159 312h1v4h-1zM162 312h2v4h-2zM85 316h1v4h-1zM139 316h1v4h-1zM141 316h1v4h-1zM164 316h1v4h-1zM167 316h3v4h-3zM212 316h2v4h-2zM262 316h2v4h-2zM284 316h3v4h-3zM289 316h2v4h-2zM161 320h1v4h-1zM177 320h3v4h-3zM229 320h3v4h-3zM237 320h2v4h-2zM287 320h2v4h-2zM90 324h1v4h-1zM95 324h1v4h-1zM135 324h1v4h-1zM144 324h1v4h-1zM154 324h1v4h-1zM162 324h2v4h-2zM205 324h2v4h-2zM212 324h2v4h-2zM227 324h2v4h-2zM338 324h6v4h-6zM110 328h1v4h-1zM112 328h2v4h-2zM119 328h1v4h-1zM127 328h2v4h-2zM142 328h2v4h-2zM167 328h3v4h-3zM185 328h2v4h-2zM195 328h2v4h-2zM151 332h1v4h-1zM237 332h2v4h-2zM247 332h2v4h-2zM262 332h2v4h-2zM111 336h1v4h-1zM122 336h3v4h-3zM129 336h1v4h-1zM152 336h2v4h-2zM170 336h2v4h-2zM205 336h2v4h-2zM111 340h1v4h-1zM121 340h1v4h-1zM162 340h2v4h-2zM185 340h2v4h-2zM227 340h2v4h-2zM86 344h1v4h-1zM122 344h2v4h-2zM130 344h1v4h-1zM164 344h1v4h-1zM180 344h2v4h-2zM237 344h2v4h-2zM262 344h2v4h-2zM94 348h1v5h-1zM116 348h1v5h-1zM162 348h2v5h-2zM200 348h2v5h-2zM214 348h3v5h-3zM247 348h2v5h-2zM282 348h2v5h-2zM291 348h3v5h-3zM109 353h1v4h-1zM160 353h1v4h-1zM229 353h3v4h-3zM333 353h5v4h-5zM115 357h1v4h-1zM130 357h1v4h-1zM202 357h3v4h-3zM304 357h2v4h-2zM121 361h1v4h-1zM154 361h1v4h-1zM177 361h3v4h-3zM182 361h3v4h-3zM86 365h1v4h-1zM130 365h1v4h-1zM151 365h1v4h-1zM160 365h1v4h-1zM229 365h3v4h-3zM244 365h3v4h-3zM257 365h2v4h-2zM279 365h3v4h-3zM291 365h3v4h-3zM111 369h1v4h-1zM155 369h1v4h-1zM200 369h2v4h-2zM287 369h2v4h-2zM344 369h5v4h-5zM109 373h1v4h-1zM115 373h1v4h-1zM126 373h1v4h-1zM142 373h2v4h-2zM175 373h2v4h-2zM192 373h3v4h-3zM200 373h2v4h-2zM249 373h3v4h-3zM294 373h2v4h-2zM304 373h2v4h-2zM127 377h2v4h-2zM202 377h3v4h-3zM291 377h3v4h-3zM111 381h3v4h-3zM116 381h1v4h-1zM156 381h1v4h-1zM167 381h3v4h-3zM197 381h3v4h-3zM301 381h3v4h-3zM316 381h5v4h-5zM333 381h5v4h-5zM112 385h2v4h-2zM145 385h1v4h-1zM154 385h1v4h-1zM164 385h1v4h-1zM167 385h3v4h-3zM185 385h2v4h-2zM192 385h3v4h-3zM244 385h3v4h-3zM279 385h3v4h-3zM289 385h2v4h-2zM95 389h1v5h-1zM116 389h1v5h-1zM121 389h1v5h-1zM141 389h1v5h-1zM162 389h2v5h-2zM185 389h2v5h-2zM214 389h3v5h-3zM242 389h2v5h-2zM131 394h1v4h-1zM136 394h3v4h-3zM111 398h1v4h-1zM129 398h1v4h-1zM134 398h1v4h-1zM156 398h1v4h-1zM344 398h5v4h-5zM161 402h1v4h-1zM190 402h2v4h-2zM232 402h2v4h-2zM262 402h2v4h-2zM269 402h3v4h-3zM91 406h1v4h-1zM95 406h1v4h-1zM104 406h1v4h-1zM132 406h2v4h-2zM207 406h2v4h-2z"/><path fill="#477bf2" d="M327 81h6v5h-6zM159 86h1v4h-1zM89 90h1v4h-1zM126 90h1v4h-1zM82 94h2v4h-2zM92 94h2v4h-2zM99 94h1v4h-1zM106 94h1v4h-1zM140 94h1v4h-1zM219 94h3v4h-3zM306 94h3v4h-3zM95 98h1v4h-1zM122 98h2v4h-2zM137 98h2v4h-2zM287 98h2v4h-2zM111 102h1v5h-1zM124 102h1v5h-1zM127 102h2v5h-2zM152 102h2v5h-2zM164 102h3v5h-3zM200 102h2v5h-2zM237 102h2v5h-2zM254 102h3v5h-3zM115 107h1v4h-1zM127 107h2v4h-2zM145 107h1v4h-1zM160 107h1v4h-1zM164 107h1v4h-1zM239 107h3v4h-3zM314 107h2v4h-2zM106 111h1v4h-1zM129 111h1v4h-1zM137 111h2v4h-2zM154 111h1v4h-1zM167 111h3v4h-3zM175 111h2v4h-2zM284 111h3v4h-3zM296 111h3v4h-3zM107 115h2v4h-2zM114 115h1v4h-1zM159 115h1v4h-1zM164 115h1v4h-1zM170 115h5v4h-5zM314 115h2v4h-2zM124 119h1v4h-1zM130 119h1v4h-1zM212 119h2v4h-2zM272 119h2v4h-2zM301 119h3v4h-3zM89 123h1v4h-1zM104 123h1v4h-1zM129 123h2v4h-2zM182 123h3v4h-3zM200 123h2v4h-2zM227 123h2v4h-2zM242 123h2v4h-2zM294 123h2v4h-2zM121 127h1v4h-1zM132 127h2v4h-2zM137 127h2v4h-2zM142 127h2v4h-2zM150 127h1v4h-1zM207 127h2v4h-2zM229 127h3v4h-3zM257 127h2v4h-2zM269 127h3v4h-3zM92 131h2v4h-2zM104 131h1v4h-1zM145 131h1v4h-1zM167 131h3v4h-3zM85 135h1v4h-1zM91 135h1v4h-1zM130 135h1v4h-1zM142 135h2v4h-2zM159 135h1v4h-1zM162 135h2v4h-2zM327 135h6v4h-6zM91 139h1v4h-1zM136 139h1v4h-1zM160 139h1v4h-1zM197 139h3v4h-3zM229 139h3v4h-3zM249 139h3v4h-3zM277 139h2v4h-2zM321 139h12v4h-12zM105 143h1v5h-1zM125 143h1v5h-1zM151 143h1v5h-1zM167 143h3v5h-3zM200 143h2v5h-2zM289 143h2v5h-2zM316 143h3v5h-3zM131 148h1v4h-1zM135 148h1v4h-1zM141 148h1v4h-1zM160 148h1v4h-1zM192 148h3v4h-3zM209 148h3v4h-3zM116 152h1v4h-1zM120 152h1v4h-1zM154 152h1v4h-1zM92 156h2v4h-2zM120 156h1v4h-1zM146 156h1v4h-1zM289 156h2v4h-2zM309 156h2v4h-2zM321 156h6v4h-6zM81 160h1v4h-1zM104 160h1v4h-1zM110 160h1v4h-1zM117 160h2v4h-2zM134 160h2v4h-2zM144 160h1v4h-1zM160 160h1v4h-1zM170 160h2v4h-2zM259 160h3v4h-3zM289 160h2v4h-2zM301 160h3v4h-3zM117 164h2v4h-2zM136 164h1v4h-1zM202 164h3v4h-3zM249 164h3v4h-3zM304 164h5v4h-5zM84 168h1v4h-1zM114 168h1v4h-1zM120 168h1v4h-1zM132 168h2v4h-2zM139 168h1v4h-1zM190 168h2v4h-2zM202 168h3v4h-3zM272 168h2v4h-2zM289 168h2v4h-2zM296 168h3v4h-3zM106 172h1v4h-1zM121 172h1v4h-1zM129 172h2v4h-2zM142 172h2v4h-2zM159 172h1v4h-1zM86 176h1v4h-1zM104 176h1v4h-1zM170 176h2v4h-2zM205 176h2v4h-2zM227 176h2v4h-2zM262 176h2v4h-2zM112 180h2v4h-2zM142 180h4v4h-4zM151 180h1v4h-1zM164 180h1v4h-1zM177 180h3v4h-3zM202 180h3v4h-3zM239 180h3v4h-3zM277 180h2v4h-2zM95 184h1v5h-1zM110 184h1v5h-1zM125 184h1v5h-1zM156 184h1v5h-1zM202 184h3v5h-3zM212 184h2v5h-2zM229 184h3v5h-3zM262 184h2v5h-2zM267 184h2v5h-2zM304 184h2v5h-2zM86 189h1v4h-1zM90 189h1v4h-1zM131 189h1v4h-1zM140 189h1v4h-1zM151 189h1v4h-1zM185 189h5v4h-5zM109 193h1v4h-1zM111 193h1v4h-1zM126 193h1v4h-1zM135 193h1v4h-1zM232 193h2v4h-2zM344 193h5v4h-5zM104 197h1v4h-1zM109 197h1v4h-1zM126 197h1v4h-1zM149 197h1v4h-1zM159 197h1v4h-1zM164 197h1v4h-1zM244 197h3v4h-3zM309 197h2v4h-2zM327 197h6v4h-6zM85 201h1v4h-1zM126 201h1v4h-1zM159 201h1v4h-1zM167 201h3v4h-3zM244 201h3v4h-3zM314 201h2v4h-2zM139 205h1v4h-1zM151 205h1v4h-1zM156 205h1v4h-1zM279 205h3v4h-3zM289 205h2v4h-2zM333 205h5v4h-5zM361 205h5v4h-5zM136 209h1v4h-1zM149 209h1v4h-1zM154 209h2v4h-2zM200 209h2v4h-2zM237 209h2v4h-2zM316 209h3v4h-3zM81 213h1v4h-1zM86 213h1v4h-1zM111 213h1v4h-1zM135 213h1v4h-1zM137 213h2v4h-2zM149 213h1v4h-1zM162 213h2v4h-2zM185 213h2v4h-2zM106 217h1v4h-1zM140 217h1v4h-1zM170 217h2v4h-2zM182 217h3v4h-3zM197 217h3v4h-3zM212 217h2v4h-2zM126 221h1v4h-1zM132 221h2v4h-2zM167 221h3v4h-3zM202 221h3v4h-3zM232 221h2v4h-2zM282 221h2v4h-2zM124 225h1v5h-1zM152 225h2v5h-2zM175 225h2v5h-2zM214 225h3v5h-3zM229 225h3v5h-3zM237 225h2v5h-2zM287 225h2v5h-2zM291 225h3v5h-3zM116 230h1v4h-1zM135 230h1v4h-1zM141 230h1v4h-1zM151 230h1v4h-1zM162 230h2v4h-2zM239 230h3v4h-3zM296 230h3v4h-3zM84 234h1v4h-1zM142 234h2v4h-2zM164 234h1v4h-1zM287 234h2v4h-2zM109 238h1v4h-1zM135 238h1v4h-1zM161 238h1v4h-1zM306 238h3v4h-3zM135 242h1v4h-1zM175 242h2v4h-2zM187 242h3v4h-3zM217 242h2v4h-2zM86 246h1v4h-1zM91 246h1v4h-1zM117 246h2v4h-2zM131 246h1v4h-1zM136 246h1v4h-1zM170 246h2v4h-2zM195 246h2v4h-2zM205 246h4v4h-4zM87 250h2v4h-2zM141 250h3v4h-3zM170 250h2v4h-2zM195 250h2v4h-2zM212 250h2v4h-2zM291 250h3v4h-3zM81 254h1v4h-1zM87 254h2v4h-2zM127 254h2v4h-2zM136 254h1v4h-1zM142 254h2v4h-2zM150 254h1v4h-1zM177 254h3v4h-3zM185 254h2v4h-2zM257 254h2v4h-2zM294 254h2v4h-2zM95 258h1v4h-1zM120 258h1v4h-1zM131 258h1v4h-1zM134 258h1v4h-1zM182 258h3v4h-3zM306 258h3v4h-3zM327 258h6v4h-6zM81 262h1v4h-1zM125 262h1v4h-1zM140 262h1v4h-1zM197 262h3v4h-3zM227 262h2v4h-2zM254 262h3v4h-3zM267 262h2v4h-2zM291 262h3v4h-3zM314 262h2v4h-2zM86 266h1v5h-1zM92 266h2v5h-2zM132 266h2v5h-2zM156 266h1v5h-1zM167 266h3v5h-3zM237 266h2v5h-2zM257 266h2v5h-2zM86 271h1v4h-1zM104 271h1v4h-1zM114 271h1v4h-1zM134 271h1v4h-1zM156 271h1v4h-1zM197 271h3v4h-3zM91 275h1v4h-1zM95 275h1v4h-1zM106 275h1v4h-1zM185 275h2v4h-2zM205 275h2v4h-2zM239 275h3v4h-3zM82 279h2v4h-2zM90 279h1v4h-1zM132 279h2v4h-2zM180 279h5v4h-5zM197 279h3v4h-3zM82 283h2v4h-2zM86 283h1v4h-1zM105 283h1v4h-1zM137 283h2v4h-2zM145 283h1v4h-1zM165 283h2v4h-2zM170 283h2v4h-2zM309 283h2v4h-2zM81 287h1v4h-1zM87 287h2v4h-2zM91 287h1v4h-1zM94 287h1v4h-1zM106 287h1v4h-1zM115 287h1v4h-1zM117 287h2v4h-2zM140 287h1v4h-1zM150 287h1v4h-1zM296 287h3v4h-3zM85 291h1v4h-1zM90 291h1v4h-1zM144 291h1v4h-1zM149 291h1v4h-1zM192 291h3v4h-3zM229 291h3v4h-3zM91 295h1v4h-1zM121 295h1v4h-1zM156 295h1v4h-1zM170 295h2v4h-2zM187 295h3v4h-3zM219 295h3v4h-3zM333 295h5v4h-5zM105 299h1v4h-1zM130 299h1v4h-1zM135 299h1v4h-1zM145 299h1v4h-1zM155 299h1v4h-1zM164 299h3v4h-3zM172 299h3v4h-3zM207 299h2v4h-2zM244 299h3v4h-3zM291 299h3v4h-3zM117 303h2v4h-2zM127 303h2v4h-2zM134 303h1v4h-1zM161 303h1v4h-1zM185 303h2v4h-2zM279 303h3v4h-3zM136 307h1v5h-1zM141 307h1v5h-1zM187 307h3v5h-3zM237 307h2v5h-2zM349 307h6v5h-6zM94 312h1v4h-1zM117 312h2v4h-2zM121 312h1v4h-1zM137 312h2v4h-2zM141 312h1v4h-1zM147 312h2v4h-2zM172 312h3v4h-3zM262 312h2v4h-2zM272 312h2v4h-2zM291 312h3v4h-3zM86 316h1v4h-1zM99 316h1v4h-1zM142 316h2v4h-2zM147 316h2v4h-2zM155 316h2v4h-2zM217 316h2v4h-2zM87 320h2v4h-2zM125 320h1v4h-1zM134 320h1v4h-1zM141 320h1v4h-1zM209 320h3v4h-3zM84 324h1v4h-1zM87 324h2v4h-2zM115 324h1v4h-1zM125 324h1v4h-1zM139 324h1v4h-1zM159 324h1v4h-1zM190 324h5v4h-5zM200 324h2v4h-2zM145 328h1v4h-1zM149 328h2v4h-2zM152 328h2v4h-2zM217 328h5v4h-5zM262 328h2v4h-2zM81 332h1v4h-1zM155 332h1v4h-1zM185 332h5v4h-5zM205 332h2v4h-2zM264 332h3v4h-3zM110 336h1v4h-1zM114 336h1v4h-1zM130 336h1v4h-1zM151 336h1v4h-1zM155 336h1v4h-1zM269 336h3v4h-3zM82 340h2v4h-2zM129 340h2v4h-2zM145 340h4v4h-4zM156 340h1v4h-1zM190 340h2v4h-2zM202 340h3v4h-3zM212 340h5v4h-5zM232 340h2v4h-2zM252 340h2v4h-2zM277 340h2v4h-2zM299 340h2v4h-2zM136 344h1v4h-1zM205 344h2v4h-2zM232 344h2v4h-2zM319 344h2v4h-2zM85 348h1v5h-1zM89 348h2v5h-2zM92 348h2v5h-2zM129 348h1v5h-1zM145 348h1v5h-1zM152 348h2v5h-2zM161 348h1v5h-1zM170 348h7v5h-7zM284 348h3v5h-3zM87 353h2v4h-2zM105 353h1v4h-1zM122 353h2v4h-2zM131 353h1v4h-1zM172 353h3v4h-3zM192 353h3v4h-3zM239 353h3v4h-3zM99 357h1v4h-1zM125 357h1v4h-1zM145 357h1v4h-1zM151 357h1v4h-1zM172 357h3v4h-3zM99 361h1v4h-1zM131 361h1v4h-1zM141 361h3v4h-3zM156 361h1v4h-1zM202 361h3v4h-3zM89 365h1v4h-1zM105 365h1v4h-1zM111 365h1v4h-1zM116 365h1v4h-1zM120 365h1v4h-1zM125 365h1v4h-1zM167 365h3v4h-3zM180 365h2v4h-2zM209 365h3v4h-3zM227 365h2v4h-2zM249 365h3v4h-3zM254 365h3v4h-3zM107 369h2v4h-2zM110 369h1v4h-1zM115 369h1v4h-1zM136 369h1v4h-1zM140 369h1v4h-1zM151 369h1v4h-1zM162 369h2v4h-2zM202 369h3v4h-3zM284 369h3v4h-3zM306 369h3v4h-3zM314 369h2v4h-2zM107 373h2v4h-2zM119 373h1v4h-1zM152 373h2v4h-2zM247 373h2v4h-2zM299 373h2v4h-2zM109 377h1v4h-1zM116 377h1v4h-1zM155 377h1v4h-1zM200 377h2v4h-2zM209 377h3v4h-3zM219 377h3v4h-3zM247 381h2v4h-2zM262 381h2v4h-2zM327 381h6v4h-6zM85 385h1v4h-1zM87 385h2v4h-2zM115 385h2v4h-2zM139 385h1v4h-1zM156 385h1v4h-1zM165 385h2v4h-2zM182 385h3v4h-3zM207 385h2v4h-2zM106 389h1v5h-1zM111 389h1v5h-1zM135 389h2v5h-2zM187 389h3v5h-3zM115 394h1v4h-1zM125 394h1v4h-1zM129 394h1v4h-1zM162 394h2v4h-2zM167 394h3v4h-3zM190 394h2v4h-2zM282 394h2v4h-2zM82 398h2v4h-2zM90 398h1v4h-1zM155 398h1v4h-1zM159 398h1v4h-1zM172 398h3v4h-3zM187 398h3v4h-3zM214 398h3v4h-3zM249 398h3v4h-3zM84 402h1v4h-1zM91 402h1v4h-1zM294 402h2v4h-2zM82 406h2v4h-2zM137 406h2v4h-2zM144 406h1v4h-1zM170 406h2v4h-2zM299 406h2v4h-2z"/><path fill="#4680f6" d="M82 86h2v4h-2zM126 86h1v4h-1zM151 86h1v4h-1zM182 86h3v4h-3zM205 86h2v4h-2zM249 86h3v4h-3zM95 90h1v4h-1zM107 90h2v4h-2zM119 90h1v4h-1zM180 90h2v4h-2zM202 90h5v4h-5zM86 94h1v4h-1zM112 94h2v4h-2zM159 94h1v4h-1zM161 94h3v4h-3zM187 94h3v4h-3zM195 94h2v4h-2zM304 94h2v4h-2zM162 98h2v4h-2zM187 98h3v4h-3zM125 102h1v5h-1zM131 102h1v5h-1zM151 102h1v5h-1zM190 102h2v5h-2zM244 102h3v5h-3zM272 102h2v5h-2zM316 102h3v5h-3zM383 102h6v5h-6zM82 107h2v4h-2zM86 107h1v4h-1zM94 107h1v4h-1zM107 107h2v4h-2zM111 107h1v4h-1zM147 107h2v4h-2zM200 107h2v4h-2zM232 107h2v4h-2zM269 107h3v4h-3zM291 107h3v4h-3zM89 111h1v4h-1zM124 111h1v4h-1zM146 111h1v4h-1zM202 111h3v4h-3zM239 111h3v4h-3zM244 111h3v4h-3zM91 115h1v4h-1zM105 115h1v4h-1zM132 115h3v4h-3zM145 115h2v4h-2zM154 115h2v4h-2zM197 115h3v4h-3zM99 119h1v4h-1zM109 119h1v4h-1zM131 119h1v4h-1zM149 119h1v4h-1zM274 119h3v4h-3zM126 123h1v4h-1zM134 123h1v4h-1zM161 123h1v4h-1zM94 127h1v4h-1zM135 127h1v4h-1zM279 127h3v4h-3zM111 131h1v4h-1zM136 131h1v4h-1zM141 131h1v4h-1zM234 131h3v4h-3zM86 135h1v4h-1zM111 135h1v4h-1zM116 135h1v4h-1zM120 135h1v4h-1zM200 135h2v4h-2zM212 135h2v4h-2zM247 135h2v4h-2zM94 139h1v4h-1zM112 139h2v4h-2zM117 139h2v4h-2zM137 139h2v4h-2zM147 139h2v4h-2zM155 139h1v4h-1zM259 139h3v4h-3zM114 143h1v5h-1zM124 143h1v5h-1zM137 143h2v5h-2zM159 143h1v5h-1zM170 143h2v5h-2zM291 143h3v5h-3zM94 148h1v4h-1zM205 148h2v4h-2zM87 152h2v4h-2zM84 156h1v4h-1zM117 156h2v4h-2zM137 156h2v4h-2zM170 156h2v4h-2zM212 156h2v4h-2zM247 156h2v4h-2zM269 156h5v4h-5zM284 156h3v4h-3zM84 160h1v4h-1zM142 160h2v4h-2zM197 160h3v4h-3zM239 160h3v4h-3zM262 160h2v4h-2zM294 160h2v4h-2zM81 164h1v4h-1zM106 164h1v4h-1zM242 164h2v4h-2zM316 164h3v4h-3zM91 168h1v4h-1zM116 168h1v4h-1zM152 168h3v4h-3zM185 168h2v4h-2zM252 168h2v4h-2zM91 172h1v4h-1zM117 172h2v4h-2zM152 172h2v4h-2zM187 172h3v4h-3zM212 172h2v4h-2zM115 176h1v4h-1zM141 176h1v4h-1zM161 176h1v4h-1zM165 176h2v4h-2zM291 176h3v4h-3zM136 180h1v4h-1zM155 180h1v4h-1zM161 180h1v4h-1zM197 180h3v4h-3zM207 180h2v4h-2zM289 180h2v4h-2zM319 180h2v4h-2zM92 184h2v5h-2zM112 184h2v5h-2zM137 184h2v5h-2zM137 189h2v4h-2zM142 189h2v4h-2zM147 189h2v4h-2zM175 189h2v4h-2zM254 189h3v4h-3zM119 193h1v4h-1zM136 193h1v4h-1zM146 193h1v4h-1zM155 193h1v4h-1zM249 193h3v4h-3zM262 193h2v4h-2zM112 197h2v4h-2zM119 197h2v4h-2zM122 197h2v4h-2zM130 197h1v4h-1zM134 197h1v4h-1zM137 197h2v4h-2zM185 197h5v4h-5zM232 197h2v4h-2zM262 197h2v4h-2zM109 201h1v4h-1zM124 201h1v4h-1zM151 201h1v4h-1zM177 201h3v4h-3zM234 201h3v4h-3zM249 201h3v4h-3zM284 201h3v4h-3zM316 201h3v4h-3zM120 205h1v4h-1zM147 205h2v4h-2zM85 209h1v4h-1zM92 209h2v4h-2zM107 209h2v4h-2zM110 209h1v4h-1zM116 209h1v4h-1zM124 209h1v4h-1zM150 209h1v4h-1zM160 209h1v4h-1zM167 209h3v4h-3zM190 209h5v4h-5zM232 209h2v4h-2zM301 209h3v4h-3zM306 209h3v4h-3zM95 213h1v4h-1zM120 213h1v4h-1zM124 213h1v4h-1zM132 213h3v4h-3zM156 213h1v4h-1zM229 213h3v4h-3zM239 213h3v4h-3zM279 213h3v4h-3zM94 217h1v4h-1zM120 217h1v4h-1zM126 217h1v4h-1zM129 217h1v4h-1zM131 217h1v4h-1zM157 217h2v4h-2zM207 217h2v4h-2zM284 217h3v4h-3zM259 221h3v4h-3zM287 221h2v4h-2zM92 225h2v5h-2zM111 225h1v5h-1zM116 225h1v5h-1zM119 225h1v5h-1zM131 225h1v5h-1zM146 225h1v5h-1zM262 225h2v5h-2zM94 230h1v4h-1zM117 230h2v4h-2zM159 230h1v4h-1zM161 230h1v4h-1zM165 230h2v4h-2zM182 230h3v4h-3zM187 230h3v4h-3zM197 230h3v4h-3zM207 230h2v4h-2zM114 234h1v4h-1zM121 234h1v4h-1zM177 234h3v4h-3zM187 234h3v4h-3zM85 238h1v4h-1zM105 238h1v4h-1zM114 238h2v4h-2zM237 238h2v4h-2zM249 238h3v4h-3zM289 238h2v4h-2zM125 242h1v4h-1zM159 242h1v4h-1zM205 242h2v4h-2zM244 242h3v4h-3zM289 242h2v4h-2zM82 246h2v4h-2zM99 246h1v4h-1zM134 246h1v4h-1zM165 246h2v4h-2zM217 246h2v4h-2zM254 246h3v4h-3zM81 250h1v4h-1zM106 250h1v4h-1zM112 250h3v4h-3zM144 250h1v4h-1zM160 250h1v4h-1zM180 250h2v4h-2zM205 250h2v4h-2zM227 250h2v4h-2zM262 250h2v4h-2zM272 250h2v4h-2zM95 254h1v4h-1zM120 254h2v4h-2zM137 254h2v4h-2zM140 254h1v4h-1zM160 254h1v4h-1zM167 254h3v4h-3zM205 254h2v4h-2zM85 258h1v4h-1zM99 258h1v4h-1zM112 258h2v4h-2zM187 258h3v4h-3zM207 258h2v4h-2zM82 262h2v4h-2zM104 262h1v4h-1zM126 262h1v4h-1zM219 262h3v4h-3zM84 266h1v5h-1zM114 266h1v5h-1zM209 266h3v5h-3zM287 266h2v5h-2zM107 271h2v4h-2zM129 271h1v4h-1zM132 271h2v4h-2zM319 271h2v4h-2zM115 275h1v4h-1zM129 275h1v4h-1zM141 275h1v4h-1zM161 275h1v4h-1zM175 275h2v4h-2zM200 275h2v4h-2zM232 275h2v4h-2zM92 279h2v4h-2zM116 279h1v4h-1zM167 279h3v4h-3zM217 279h2v4h-2zM237 279h2v4h-2zM124 283h1v4h-1zM127 283h2v4h-2zM135 283h1v4h-1zM177 283h3v4h-3zM207 283h5v4h-5zM89 287h1v4h-1zM114 287h1v4h-1zM124 287h1v4h-1zM161 287h1v4h-1zM167 287h3v4h-3zM192 287h5v4h-5zM207 287h2v4h-2zM349 287h6v4h-6zM82 291h2v4h-2zM111 291h1v4h-1zM119 291h1v4h-1zM131 291h1v4h-1zM165 291h2v4h-2zM172 291h3v4h-3zM99 295h1v4h-1zM112 295h2v4h-2zM124 295h1v4h-1zM146 295h1v4h-1zM172 295h3v4h-3zM185 295h2v4h-2zM277 295h2v4h-2zM284 295h3v4h-3zM304 295h2v4h-2zM309 295h2v4h-2zM86 299h1v4h-1zM117 299h3v4h-3zM167 299h3v4h-3zM177 299h3v4h-3zM217 299h2v4h-2zM110 303h1v4h-1zM119 303h1v4h-1zM121 303h1v4h-1zM209 303h3v4h-3zM277 303h2v4h-2zM287 303h2v4h-2zM120 307h1v5h-1zM127 307h2v5h-2zM156 307h1v5h-1zM306 307h3v5h-3zM82 312h2v4h-2zM105 312h1v4h-1zM114 312h1v4h-1zM120 312h1v4h-1zM122 312h2v4h-2zM149 312h1v4h-1zM195 312h5v4h-5zM249 312h3v4h-3zM109 316h1v4h-1zM111 316h1v4h-1zM114 316h1v4h-1zM119 316h1v4h-1zM125 316h1v4h-1zM137 316h2v4h-2zM161 316h1v4h-1zM200 316h2v4h-2zM105 320h1v4h-1zM192 320h3v4h-3zM306 320h3v4h-3zM121 324h1v4h-1zM131 324h1v4h-1zM175 324h2v4h-2zM180 324h2v4h-2zM217 324h2v4h-2zM237 324h2v4h-2zM104 328h1v4h-1zM147 328h2v4h-2zM154 328h1v4h-1zM282 328h2v4h-2zM319 328h2v4h-2zM349 328h6v4h-6zM116 332h1v4h-1zM125 332h1v4h-1zM217 332h2v4h-2zM234 332h3v4h-3zM296 332h3v4h-3zM112 336h2v4h-2zM116 336h1v4h-1zM161 336h1v4h-1zM187 336h3v4h-3zM197 336h3v4h-3zM229 336h3v4h-3zM244 336h5v4h-5zM291 336h3v4h-3zM140 340h1v4h-1zM109 344h1v4h-1zM111 344h1v4h-1zM134 344h1v4h-1zM177 344h3v4h-3zM197 344h3v4h-3zM127 348h2v5h-2zM140 348h1v5h-1zM155 348h1v5h-1zM157 348h2v5h-2zM219 348h3v5h-3zM311 348h3v5h-3zM316 348h3v5h-3zM89 353h1v4h-1zM137 353h2v4h-2zM190 353h2v4h-2zM200 353h2v4h-2zM91 357h1v4h-1zM111 357h1v4h-1zM114 357h1v4h-1zM117 357h2v4h-2zM127 357h2v4h-2zM146 357h1v4h-1zM149 357h1v4h-1zM182 357h3v4h-3zM207 357h2v4h-2zM284 357h3v4h-3zM294 357h5v4h-5zM127 361h2v4h-2zM137 361h2v4h-2zM227 361h2v4h-2zM249 361h3v4h-3zM140 365h1v4h-1zM142 365h2v4h-2zM197 365h3v4h-3zM84 369h1v4h-1zM91 369h1v4h-1zM114 369h1v4h-1zM127 373h2v4h-2zM187 373h3v4h-3zM122 377h2v4h-2zM131 377h1v4h-1zM150 377h1v4h-1zM172 377h3v4h-3zM180 377h2v4h-2zM185 377h2v4h-2zM92 381h2v4h-2zM110 381h1v4h-1zM237 381h2v4h-2zM309 381h2v4h-2zM140 385h1v4h-1zM146 385h3v4h-3zM202 385h3v4h-3zM229 385h3v4h-3zM167 389h3v5h-3zM207 389h2v5h-2zM212 389h2v5h-2zM84 394h1v4h-1zM90 394h1v4h-1zM152 394h2v4h-2zM219 394h3v4h-3zM259 394h3v4h-3zM91 398h1v4h-1zM154 398h1v4h-1zM185 398h2v4h-2zM192 398h3v4h-3zM272 398h2v4h-2zM89 402h1v4h-1zM146 402h1v4h-1zM167 402h3v4h-3zM267 402h2v4h-2zM92 406h2v4h-2zM161 406h1v4h-1zM172 406h3v4h-3zM214 406h3v4h-3z"/><path fill="#4685fa" d="M294 81h2v5h-2zM304 81h5v5h-5zM311 81h3v5h-3zM316 81h3v5h-3zM321 81h6v5h-6zM416 81h11v5h-11zM121 86h1v4h-1zM132 86h2v4h-2zM165 86h2v4h-2zM177 86h3v4h-3zM214 86h3v4h-3zM262 86h2v4h-2zM112 90h2v4h-2zM131 90h1v4h-1zM134 90h1v4h-1zM141 90h1v4h-1zM147 90h2v4h-2zM155 90h1v4h-1zM164 90h1v4h-1zM237 90h2v4h-2zM282 90h2v4h-2zM115 94h1v4h-1zM139 94h1v4h-1zM142 94h2v4h-2zM244 94h3v4h-3zM124 98h1v4h-1zM142 98h2v4h-2zM144 102h2v5h-2zM177 102h3v5h-3zM110 107h1v4h-1zM116 107h1v4h-1zM135 107h1v4h-1zM217 107h2v4h-2zM116 111h1v4h-1zM149 111h1v4h-1zM155 111h1v4h-1zM159 111h1v4h-1zM291 111h3v4h-3zM86 115h1v4h-1zM140 115h1v4h-1zM185 115h2v4h-2zM192 115h3v4h-3zM209 115h3v4h-3zM282 115h2v4h-2zM291 115h5v4h-5zM82 119h2v4h-2zM85 119h1v4h-1zM89 119h1v4h-1zM137 119h2v4h-2zM160 119h1v4h-1zM239 119h3v4h-3zM252 119h2v4h-2zM95 123h1v4h-1zM105 123h1v4h-1zM111 123h4v4h-4zM119 123h1v4h-1zM139 123h1v4h-1zM152 123h2v4h-2zM104 127h1v4h-1zM114 127h1v4h-1zM126 127h1v4h-1zM136 127h1v4h-1zM144 127h1v4h-1zM161 127h1v4h-1zM167 127h3v4h-3zM105 131h1v4h-1zM139 131h1v4h-1zM144 131h1v4h-1zM202 131h5v4h-5zM84 135h1v4h-1zM122 135h2v4h-2zM145 135h1v4h-1zM202 135h3v4h-3zM239 135h3v4h-3zM145 139h1v4h-1zM165 139h2v4h-2zM170 139h2v4h-2zM205 139h2v4h-2zM269 139h3v4h-3zM289 139h2v4h-2zM122 143h2v5h-2zM150 143h1v5h-1zM205 143h2v5h-2zM212 143h2v5h-2zM217 143h2v5h-2zM287 143h2v5h-2zM294 143h2v5h-2zM112 148h2v4h-2zM132 148h2v4h-2zM140 148h1v4h-1zM142 148h2v4h-2zM156 148h1v4h-1zM227 148h2v4h-2zM259 148h3v4h-3zM344 148h5v4h-5zM89 152h1v4h-1zM107 152h2v4h-2zM132 152h2v4h-2zM165 152h2v4h-2zM192 152h3v4h-3zM279 152h3v4h-3zM127 156h2v4h-2zM195 156h2v4h-2zM314 156h2v4h-2zM85 160h1v4h-1zM119 160h1v4h-1zM141 160h1v4h-1zM164 160h1v4h-1zM177 160h3v4h-3zM187 160h3v4h-3zM242 160h2v4h-2zM90 164h1v4h-1zM107 164h2v4h-2zM124 164h2v4h-2zM130 164h1v4h-1zM134 164h1v4h-1zM152 164h3v4h-3zM156 164h1v4h-1zM214 164h3v4h-3zM92 168h2v4h-2zM112 168h2v4h-2zM115 168h1v4h-1zM121 168h1v4h-1zM147 168h3v4h-3zM200 168h2v4h-2zM227 168h2v4h-2zM87 172h2v4h-2zM141 172h1v4h-1zM147 172h2v4h-2zM155 172h1v4h-1zM172 172h3v4h-3zM182 172h3v4h-3zM192 172h3v4h-3zM114 176h1v4h-1zM130 176h1v4h-1zM160 176h1v4h-1zM175 176h2v4h-2zM219 176h3v4h-3zM282 176h2v4h-2zM114 180h1v4h-1zM121 180h3v4h-3zM141 180h1v4h-1zM99 184h1v5h-1zM121 184h1v5h-1zM132 184h2v5h-2zM149 184h2v5h-2zM154 184h1v5h-1zM207 184h2v5h-2zM114 189h1v4h-1zM135 189h1v4h-1zM146 189h1v4h-1zM167 189h3v4h-3zM177 189h3v4h-3zM86 193h1v4h-1zM90 193h1v4h-1zM112 193h2v4h-2zM120 193h1v4h-1zM131 193h1v4h-1zM182 193h3v4h-3zM296 193h3v4h-3zM87 197h2v4h-2zM107 197h2v4h-2zM197 197h3v4h-3zM239 197h3v4h-3zM344 197h5v4h-5zM105 201h1v4h-1zM127 201h2v4h-2zM142 201h2v4h-2zM180 201h2v4h-2zM212 201h2v4h-2zM287 201h2v4h-2zM117 205h2v4h-2zM125 205h1v4h-1zM131 205h3v4h-3zM135 205h1v4h-1zM159 205h1v4h-1zM296 205h3v4h-3zM106 209h1v4h-1zM130 209h1v4h-1zM137 209h2v4h-2zM257 209h2v4h-2zM299 209h2v4h-2zM85 213h1v4h-1zM160 213h1v4h-1zM164 213h1v4h-1zM249 213h3v4h-3zM146 217h1v4h-1zM151 217h1v4h-1zM165 217h2v4h-2zM185 217h2v4h-2zM254 217h3v4h-3zM279 217h3v4h-3zM81 221h1v4h-1zM116 221h1v4h-1zM135 221h1v4h-1zM139 221h1v4h-1zM165 221h2v4h-2zM94 225h1v5h-1zM99 225h1v5h-1zM115 225h1v5h-1zM120 225h1v5h-1zM156 225h1v5h-1zM195 225h2v5h-2zM244 225h3v5h-3zM87 230h4v4h-4zM125 230h1v4h-1zM136 230h1v4h-1zM214 230h3v4h-3zM262 230h2v4h-2zM291 230h3v4h-3zM110 234h1v4h-1zM115 234h1v4h-1zM200 234h2v4h-2zM269 234h3v4h-3zM137 238h2v4h-2zM147 238h2v4h-2zM154 238h1v4h-1zM164 238h3v4h-3zM247 238h2v4h-2zM120 242h1v4h-1zM140 242h1v4h-1zM145 242h1v4h-1zM165 242h2v4h-2zM172 242h3v4h-3zM87 246h2v4h-2zM106 246h1v4h-1zM144 246h1v4h-1zM149 246h1v4h-1zM155 246h1v4h-1zM164 246h1v4h-1zM185 246h2v4h-2zM257 246h2v4h-2zM124 250h1v4h-1zM154 250h1v4h-1zM321 250h6v4h-6zM99 254h1v4h-1zM110 254h1v4h-1zM114 254h1v4h-1zM134 254h1v4h-1zM145 254h1v4h-1zM151 254h1v4h-1zM156 254h1v4h-1zM187 254h3v4h-3zM202 254h3v4h-3zM244 254h3v4h-3zM106 258h1v4h-1zM110 258h1v4h-1zM115 258h1v4h-1zM122 258h2v4h-2zM185 258h2v4h-2zM259 258h3v4h-3zM389 258h5v4h-5zM172 262h3v4h-3zM185 262h2v4h-2zM229 262h3v4h-3zM112 266h2v5h-2zM116 266h1v5h-1zM125 266h1v5h-1zM135 266h1v5h-1zM146 266h1v5h-1zM175 266h2v5h-2zM180 266h2v5h-2zM105 271h1v4h-1zM110 271h1v4h-1zM119 271h1v4h-1zM124 271h1v4h-1zM127 271h2v4h-2zM137 271h2v4h-2zM161 271h1v4h-1zM200 271h2v4h-2zM111 275h1v4h-1zM124 275h1v4h-1zM144 275h1v4h-1zM155 275h1v4h-1zM165 275h2v4h-2zM389 275h5v4h-5zM87 279h2v4h-2zM110 279h1v4h-1zM141 279h3v4h-3zM152 279h2v4h-2zM207 279h2v4h-2zM254 279h3v4h-3zM104 283h1v4h-1zM116 287h1v4h-1zM127 287h2v4h-2zM156 287h1v4h-1zM164 287h1v4h-1zM187 287h3v4h-3zM200 287h2v4h-2zM205 287h2v4h-2zM272 287h2v4h-2zM327 287h6v4h-6zM92 291h2v4h-2zM140 291h1v4h-1zM155 291h1v4h-1zM205 291h4v4h-4zM259 291h3v4h-3zM279 291h3v4h-3zM154 295h1v4h-1zM192 295h3v4h-3zM272 295h2v4h-2zM344 295h5v4h-5zM134 299h1v4h-1zM180 299h2v4h-2zM316 299h3v4h-3zM150 303h1v4h-1zM155 303h1v4h-1zM177 303h3v4h-3zM249 303h3v4h-3zM267 303h2v4h-2zM144 307h1v5h-1zM155 307h1v5h-1zM172 307h3v5h-3zM180 307h2v5h-2zM217 307h2v5h-2zM89 312h1v4h-1zM200 312h5v4h-5zM327 312h6v4h-6zM383 312h6v4h-6zM91 316h1v4h-1zM124 316h1v4h-1zM126 316h1v4h-1zM296 316h3v4h-3zM81 320h1v4h-1zM104 320h1v4h-1zM117 320h2v4h-2zM121 320h1v4h-1zM137 320h4v4h-4zM147 320h2v4h-2zM162 320h2v4h-2zM187 320h3v4h-3zM202 320h5v4h-5zM301 320h3v4h-3zM130 324h1v4h-1zM134 324h1v4h-1zM147 324h2v4h-2zM156 324h1v4h-1zM229 324h3v4h-3zM234 324h3v4h-3zM107 328h2v4h-2zM111 328h1v4h-1zM116 328h1v4h-1zM121 328h1v4h-1zM212 328h2v4h-2zM114 332h1v4h-1zM117 332h2v4h-2zM127 332h2v4h-2zM137 332h2v4h-2zM142 332h2v4h-2zM180 332h2v4h-2zM212 332h2v4h-2zM272 332h2v4h-2zM304 332h2v4h-2zM84 336h2v4h-2zM145 336h1v4h-1zM239 336h3v4h-3zM254 336h3v4h-3zM110 340h1v4h-1zM135 340h1v4h-1zM151 340h1v4h-1zM160 340h1v4h-1zM187 340h3v4h-3zM219 340h3v4h-3zM92 344h2v4h-2zM112 344h2v4h-2zM139 344h1v4h-1zM146 344h1v4h-1zM104 348h1v5h-1zM135 348h1v5h-1zM142 348h2v5h-2zM167 348h3v5h-3zM187 348h3v5h-3zM239 348h3v5h-3zM289 348h2v5h-2zM132 353h3v4h-3zM219 353h3v4h-3zM237 353h2v4h-2zM247 353h2v4h-2zM87 357h2v4h-2zM90 357h1v4h-1zM95 357h1v4h-1zM109 357h1v4h-1zM141 357h1v4h-1zM209 357h3v4h-3zM262 357h2v4h-2zM95 361h1v4h-1zM190 361h2v4h-2zM229 361h3v4h-3zM272 361h2v4h-2zM107 365h2v4h-2zM115 365h1v4h-1zM154 365h1v4h-1zM165 365h2v4h-2zM172 365h3v4h-3zM81 369h1v4h-1zM134 369h1v4h-1zM144 369h1v4h-1zM190 369h2v4h-2zM197 369h3v4h-3zM205 369h2v4h-2zM229 369h3v4h-3zM95 373h1v4h-1zM156 373h1v4h-1zM117 377h2v4h-2zM151 377h1v4h-1zM229 377h3v4h-3zM106 381h1v4h-1zM114 381h1v4h-1zM121 381h1v4h-1zM125 381h2v4h-2zM129 381h1v4h-1zM152 381h2v4h-2zM185 381h2v4h-2zM217 381h2v4h-2zM244 381h3v4h-3zM150 385h1v4h-1zM152 385h2v4h-2zM180 385h2v4h-2zM104 389h1v5h-1zM122 389h2v5h-2zM130 389h1v5h-1zM146 389h1v5h-1zM170 389h2v5h-2zM219 389h3v5h-3zM239 389h3v5h-3zM287 389h2v5h-2zM86 394h1v4h-1zM89 394h1v4h-1zM106 394h1v4h-1zM159 394h1v4h-1zM187 394h3v4h-3zM200 394h2v4h-2zM137 398h2v4h-2zM149 398h1v4h-1zM165 398h2v4h-2zM170 398h2v4h-2zM177 398h3v4h-3zM212 398h2v4h-2zM85 402h1v4h-1zM115 402h1v4h-1zM142 402h2v4h-2zM205 402h2v4h-2zM217 402h2v4h-2zM150 406h1v4h-1zM155 406h1v4h-1zM190 406h2v4h-2zM314 406h2v4h-2z"/><path fill="#458afc" d="M272 81h2v5h-2zM284 81h3v5h-3zM291 81h3v5h-3zM296 81h8v5h-8zM314 81h2v5h-2zM333 81h5v5h-5zM91 86h1v4h-1zM110 86h1v4h-1zM125 86h1v4h-1zM142 86h2v4h-2zM149 86h1v4h-1zM192 86h3v4h-3zM197 86h3v4h-3zM207 86h2v4h-2zM219 86h3v4h-3zM234 86h3v4h-3zM122 90h2v4h-2zM130 90h1v4h-1zM146 90h1v4h-1zM229 90h3v4h-3zM107 94h2v4h-2zM114 94h1v4h-1zM165 94h5v4h-5zM180 94h2v4h-2zM190 94h2v4h-2zM197 94h3v4h-3zM319 94h2v4h-2zM114 98h1v4h-1zM127 98h2v4h-2zM159 98h1v4h-1zM212 98h2v4h-2zM219 98h3v4h-3zM299 98h2v4h-2zM85 102h1v5h-1zM91 102h3v5h-3zM115 102h1v5h-1zM159 102h1v5h-1zM202 102h3v5h-3zM126 107h1v4h-1zM134 107h1v4h-1zM161 107h1v4h-1zM287 107h2v4h-2zM294 107h2v4h-2zM141 111h1v4h-1zM162 111h2v4h-2zM81 115h1v4h-1zM111 115h1v4h-1zM121 115h1v4h-1zM124 115h1v4h-1zM272 115h2v4h-2zM319 115h2v4h-2zM92 119h2v4h-2zM116 119h1v4h-1zM155 119h1v4h-1zM82 123h2v4h-2zM131 123h1v4h-1zM234 123h3v4h-3zM87 127h2v4h-2zM112 127h2v4h-2zM159 127h1v4h-1zM162 127h2v4h-2zM187 127h3v4h-3zM195 127h2v4h-2zM214 127h3v4h-3zM82 131h2v4h-2zM106 131h1v4h-1zM131 131h1v4h-1zM156 131h1v4h-1zM185 131h2v4h-2zM195 131h2v4h-2zM249 131h3v4h-3zM104 135h1v4h-1zM126 135h1v4h-1zM137 135h2v4h-2zM140 135h1v4h-1zM151 135h1v4h-1zM205 135h2v4h-2zM267 135h2v4h-2zM272 135h2v4h-2zM89 139h1v4h-1zM104 139h1v4h-1zM107 139h2v4h-2zM119 139h1v4h-1zM131 139h1v4h-1zM177 139h3v4h-3zM349 139h6v4h-6zM89 143h1v5h-1zM119 143h1v5h-1zM141 143h1v5h-1zM156 143h1v5h-1zM301 143h3v5h-3zM87 148h2v4h-2zM117 148h2v4h-2zM120 148h1v4h-1zM170 148h2v4h-2zM182 148h3v4h-3zM114 152h1v4h-1zM139 152h1v4h-1zM146 152h1v4h-1zM152 152h2v4h-2zM202 152h3v4h-3zM237 152h2v4h-2zM86 156h1v4h-1zM95 156h1v4h-1zM135 156h1v4h-1zM152 156h2v4h-2zM156 156h1v4h-1zM164 156h1v4h-1zM192 156h3v4h-3zM202 156h3v4h-3zM319 156h2v4h-2zM89 160h1v4h-1zM115 160h1v4h-1zM129 160h1v4h-1zM152 160h2v4h-2zM217 160h2v4h-2zM82 164h2v4h-2zM141 164h1v4h-1zM167 164h5v4h-5zM257 168h2v4h-2zM110 172h1v4h-1zM145 172h1v4h-1zM150 172h1v4h-1zM161 172h1v4h-1zM177 172h3v4h-3zM262 172h2v4h-2zM94 176h1v4h-1zM124 176h1v4h-1zM132 176h2v4h-2zM139 176h1v4h-1zM142 176h3v4h-3zM154 176h1v4h-1zM156 176h1v4h-1zM187 176h3v4h-3zM314 176h2v4h-2zM85 180h1v4h-1zM106 180h1v4h-1zM110 180h1v4h-1zM120 180h1v4h-1zM125 180h1v4h-1zM333 180h5v4h-5zM296 184h3v5h-3zM117 189h2v4h-2zM134 189h1v4h-1zM165 189h2v4h-2zM242 189h2v4h-2zM107 193h2v4h-2zM137 193h2v4h-2zM149 193h1v4h-1zM152 193h2v4h-2zM167 193h3v4h-3zM185 193h2v4h-2zM94 197h1v4h-1zM111 197h1v4h-1zM117 197h2v4h-2zM167 197h3v4h-3zM209 197h3v4h-3zM254 197h3v4h-3zM107 201h2v4h-2zM121 201h1v4h-1zM132 201h2v4h-2zM156 201h1v4h-1zM165 201h2v4h-2zM172 201h3v4h-3zM91 205h1v4h-1zM154 205h1v4h-1zM182 205h3v4h-3zM244 205h3v4h-3zM306 205h3v4h-3zM327 205h6v4h-6zM90 209h1v4h-1zM104 209h1v4h-1zM165 209h2v4h-2zM187 209h3v4h-3zM209 209h3v4h-3zM127 213h2v4h-2zM147 213h2v4h-2zM155 213h1v4h-1zM182 213h3v4h-3zM209 213h3v4h-3zM110 217h1v4h-1zM115 217h1v4h-1zM122 217h2v4h-2zM155 217h1v4h-1zM162 217h2v4h-2zM299 217h2v4h-2zM84 221h2v4h-2zM90 221h2v4h-2zM95 221h1v4h-1zM125 221h1v4h-1zM195 221h2v4h-2zM209 221h3v4h-3zM104 225h1v5h-1zM182 225h3v5h-3zM187 225h3v5h-3zM95 230h1v4h-1zM109 230h1v4h-1zM111 230h1v4h-1zM142 230h2v4h-2zM175 230h5v4h-5zM185 230h2v4h-2zM205 230h2v4h-2zM90 234h1v4h-1zM125 234h1v4h-1zM161 234h1v4h-1zM227 234h2v4h-2zM249 234h3v4h-3zM125 238h2v4h-2zM152 238h2v4h-2zM159 238h1v4h-1zM162 238h2v4h-2zM212 238h2v4h-2zM219 238h3v4h-3zM279 238h3v4h-3zM81 242h3v4h-3zM91 242h1v4h-1zM115 242h1v4h-1zM170 242h2v4h-2zM195 242h2v4h-2zM209 242h3v4h-3zM214 242h3v4h-3zM111 246h1v4h-1zM119 246h1v4h-1zM284 246h3v4h-3zM314 246h2v4h-2zM82 250h2v4h-2zM107 250h4v4h-4zM130 250h1v4h-1zM150 250h1v4h-1zM156 250h1v4h-1zM187 250h3v4h-3zM296 250h3v4h-3zM164 254h1v4h-1zM175 254h2v4h-2zM197 254h3v4h-3zM212 254h2v4h-2zM217 254h2v4h-2zM87 258h2v4h-2zM91 258h1v4h-1zM105 258h1v4h-1zM144 258h1v4h-1zM146 258h1v4h-1zM159 258h1v4h-1zM91 262h1v4h-1zM187 262h3v4h-3zM205 262h4v4h-4zM85 266h1v5h-1zM87 266h2v5h-2zM106 266h1v5h-1zM130 266h1v5h-1zM159 266h1v5h-1zM84 271h1v4h-1zM106 271h1v4h-1zM120 271h1v4h-1zM135 271h1v4h-1zM151 271h1v4h-1zM94 275h1v4h-1zM187 275h3v4h-3zM202 275h3v4h-3zM219 275h3v4h-3zM106 279h1v4h-1zM121 279h1v4h-1zM129 279h1v4h-1zM135 279h1v4h-1zM154 279h2v4h-2zM87 283h2v4h-2zM117 283h2v4h-2zM155 283h1v4h-1zM182 283h3v4h-3zM239 283h3v4h-3zM294 283h2v4h-2zM85 287h1v4h-1zM126 287h1v4h-1zM134 287h2v4h-2zM154 287h2v4h-2zM242 287h2v4h-2zM91 291h1v4h-1zM107 291h2v4h-2zM117 291h2v4h-2zM129 291h1v4h-1zM152 291h2v4h-2zM164 291h1v4h-1zM242 291h2v4h-2zM304 291h2v4h-2zM81 295h3v4h-3zM86 295h1v4h-1zM137 295h2v4h-2zM151 295h1v4h-1zM111 299h1v4h-1zM124 299h1v4h-1zM126 299h1v4h-1zM129 299h1v4h-1zM146 299h1v4h-1zM160 299h1v4h-1zM162 299h2v4h-2zM301 299h3v4h-3zM105 303h1v4h-1zM192 303h3v4h-3zM106 307h1v5h-1zM124 307h1v5h-1zM129 307h1v5h-1zM129 312h1v4h-1zM136 312h1v4h-1zM164 312h1v4h-1zM170 312h2v4h-2zM185 312h2v4h-2zM214 312h3v4h-3zM321 312h6v4h-6zM107 316h2v4h-2zM116 316h1v4h-1zM136 316h1v4h-1zM84 320h1v4h-1zM109 320h1v4h-1zM145 320h1v4h-1zM159 320h1v4h-1zM81 324h1v4h-1zM152 324h2v4h-2zM262 324h2v4h-2zM82 328h2v4h-2zM90 328h1v4h-1zM146 328h1v4h-1zM165 328h2v4h-2zM170 328h2v4h-2zM85 332h1v4h-1zM95 332h1v4h-1zM124 332h1v4h-1zM126 332h1v4h-1zM154 332h1v4h-1zM177 332h3v4h-3zM106 336h1v4h-1zM136 336h1v4h-1zM141 336h1v4h-1zM162 336h2v4h-2zM177 336h3v4h-3zM81 340h1v4h-1zM95 340h1v4h-1zM104 340h1v4h-1zM120 340h1v4h-1zM161 340h1v4h-1zM164 340h3v4h-3zM197 340h5v4h-5zM333 340h5v4h-5zM82 344h2v4h-2zM91 344h1v4h-1zM120 344h1v4h-1zM125 344h2v4h-2zM140 344h1v4h-1zM147 344h2v4h-2zM151 344h1v4h-1zM165 344h2v4h-2zM172 344h3v4h-3zM187 344h3v4h-3zM306 344h3v4h-3zM84 348h1v5h-1zM91 348h1v5h-1zM110 348h4v5h-4zM122 348h2v5h-2zM132 348h2v5h-2zM139 348h1v5h-1zM141 348h1v5h-1zM106 353h1v4h-1zM115 353h1v4h-1zM117 353h2v4h-2zM141 353h1v4h-1zM145 353h1v4h-1zM156 353h1v4h-1zM162 353h2v4h-2zM209 353h3v4h-3zM177 357h3v4h-3zM185 357h2v4h-2zM197 357h3v4h-3zM205 357h2v4h-2zM272 357h2v4h-2zM82 361h2v4h-2zM91 361h1v4h-1zM104 361h1v4h-1zM109 361h1v4h-1zM146 361h1v4h-1zM161 361h1v4h-1zM170 361h2v4h-2zM180 361h2v4h-2zM185 361h2v4h-2zM234 361h3v4h-3zM242 361h2v4h-2zM161 365h1v4h-1zM129 369h2v4h-2zM135 369h1v4h-1zM137 369h2v4h-2zM149 369h1v4h-1zM156 369h1v4h-1zM232 369h2v4h-2zM105 373h2v4h-2zM114 373h1v4h-1zM120 373h1v4h-1zM135 373h1v4h-1zM151 373h1v4h-1zM242 373h2v4h-2zM274 373h3v4h-3zM105 377h1v4h-1zM139 377h1v4h-1zM147 377h2v4h-2zM289 377h2v4h-2zM321 377h6v4h-6zM85 381h1v4h-1zM89 381h1v4h-1zM107 381h2v4h-2zM117 381h2v4h-2zM142 381h2v4h-2zM146 381h1v4h-1zM172 381h3v4h-3zM177 381h3v4h-3zM134 385h1v4h-1zM159 385h1v4h-1zM219 385h3v4h-3zM234 385h3v4h-3zM114 389h1v5h-1zM126 389h1v5h-1zM175 389h2v5h-2zM195 389h2v5h-2zM209 389h3v5h-3zM274 389h3v5h-3zM279 389h3v5h-3zM81 394h1v4h-1zM85 394h1v4h-1zM91 394h1v4h-1zM156 394h1v4h-1zM185 394h2v4h-2zM131 398h1v4h-1zM219 398h3v4h-3zM94 402h1v4h-1zM149 402h2v4h-2zM154 402h1v4h-1zM164 402h1v4h-1zM200 402h2v4h-2zM154 406h1v4h-1zM165 406h2v4h-2zM217 406h2v4h-2zM296 406h3v4h-3z"/><path fill="#448ffe" d="M227 81h2v5h-2zM247 81h5v5h-5zM257 81h2v5h-2zM277 81h2v5h-2zM289 81h2v5h-2zM81 86h1v4h-1zM99 86h1v4h-1zM106 86h1v4h-1zM114 86h1v4h-1zM140 86h1v4h-1zM170 86h2v4h-2zM202 86h3v4h-3zM81 90h1v4h-1zM117 90h2v4h-2zM132 90h2v4h-2zM137 90h2v4h-2zM165 90h2v4h-2zM170 90h2v4h-2zM119 94h1v4h-1zM122 94h2v4h-2zM141 94h1v4h-1zM170 94h2v4h-2zM185 94h2v4h-2zM104 98h1v4h-1zM117 98h3v4h-3zM134 98h2v4h-2zM291 98h3v4h-3zM120 102h1v5h-1zM146 102h1v5h-1zM150 102h1v5h-1zM172 102h3v5h-3zM99 107h1v4h-1zM104 107h1v4h-1zM109 107h1v4h-1zM120 107h1v4h-1zM122 107h2v4h-2zM130 107h1v4h-1zM144 107h1v4h-1zM159 107h1v4h-1zM85 111h1v4h-1zM87 111h2v4h-2zM91 111h1v4h-1zM185 111h2v4h-2zM257 111h2v4h-2zM119 115h1v4h-1zM137 115h2v4h-2zM142 115h2v4h-2zM161 115h1v4h-1zM195 115h2v4h-2zM257 115h2v4h-2zM105 119h1v4h-1zM120 119h1v4h-1zM126 119h1v4h-1zM132 119h2v4h-2zM136 119h1v4h-1zM141 119h1v4h-1zM145 119h1v4h-1zM207 119h2v4h-2zM217 119h2v4h-2zM106 123h1v4h-1zM115 123h1v4h-1zM172 123h3v4h-3zM195 123h2v4h-2zM244 123h3v4h-3zM91 127h1v4h-1zM177 127h3v4h-3zM212 127h2v4h-2zM84 131h1v4h-1zM112 131h2v4h-2zM126 131h1v4h-1zM137 131h2v4h-2zM142 131h2v4h-2zM146 131h1v4h-1zM187 131h3v4h-3zM200 131h2v4h-2zM209 131h3v4h-3zM296 131h3v4h-3zM150 135h1v4h-1zM229 135h3v4h-3zM81 139h1v4h-1zM151 139h1v4h-1zM182 139h3v4h-3zM272 139h2v4h-2zM81 143h1v5h-1zM142 143h2v5h-2zM147 143h2v5h-2zM207 143h2v5h-2zM95 148h1v4h-1zM116 148h1v4h-1zM161 148h1v4h-1zM167 148h3v4h-3zM239 148h3v4h-3zM84 152h1v4h-1zM94 152h1v4h-1zM110 152h1v4h-1zM121 152h1v4h-1zM140 152h1v4h-1zM164 152h1v4h-1zM167 152h3v4h-3zM197 152h3v4h-3zM239 152h3v4h-3zM151 156h1v4h-1zM165 156h2v4h-2zM177 156h5v4h-5zM187 156h3v4h-3zM205 156h2v4h-2zM237 156h2v4h-2zM131 160h1v4h-1zM172 160h3v4h-3zM85 164h1v4h-1zM87 164h2v4h-2zM94 164h1v4h-1zM99 164h1v4h-1zM105 164h1v4h-1zM109 164h1v4h-1zM122 164h2v4h-2zM131 164h1v4h-1zM139 164h1v4h-1zM177 164h3v4h-3zM185 164h2v4h-2zM122 168h2v4h-2zM159 168h1v4h-1zM172 168h3v4h-3zM219 168h3v4h-3zM274 168h3v4h-3zM89 172h1v4h-1zM112 172h3v4h-3zM125 172h1v4h-1zM165 172h2v4h-2zM175 172h2v4h-2zM267 172h2v4h-2zM84 176h1v4h-1zM92 176h2v4h-2zM110 176h1v4h-1zM126 176h1v4h-1zM140 176h1v4h-1zM155 176h1v4h-1zM159 176h1v4h-1zM195 176h2v4h-2zM81 180h1v4h-1zM109 180h1v4h-1zM119 180h1v4h-1zM132 180h2v4h-2zM139 180h1v4h-1zM180 180h2v4h-2zM217 180h2v4h-2zM262 180h2v4h-2zM140 184h1v5h-1zM165 184h5v5h-5zM187 184h3v5h-3zM249 184h3v5h-3zM294 184h2v5h-2zM321 184h6v5h-6zM92 189h2v4h-2zM149 189h1v4h-1zM87 193h2v4h-2zM130 193h1v4h-1zM180 193h2v4h-2zM209 193h3v4h-3zM282 193h2v4h-2zM82 197h2v4h-2zM135 197h1v4h-1zM140 197h1v4h-1zM144 197h1v4h-1zM161 197h1v4h-1zM177 197h3v4h-3zM106 201h1v4h-1zM117 201h2v4h-2zM161 201h1v4h-1zM170 201h2v4h-2zM197 201h3v4h-3zM282 201h2v4h-2zM81 205h1v4h-1zM106 205h1v4h-1zM109 205h1v4h-1zM122 205h2v4h-2zM180 205h2v4h-2zM242 205h2v4h-2zM127 209h2v4h-2zM172 209h3v4h-3zM89 213h2v4h-2zM126 213h1v4h-1zM131 213h1v4h-1zM139 213h1v4h-1zM167 213h3v4h-3zM190 213h2v4h-2zM200 213h5v4h-5zM294 213h2v4h-2zM84 217h1v4h-1zM89 217h1v4h-1zM105 217h1v4h-1zM107 217h2v4h-2zM137 217h2v4h-2zM177 217h3v4h-3zM92 221h2v4h-2zM149 221h1v4h-1zM114 225h1v5h-1zM154 225h1v5h-1zM161 225h1v5h-1zM164 225h1v5h-1zM172 225h3v5h-3zM86 230h1v4h-1zM99 230h1v4h-1zM107 230h2v4h-2zM130 230h1v4h-1zM91 234h1v4h-1zM129 234h1v4h-1zM150 234h1v4h-1zM195 234h2v4h-2zM81 238h1v4h-1zM89 238h1v4h-1zM95 238h1v4h-1zM145 238h1v4h-1zM180 238h2v4h-2zM202 238h3v4h-3zM139 242h1v4h-1zM141 242h1v4h-1zM150 242h1v4h-1zM105 246h1v4h-1zM107 246h2v4h-2zM122 246h2v4h-2zM237 246h2v4h-2zM95 250h1v4h-1zM126 250h1v4h-1zM277 250h2v4h-2zM84 254h1v4h-1zM91 254h1v4h-1zM119 254h1v4h-1zM182 254h3v4h-3zM200 254h2v4h-2zM267 254h2v4h-2zM136 258h1v4h-1zM86 262h1v4h-1zM92 262h2v4h-2zM134 262h1v4h-1zM200 262h2v4h-2zM237 262h2v4h-2zM90 266h1v5h-1zM109 266h1v5h-1zM140 266h1v5h-1zM152 266h2v5h-2zM81 271h1v4h-1zM92 271h2v4h-2zM149 271h1v4h-1zM170 271h2v4h-2zM187 271h5v4h-5zM242 271h2v4h-2zM86 275h1v4h-1zM116 275h1v4h-1zM132 275h2v4h-2zM146 275h1v4h-1zM152 275h2v4h-2zM190 275h2v4h-2zM249 275h3v4h-3zM146 279h1v4h-1zM157 279h2v4h-2zM214 279h3v4h-3zM89 283h1v4h-1zM91 283h1v4h-1zM106 283h1v4h-1zM109 283h1v4h-1zM120 283h1v4h-1zM130 283h1v4h-1zM141 283h1v4h-1zM144 283h1v4h-1zM159 283h1v4h-1zM192 283h3v4h-3zM267 283h2v4h-2zM162 287h2v4h-2zM182 287h3v4h-3zM197 287h3v4h-3zM112 291h2v4h-2zM115 291h1v4h-1zM125 291h1v4h-1zM145 291h1v4h-1zM92 295h2v4h-2zM140 295h1v4h-1zM162 295h2v4h-2zM91 299h1v4h-1zM110 299h1v4h-1zM115 299h1v4h-1zM122 299h2v4h-2zM139 303h1v4h-1zM144 303h1v4h-1zM154 303h1v4h-1zM319 303h2v4h-2zM92 307h2v5h-2zM107 307h2v5h-2zM137 307h2v5h-2zM150 307h1v5h-1zM145 312h1v4h-1zM151 312h1v4h-1zM237 312h2v4h-2zM115 316h1v4h-1zM117 316h2v4h-2zM187 316h3v4h-3zM254 316h3v4h-3zM106 320h1v4h-1zM114 320h1v4h-1zM119 320h1v4h-1zM165 320h2v4h-2zM172 320h3v4h-3zM124 324h1v4h-1zM155 324h1v4h-1zM172 324h3v4h-3zM87 328h2v4h-2zM126 328h1v4h-1zM144 328h1v4h-1zM155 328h1v4h-1zM182 328h3v4h-3zM94 332h1v4h-1zM110 332h2v4h-2zM120 332h1v4h-1zM122 332h2v4h-2zM135 332h1v4h-1zM146 332h1v4h-1zM152 332h2v4h-2zM135 336h1v4h-1zM164 336h1v4h-1zM126 340h1v4h-1zM131 340h1v4h-1zM149 340h1v4h-1zM152 340h2v4h-2zM155 340h1v4h-1zM90 344h1v4h-1zM94 344h1v4h-1zM119 344h1v4h-1zM145 344h1v4h-1zM192 344h3v4h-3zM81 353h1v4h-1zM130 353h1v4h-1zM139 353h1v4h-1zM146 353h1v4h-1zM167 353h3v4h-3zM177 353h3v4h-3zM187 353h3v4h-3zM112 357h2v4h-2zM157 357h2v4h-2zM192 357h3v4h-3zM84 361h1v4h-1zM107 361h2v4h-2zM111 361h1v4h-1zM129 361h1v4h-1zM144 361h1v4h-1zM162 361h2v4h-2zM239 361h3v4h-3zM109 365h1v4h-1zM129 365h1v4h-1zM139 365h1v4h-1zM146 365h1v4h-1zM152 365h2v4h-2zM202 365h3v4h-3zM106 369h1v4h-1zM120 369h1v4h-1zM124 369h1v4h-1zM147 369h2v4h-2zM172 369h3v4h-3zM192 369h3v4h-3zM214 369h3v4h-3zM89 373h1v4h-1zM140 373h1v4h-1zM144 373h1v4h-1zM162 373h2v4h-2zM90 377h4v4h-4zM106 377h1v4h-1zM192 377h3v4h-3zM86 381h1v4h-1zM94 381h1v4h-1zM115 381h1v4h-1zM84 385h1v4h-1zM105 385h1v4h-1zM117 385h2v4h-2zM129 385h1v4h-1zM81 389h3v5h-3zM86 389h1v5h-1zM110 389h1v5h-1zM115 389h1v5h-1zM132 389h2v5h-2zM104 394h1v4h-1zM110 394h1v4h-1zM149 394h1v4h-1zM244 394h3v4h-3zM87 398h2v4h-2zM106 398h1v4h-1zM141 398h1v4h-1zM81 402h1v4h-1zM160 402h1v4h-1zM182 402h3v4h-3zM229 402h3v4h-3zM146 406h1v4h-1zM185 406h2v4h-2z"/><path fill="#4294ff" d="M244 81h3v5h-3zM254 81h3v5h-3zM259 81h3v5h-3zM269 81h3v5h-3zM274 81h3v5h-3zM279 81h5v5h-5zM94 86h1v4h-1zM162 86h2v4h-2zM139 90h1v4h-1zM145 90h1v4h-1zM190 90h2v4h-2zM104 94h2v4h-2zM205 94h2v4h-2zM81 98h1v4h-1zM121 98h1v4h-1zM90 102h1v5h-1zM94 102h1v5h-1zM104 102h1v5h-1zM126 102h1v5h-1zM182 102h3v5h-3zM84 107h1v4h-1zM106 107h1v4h-1zM121 107h1v4h-1zM125 107h1v4h-1zM131 107h1v4h-1zM175 107h2v4h-2zM187 107h3v4h-3zM82 111h2v4h-2zM111 111h1v4h-1zM117 111h2v4h-2zM139 111h1v4h-1zM333 111h5v4h-5zM90 115h1v4h-1zM110 115h1v4h-1zM112 115h2v4h-2zM129 115h1v4h-1zM160 115h1v4h-1zM165 115h2v4h-2zM217 115h2v4h-2zM227 115h2v4h-2zM262 115h2v4h-2zM170 119h2v4h-2zM177 119h3v4h-3zM187 119h3v4h-3zM195 119h2v4h-2zM81 123h1v4h-1zM87 123h2v4h-2zM175 123h2v4h-2zM180 123h2v4h-2zM190 123h2v4h-2zM105 127h1v4h-1zM124 127h1v4h-1zM110 131h1v4h-1zM121 131h1v4h-1zM124 131h1v4h-1zM132 131h2v4h-2zM149 131h2v4h-2zM190 131h2v4h-2zM207 131h2v4h-2zM135 135h1v4h-1zM116 139h1v4h-1zM124 139h1v4h-1zM110 143h1v5h-1zM130 143h1v5h-1zM144 143h1v5h-1zM177 143h3v5h-3zM110 148h1v4h-1zM139 148h1v4h-1zM180 148h2v4h-2zM124 152h1v4h-1zM129 152h1v4h-1zM137 152h2v4h-2zM161 152h1v4h-1zM89 156h1v4h-1zM106 156h1v4h-1zM111 156h3v4h-3zM122 156h2v4h-2zM130 156h1v4h-1zM267 156h2v4h-2zM91 160h1v4h-1zM115 164h1v4h-1zM135 164h1v4h-1zM155 164h1v4h-1zM164 164h1v4h-1zM109 168h1v4h-1zM119 168h1v4h-1zM195 168h2v4h-2zM116 172h1v4h-1zM122 172h2v4h-2zM202 172h3v4h-3zM112 176h2v4h-2zM177 176h3v4h-3zM84 180h1v4h-1zM129 180h1v4h-1zM149 180h1v4h-1zM84 184h1v5h-1zM106 184h1v5h-1zM119 184h1v5h-1zM130 184h1v5h-1zM134 184h1v5h-1zM185 184h2v5h-2zM125 189h1v4h-1zM145 189h1v4h-1zM155 189h1v4h-1zM139 193h1v4h-1zM129 197h1v4h-1zM180 197h2v4h-2zM190 197h2v4h-2zM131 201h1v4h-1zM144 201h1v4h-1zM157 201h2v4h-2zM162 201h3v4h-3zM85 205h1v4h-1zM114 205h1v4h-1zM121 205h1v4h-1zM177 205h3v4h-3zM81 209h1v4h-1zM111 209h1v4h-1zM151 209h1v4h-1zM91 213h1v4h-1zM105 213h1v4h-1zM121 213h1v4h-1zM129 213h1v4h-1zM87 217h2v4h-2zM95 217h1v4h-1zM117 217h2v4h-2zM152 217h2v4h-2zM127 221h2v4h-2zM140 221h2v4h-2zM156 221h1v4h-1zM82 225h2v5h-2zM112 225h2v5h-2zM127 225h2v5h-2zM130 225h1v5h-1zM217 225h2v5h-2zM112 230h2v4h-2zM115 230h1v4h-1zM121 230h1v4h-1zM85 234h1v4h-1zM105 234h1v4h-1zM152 234h3v4h-3zM94 238h1v4h-1zM111 238h1v4h-1zM121 238h1v4h-1zM127 238h2v4h-2zM142 238h2v4h-2zM84 242h1v4h-1zM134 242h1v4h-1zM92 246h2v4h-2zM126 246h1v4h-1zM175 246h2v4h-2zM90 250h1v4h-1zM115 250h1v4h-1zM117 250h3v4h-3zM125 250h1v4h-1zM149 250h1v4h-1zM162 250h2v4h-2zM106 254h1v4h-1zM109 254h1v4h-1zM129 254h2v4h-2zM146 254h3v4h-3zM170 254h2v4h-2zM180 254h2v4h-2zM107 258h2v4h-2zM170 258h2v4h-2zM202 258h3v4h-3zM122 262h2v4h-2zM130 262h1v4h-1zM167 262h3v4h-3zM202 262h3v4h-3zM111 266h1v5h-1zM85 271h1v4h-1zM177 271h3v4h-3zM239 271h3v4h-3zM89 275h1v4h-1zM107 275h2v4h-2zM140 275h1v4h-1zM125 279h1v4h-1zM127 279h2v4h-2zM134 279h1v4h-1zM145 279h1v4h-1zM262 279h2v4h-2zM95 283h1v4h-1zM180 283h2v4h-2zM277 283h2v4h-2zM105 287h1v4h-1zM141 287h1v4h-1zM175 287h2v4h-2zM95 291h1v4h-1zM122 291h2v4h-2zM151 291h1v4h-1zM116 295h1v4h-1zM122 295h2v4h-2zM125 295h1v4h-1zM130 295h1v4h-1zM150 295h1v4h-1zM160 295h1v4h-1zM217 295h2v4h-2zM229 295h3v4h-3zM314 295h2v4h-2zM99 299h1v4h-1zM121 299h1v4h-1zM242 299h2v4h-2zM314 299h2v4h-2zM115 303h1v4h-1zM137 303h2v4h-2zM82 307h2v5h-2zM95 307h1v5h-1zM164 307h1v5h-1zM195 307h5v5h-5zM202 307h3v5h-3zM229 307h3v5h-3zM333 307h5v5h-5zM156 312h1v4h-1zM167 312h3v4h-3zM182 312h3v4h-3zM207 312h2v4h-2zM95 316h1v4h-1zM104 316h1v4h-1zM110 316h1v4h-1zM269 316h3v4h-3zM86 320h1v4h-1zM152 320h2v4h-2zM155 320h1v4h-1zM111 324h1v4h-1zM117 324h2v4h-2zM136 324h1v4h-1zM140 324h2v4h-2zM115 328h1v4h-1zM132 328h2v4h-2zM159 328h1v4h-1zM109 332h1v4h-1zM139 332h1v4h-1zM149 332h1v4h-1zM160 332h1v4h-1zM86 336h1v4h-1zM92 336h2v4h-2zM119 336h1v4h-1zM139 336h1v4h-1zM217 336h2v4h-2zM144 340h1v4h-1zM85 344h1v4h-1zM107 344h2v4h-2zM116 344h1v4h-1zM135 344h1v4h-1zM154 344h1v4h-1zM156 344h1v4h-1zM119 348h2v5h-2zM125 348h1v5h-1zM249 348h3v5h-3zM110 353h1v4h-1zM121 353h1v4h-1zM136 353h1v4h-1zM84 357h1v4h-1zM107 357h2v4h-2zM136 357h4v4h-4zM142 357h2v4h-2zM154 357h1v4h-1zM165 357h2v4h-2zM212 357h2v4h-2zM81 361h1v4h-1zM89 361h1v4h-1zM116 361h1v4h-1zM126 361h1v4h-1zM147 361h2v4h-2zM192 361h3v4h-3zM82 365h2v4h-2zM104 365h1v4h-1zM134 365h1v4h-1zM90 369h1v4h-1zM109 369h1v4h-1zM112 369h2v4h-2zM117 369h2v4h-2zM177 369h3v4h-3zM207 369h2v4h-2zM242 369h2v4h-2zM110 373h1v4h-1zM116 373h1v4h-1zM132 373h2v4h-2zM134 377h2v4h-2zM157 377h2v4h-2zM177 377h3v4h-3zM120 381h1v4h-1zM140 381h1v4h-1zM161 381h1v4h-1zM195 381h2v4h-2zM229 381h3v4h-3zM131 385h1v4h-1zM137 385h2v4h-2zM141 385h1v4h-1zM299 385h2v4h-2zM89 389h1v5h-1zM105 389h1v5h-1zM190 389h2v5h-2zM111 394h1v4h-1zM120 394h1v4h-1zM142 394h2v4h-2zM150 394h1v4h-1zM99 398h1v4h-1zM104 398h1v4h-1zM117 398h2v4h-2zM162 398h2v4h-2zM217 398h2v4h-2zM86 402h3v4h-3zM109 406h1v4h-1zM151 406h1v4h-1zM160 406h1v4h-1zM177 406h3v4h-3zM187 406h3v4h-3z"/><path fill="#4099ff" d="M237 81h7v5h-7zM252 81h2v5h-2zM267 81h2v5h-2zM287 81h2v5h-2zM309 81h2v5h-2zM84 86h1v4h-1zM116 86h1v4h-1zM121 90h1v4h-1zM140 90h1v4h-1zM84 94h1v4h-1zM91 94h1v4h-1zM109 94h1v4h-1zM120 94h1v4h-1zM131 94h1v4h-1zM155 94h1v4h-1zM157 94h2v4h-2zM85 98h1v4h-1zM91 98h3v4h-3zM147 98h3v4h-3zM164 98h1v4h-1zM207 98h2v4h-2zM110 102h1v5h-1zM122 102h2v5h-2zM156 102h1v5h-1zM227 102h2v5h-2zM85 107h1v4h-1zM92 111h2v4h-2zM105 111h1v4h-1zM164 111h1v4h-1zM190 111h5v4h-5zM217 111h2v4h-2zM117 115h2v4h-2zM242 115h2v4h-2zM117 119h2v4h-2zM127 119h2v4h-2zM151 119h1v4h-1zM84 123h1v4h-1zM86 123h1v4h-1zM159 123h1v4h-1zM170 123h2v4h-2zM327 123h6v4h-6zM141 127h1v4h-1zM227 127h2v4h-2zM147 131h2v4h-2zM152 131h2v4h-2zM155 131h1v4h-1zM306 131h3v4h-3zM106 139h1v4h-1zM122 139h2v4h-2zM139 139h1v4h-1zM172 139h3v4h-3zM209 139h3v4h-3zM111 143h1v5h-1zM117 143h2v5h-2zM139 143h1v5h-1zM185 143h2v5h-2zM190 143h2v5h-2zM284 143h3v5h-3zM91 148h1v4h-1zM121 148h3v4h-3zM164 148h1v4h-1zM112 152h2v4h-2zM136 152h1v4h-1zM172 152h3v4h-3zM90 156h1v4h-1zM105 156h1v4h-1zM110 156h1v4h-1zM125 156h1v4h-1zM90 160h1v4h-1zM149 160h1v4h-1zM162 160h2v4h-2zM244 160h3v4h-3zM121 164h1v4h-1zM127 164h2v4h-2zM162 164h2v4h-2zM272 164h2v4h-2zM90 168h1v4h-1zM142 168h2v4h-2zM150 168h1v4h-1zM182 168h3v4h-3zM109 172h1v4h-1zM111 172h1v4h-1zM119 176h1v4h-1zM147 176h2v4h-2zM170 180h2v4h-2zM90 184h1v5h-1zM117 184h2v5h-2zM177 184h3v5h-3zM89 189h1v4h-1zM105 189h1v4h-1zM122 189h2v4h-2zM159 189h1v4h-1zM129 193h1v4h-1zM150 193h1v4h-1zM85 197h1v4h-1zM92 197h2v4h-2zM110 197h1v4h-1zM121 197h1v4h-1zM90 201h1v4h-1zM94 201h1v4h-1zM112 201h2v4h-2zM115 201h1v4h-1zM146 201h1v4h-1zM150 201h1v4h-1zM86 205h1v4h-1zM92 205h2v4h-2zM127 205h2v4h-2zM142 205h2v4h-2zM150 205h1v4h-1zM209 205h3v4h-3zM282 205h2v4h-2zM115 209h1v4h-1zM109 213h1v4h-1zM90 217h1v4h-1zM132 217h2v4h-2zM217 217h2v4h-2zM262 217h2v4h-2zM145 221h1v4h-1zM239 225h3v5h-3zM152 230h3v4h-3zM86 234h1v4h-1zM106 234h1v4h-1zM135 234h1v4h-1zM147 234h2v4h-2zM155 234h1v4h-1zM124 238h1v4h-1zM151 238h1v4h-1zM170 238h2v4h-2zM187 238h3v4h-3zM200 238h2v4h-2zM154 246h1v4h-1zM242 246h2v4h-2zM85 250h1v4h-1zM94 250h1v4h-1zM239 250h3v4h-3zM86 254h1v4h-1zM90 254h1v4h-1zM92 254h2v4h-2zM115 254h1v4h-1zM131 254h3v4h-3zM141 254h1v4h-1zM162 254h2v4h-2zM272 254h2v4h-2zM86 258h1v4h-1zM121 258h1v4h-1zM127 258h2v4h-2zM106 262h1v4h-1zM110 262h1v4h-1zM120 262h1v4h-1zM147 262h2v4h-2zM156 262h1v4h-1zM162 262h2v4h-2zM182 262h3v4h-3zM81 266h1v5h-1zM149 266h1v5h-1zM165 266h2v5h-2zM182 266h3v5h-3zM125 271h1v4h-1zM269 271h3v4h-3zM110 275h1v4h-1zM131 275h1v4h-1zM145 275h1v4h-1zM170 275h2v4h-2zM104 279h1v4h-1zM139 279h1v4h-1zM177 279h3v4h-3zM205 279h2v4h-2zM129 283h1v4h-1zM86 287h1v4h-1zM87 291h2v4h-2zM156 291h1v4h-1zM162 291h2v4h-2zM187 291h3v4h-3zM202 291h3v4h-3zM219 291h3v4h-3zM262 291h2v4h-2zM90 295h1v4h-1zM95 295h1v4h-1zM105 295h1v4h-1zM139 295h1v4h-1zM149 295h1v4h-1zM214 295h3v4h-3zM104 299h1v4h-1zM137 299h2v4h-2zM209 299h3v4h-3zM106 303h1v4h-1zM129 303h1v4h-1zM141 303h1v4h-1zM182 303h3v4h-3zM84 307h1v5h-1zM89 307h1v5h-1zM114 307h1v5h-1zM125 307h2v5h-2zM131 307h1v5h-1zM134 307h1v5h-1zM145 307h1v5h-1zM152 307h2v5h-2zM81 312h1v4h-1zM91 312h1v4h-1zM109 312h1v4h-1zM152 312h2v4h-2zM90 316h1v4h-1zM94 316h1v4h-1zM112 316h2v4h-2zM151 316h1v4h-1zM202 316h3v4h-3zM127 320h3v4h-3zM175 320h2v4h-2zM262 320h2v4h-2zM149 324h1v4h-1zM92 328h4v4h-4zM125 328h1v4h-1zM84 332h1v4h-1zM81 336h1v4h-1zM104 336h1v4h-1zM109 336h1v4h-1zM131 336h1v4h-1zM249 336h3v4h-3zM87 340h2v4h-2zM109 340h1v4h-1zM112 340h2v4h-2zM291 340h3v4h-3zM84 344h1v4h-1zM104 344h1v4h-1zM200 344h2v4h-2zM81 348h1v5h-1zM107 348h2v5h-2zM82 353h2v4h-2zM149 353h1v4h-1zM182 353h3v4h-3zM81 357h1v4h-1zM159 357h1v4h-1zM94 361h1v4h-1zM124 361h1v4h-1zM150 361h1v4h-1zM200 361h2v4h-2zM95 365h1v4h-1zM114 365h1v4h-1zM147 365h2v4h-2zM82 369h2v4h-2zM121 369h1v4h-1zM87 373h2v4h-2zM112 373h2v4h-2zM125 373h1v4h-1zM131 373h1v4h-1zM154 373h1v4h-1zM159 373h1v4h-1zM229 373h3v4h-3zM115 377h1v4h-1zM120 377h1v4h-1zM124 377h1v4h-1zM175 381h2v4h-2zM89 385h1v4h-1zM110 385h1v4h-1zM162 385h2v4h-2zM125 389h1v5h-1zM149 389h2v5h-2zM82 394h2v4h-2zM92 394h2v4h-2zM124 394h1v4h-1zM126 394h1v4h-1zM144 394h1v4h-1zM170 394h2v4h-2zM81 398h1v4h-1zM107 398h2v4h-2zM122 398h2v4h-2zM127 398h2v4h-2zM152 398h2v4h-2zM104 402h1v4h-1zM156 402h1v4h-1zM177 402h3v4h-3z"/><path fill="#3d9efe" d="M262 81h5v5h-5zM157 86h2v4h-2zM120 90h1v4h-1zM144 94h1v4h-1zM87 98h2v4h-2zM106 98h1v4h-1zM82 102h2v5h-2zM121 102h1v5h-1zM142 102h2v5h-2zM167 107h3v4h-3zM112 111h2v4h-2zM85 115h1v4h-1zM321 115h6v4h-6zM135 119h1v4h-1zM165 119h2v4h-2zM142 123h3v4h-3zM170 127h2v4h-2zM115 135h1v4h-1zM154 135h1v4h-1zM82 139h2v4h-2zM85 139h1v4h-1zM125 139h1v4h-1zM154 139h1v4h-1zM162 139h2v4h-2zM180 139h2v4h-2zM92 143h2v5h-2zM84 148h1v4h-1zM90 148h1v4h-1zM92 148h2v4h-2zM107 148h2v4h-2zM119 148h1v4h-1zM147 148h2v4h-2zM157 148h2v4h-2zM162 148h2v4h-2zM81 152h1v4h-1zM209 152h5v4h-5zM247 152h2v4h-2zM115 156h1v4h-1zM126 156h1v4h-1zM139 160h1v4h-1zM84 164h1v4h-1zM142 164h2v4h-2zM147 164h2v4h-2zM159 164h1v4h-1zM187 164h3v4h-3zM89 168h1v4h-1zM125 168h1v4h-1zM130 168h1v4h-1zM161 168h1v4h-1zM86 172h1v4h-1zM95 172h1v4h-1zM120 172h1v4h-1zM162 172h2v4h-2zM85 176h1v4h-1zM107 176h2v4h-2zM135 176h1v4h-1zM197 176h3v4h-3zM86 180h1v4h-1zM94 180h1v4h-1zM150 180h1v4h-1zM105 184h1v5h-1zM129 184h1v5h-1zM180 184h2v5h-2zM237 184h2v5h-2zM95 189h1v4h-1zM119 189h1v4h-1zM161 189h1v4h-1zM159 193h1v4h-1zM84 197h1v4h-1zM131 197h1v4h-1zM155 197h1v4h-1zM84 201h1v4h-1zM116 201h1v4h-1zM125 201h1v4h-1zM130 201h1v4h-1zM202 201h3v4h-3zM116 205h1v4h-1zM141 205h1v4h-1zM157 205h2v4h-2zM135 209h1v4h-1zM161 209h1v4h-1zM115 213h1v4h-1zM119 213h1v4h-1zM140 213h1v4h-1zM262 213h2v4h-2zM121 217h1v4h-1zM130 217h1v4h-1zM209 217h3v4h-3zM121 221h1v4h-1zM147 221h2v4h-2zM90 225h1v5h-1zM121 225h1v5h-1zM126 225h1v5h-1zM81 230h1v4h-1zM81 234h1v4h-1zM119 234h1v4h-1zM130 234h1v4h-1zM209 234h3v4h-3zM129 238h1v4h-1zM149 238h1v4h-1zM182 238h3v4h-3zM112 242h2v4h-2zM156 242h1v4h-1zM115 246h2v4h-2zM129 246h1v4h-1zM146 246h1v4h-1zM84 250h1v4h-1zM116 250h1v4h-1zM209 250h3v4h-3zM217 250h2v4h-2zM82 254h2v4h-2zM117 254h2v4h-2zM122 254h2v4h-2zM135 254h1v4h-1zM149 254h1v4h-1zM84 258h1v4h-1zM94 258h1v4h-1zM116 258h1v4h-1zM141 258h1v4h-1zM132 262h2v4h-2zM146 262h1v4h-1zM94 266h1v5h-1zM137 266h2v5h-2zM160 266h1v5h-1zM111 271h1v4h-1zM146 271h1v4h-1zM155 271h1v4h-1zM162 271h2v4h-2zM182 271h3v4h-3zM119 275h3v4h-3zM130 275h1v4h-1zM84 279h1v4h-1zM91 279h1v4h-1zM140 279h1v4h-1zM149 279h1v4h-1zM175 279h2v4h-2zM90 287h1v4h-1zM122 287h2v4h-2zM139 287h1v4h-1zM147 287h2v4h-2zM84 291h1v4h-1zM110 291h1v4h-1zM94 295h1v4h-1zM106 295h1v4h-1zM111 295h1v4h-1zM132 295h2v4h-2zM147 295h2v4h-2zM159 295h1v4h-1zM177 295h3v4h-3zM87 299h3v4h-3zM107 299h2v4h-2zM114 299h1v4h-1zM139 299h1v4h-1zM229 299h3v4h-3zM82 303h2v4h-2zM145 303h1v4h-1zM157 303h2v4h-2zM207 303h2v4h-2zM139 312h2v4h-2zM175 316h2v4h-2zM90 320h2v4h-2zM99 320h1v4h-1zM130 320h1v4h-1zM146 320h1v4h-1zM154 320h1v4h-1zM89 324h1v4h-1zM85 328h1v4h-1zM89 328h1v4h-1zM91 328h1v4h-1zM130 328h1v4h-1zM115 332h1v4h-1zM119 332h1v4h-1zM90 336h1v4h-1zM94 336h1v4h-1zM132 336h2v4h-2zM86 340h1v4h-1zM81 344h1v4h-1zM87 344h2v4h-2zM137 344h2v4h-2zM150 344h1v4h-1zM152 344h2v4h-2zM124 348h1v5h-1zM90 353h1v4h-1zM152 353h2v4h-2zM110 357h1v4h-1zM129 357h1v4h-1zM135 357h1v4h-1zM140 361h1v4h-1zM85 365h1v4h-1zM112 365h2v4h-2zM94 369h1v4h-1zM122 369h2v4h-2zM84 377h1v4h-1zM94 377h1v4h-1zM154 377h1v4h-1zM84 381h1v4h-1zM122 381h2v4h-2zM139 381h1v4h-1zM94 385h1v4h-1zM126 385h1v4h-1zM130 385h1v4h-1zM144 385h1v4h-1zM151 385h1v4h-1zM152 389h2v5h-2zM121 394h1v4h-1zM132 394h3v4h-3zM165 394h2v4h-2zM135 398h1v4h-1zM106 402h1v4h-1zM239 402h3v4h-3zM86 406h1v4h-1zM110 406h1v4h-1z"/><path fill="#3aa3fc" d="M229 81h8v5h-8zM109 86h1v4h-1zM120 86h1v4h-1zM155 86h1v4h-1zM94 90h1v4h-1zM95 94h1v4h-1zM137 94h2v4h-2zM145 94h1v4h-1zM84 98h1v4h-1zM86 98h1v4h-1zM110 98h1v4h-1zM144 98h1v4h-1zM112 102h2v5h-2zM89 107h1v4h-1zM150 107h1v4h-1zM121 111h1v4h-1zM144 111h1v4h-1zM84 115h1v4h-1zM147 115h2v4h-2zM86 119h3v4h-3zM122 119h2v4h-2zM85 123h1v4h-1zM121 123h1v4h-1zM146 123h1v4h-1zM155 123h4v4h-4zM147 127h2v4h-2zM165 127h2v4h-2zM81 131h1v4h-1zM90 131h1v4h-1zM159 131h1v4h-1zM92 135h2v4h-2zM114 135h1v4h-1zM164 135h1v4h-1zM90 139h1v4h-1zM185 139h2v4h-2zM84 143h1v5h-1zM146 148h1v4h-1zM149 148h1v4h-1zM147 152h2v4h-2zM156 152h1v4h-1zM85 156h1v4h-1zM82 160h2v4h-2zM105 160h1v4h-1zM136 160h1v4h-1zM111 164h1v4h-1zM114 164h1v4h-1zM116 164h1v4h-1zM144 164h1v4h-1zM150 164h1v4h-1zM81 168h1v4h-1zM137 168h2v4h-2zM82 172h2v4h-2zM92 172h2v4h-2zM121 176h1v4h-1zM146 176h1v4h-1zM92 180h2v4h-2zM130 180h1v4h-1zM122 184h2v5h-2zM144 189h1v4h-1zM195 189h2v4h-2zM117 193h2v4h-2zM140 193h1v4h-1zM89 197h1v4h-1zM229 197h3v4h-3zM145 201h1v4h-1zM195 201h2v4h-2zM94 205h1v4h-1zM124 205h1v4h-1zM89 209h1v4h-1zM122 209h2v4h-2zM142 209h2v4h-2zM239 209h3v4h-3zM110 213h1v4h-1zM116 213h1v4h-1zM383 213h6v4h-6zM139 217h1v4h-1zM105 221h1v4h-1zM95 225h1v5h-1zM149 225h1v5h-1zM127 230h3v4h-3zM140 230h1v4h-1zM147 230h2v4h-2zM117 234h2v4h-2zM122 234h2v4h-2zM139 234h1v4h-1zM156 234h1v4h-1zM130 238h1v4h-1zM139 238h1v4h-1zM151 242h1v4h-1zM155 242h1v4h-1zM90 246h1v4h-1zM125 246h1v4h-1zM190 246h2v4h-2zM91 250h1v4h-1zM140 250h1v4h-1zM177 250h3v4h-3zM154 254h1v4h-1zM117 258h2v4h-2zM145 258h1v4h-1zM90 262h1v4h-1zM114 262h1v4h-1zM135 262h1v4h-1zM154 262h1v4h-1zM144 266h1v5h-1zM157 266h2v5h-2zM217 266h2v5h-2zM145 271h1v4h-1zM152 271h2v4h-2zM157 271h2v4h-2zM165 271h5v4h-5zM160 275h1v4h-1zM182 275h3v4h-3zM122 279h2v4h-2zM144 279h1v4h-1zM112 283h2v4h-2zM299 295h2v4h-2zM81 299h1v4h-1zM95 299h1v4h-1zM125 299h1v4h-1zM147 303h2v4h-2zM165 303h2v4h-2zM117 307h2v5h-2zM139 307h1v5h-1zM157 312h2v4h-2zM122 316h2v4h-2zM126 324h1v4h-1zM84 328h1v4h-1zM139 328h1v4h-1zM89 332h1v4h-1zM107 332h2v4h-2zM130 332h1v4h-1zM107 336h2v4h-2zM147 336h2v4h-2zM125 340h1v4h-1zM170 340h2v4h-2zM180 340h2v4h-2zM185 344h2v4h-2zM82 348h2v5h-2zM86 348h1v5h-1zM114 348h1v5h-1zM180 353h2v4h-2zM195 353h2v4h-2zM82 357h2v4h-2zM90 361h1v4h-1zM106 361h1v4h-1zM164 361h1v4h-1zM87 369h2v4h-2zM125 369h1v4h-1zM81 373h1v4h-1zM85 373h1v4h-1zM91 373h1v4h-1zM104 373h1v4h-1zM81 377h1v4h-1zM110 377h1v4h-1zM149 377h1v4h-1zM187 377h3v4h-3zM82 381h2v4h-2zM130 381h1v4h-1zM136 381h1v4h-1zM202 381h3v4h-3zM91 385h1v4h-1zM262 385h2v4h-2zM84 389h1v5h-1zM140 394h1v4h-1zM95 398h1v4h-1zM90 402h1v4h-1zM110 402h1v4h-1zM159 402h1v4h-1zM105 406h1v4h-1zM116 406h1v4h-1zM119 406h2v4h-2zM127 406h2v4h-2zM156 406h1v4h-1zM175 406h2v4h-2z"/><path fill="#37a8fa" d="M212 81h2v5h-2zM217 81h2v5h-2zM147 86h2v4h-2zM152 86h2v4h-2zM105 90h1v4h-1zM110 90h1v4h-1zM172 90h3v4h-3zM94 94h1v4h-1zM146 94h1v4h-1zM149 94h1v4h-1zM161 98h1v4h-1zM89 102h1v5h-1zM139 102h1v5h-1zM94 111h1v4h-1zM147 111h2v4h-2zM87 115h2v4h-2zM104 115h1v4h-1zM151 115h1v4h-1zM81 119h1v4h-1zM107 119h2v4h-2zM121 119h1v4h-1zM91 123h1v4h-1zM160 123h1v4h-1zM82 127h2v4h-2zM89 127h1v4h-1zM115 127h1v4h-1zM145 127h1v4h-1zM89 131h1v4h-1zM125 131h1v4h-1zM127 131h2v4h-2zM87 135h2v4h-2zM165 135h2v4h-2zM90 143h1v5h-1zM94 143h1v5h-1zM129 143h1v5h-1zM131 143h1v5h-1zM130 148h1v4h-1zM150 148h1v4h-1zM141 152h1v4h-1zM129 156h1v4h-1zM119 164h1v4h-1zM126 164h1v4h-1zM82 168h2v4h-2zM106 168h1v4h-1zM129 168h1v4h-1zM122 176h2v4h-2zM87 180h2v4h-2zM91 180h1v4h-1zM135 180h1v4h-1zM94 189h1v4h-1zM156 189h1v4h-1zM139 197h1v4h-1zM81 201h1v4h-1zM104 201h1v4h-1zM152 201h3v4h-3zM89 205h2v4h-2zM149 205h1v4h-1zM82 209h2v4h-2zM94 209h1v4h-1zM94 213h1v4h-1zM92 217h2v4h-2zM149 217h1v4h-1zM106 221h1v4h-1zM89 225h1v5h-1zM157 225h2v5h-2zM139 230h1v4h-1zM82 234h2v4h-2zM90 238h1v4h-1zM156 238h3v4h-3zM109 242h1v4h-1zM144 242h1v4h-1zM139 246h1v4h-1zM129 250h1v4h-1zM137 250h2v4h-2zM84 262h1v4h-1zM150 262h1v4h-1zM157 262h2v4h-2zM239 262h3v4h-3zM147 266h2v5h-2zM87 271h2v4h-2zM122 271h2v4h-2zM82 275h3v4h-3zM262 275h2v4h-2zM85 283h1v4h-1zM149 283h1v4h-1zM162 283h2v4h-2zM81 291h1v4h-1zM116 291h1v4h-1zM81 307h1v5h-1zM84 312h1v4h-1zM87 312h2v4h-2zM125 312h1v4h-1zM142 312h2v4h-2zM150 312h1v4h-1zM89 320h1v4h-1zM107 320h2v4h-2zM180 320h2v4h-2zM94 324h1v4h-1zM145 324h1v4h-1zM87 332h2v4h-2zM157 332h2v4h-2zM117 340h2v4h-2zM106 348h1v5h-1zM91 353h1v4h-1zM112 353h2v4h-2zM135 353h1v4h-1zM92 357h2v4h-2zM131 357h1v4h-1zM119 361h1v4h-1zM135 361h1v4h-1zM122 365h2v4h-2zM122 373h2v4h-2zM147 373h2v4h-2zM142 377h3v4h-3zM167 377h3v4h-3zM144 381h1v4h-1zM170 381h2v4h-2zM125 385h1v4h-1zM239 385h3v4h-3zM137 389h2v5h-2zM151 394h1v4h-1zM84 398h1v4h-1zM114 402h1v4h-1zM117 406h2v4h-2zM121 406h3v4h-3zM126 406h1v4h-1zM157 406h2v4h-2z"/><path fill="#33adf7" d="M214 81h3v5h-3zM117 86h2v4h-2zM87 90h2v4h-2zM81 94h1v4h-1zM90 98h1v4h-1zM129 98h1v4h-1zM140 98h1v4h-1zM81 111h1v4h-1zM82 115h2v4h-2zM157 115h2v4h-2zM94 123h1v4h-1zM84 127h1v4h-1zM239 131h3v4h-3zM139 135h1v4h-1zM170 135h2v4h-2zM116 143h1v5h-1zM81 148h1v4h-1zM87 156h2v4h-2zM104 156h1v4h-1zM126 160h1v4h-1zM94 168h1v4h-1zM157 168h2v4h-2zM84 172h1v4h-1zM150 176h1v4h-1zM82 180h2v4h-2zM137 180h2v4h-2zM146 184h1v5h-1zM165 193h2v4h-2zM86 197h1v4h-1zM106 197h1v4h-1zM114 197h1v4h-1zM132 197h2v4h-2zM147 201h2v4h-2zM82 213h2v4h-2zM81 217h1v4h-1zM85 217h1v4h-1zM112 217h2v4h-2zM125 225h1v5h-1zM84 230h2v4h-2zM91 230h1v4h-1zM89 234h1v4h-1zM106 238h1v4h-1zM94 242h1v4h-1zM145 250h1v4h-1zM147 250h2v4h-2zM94 254h1v4h-1zM139 254h1v4h-1zM165 254h2v4h-2zM149 258h1v4h-1zM180 262h2v4h-2zM159 275h1v4h-1zM242 275h2v4h-2zM119 279h1v4h-1zM111 283h1v4h-1zM119 287h1v4h-1zM129 287h1v4h-1zM142 295h2v4h-2zM152 295h2v4h-2zM149 299h1v4h-1zM90 303h2v4h-2zM122 303h2v4h-2zM91 307h1v5h-1zM115 312h1v4h-1zM119 312h1v4h-1zM131 312h1v4h-1zM149 320h1v4h-1zM129 324h1v4h-1zM177 324h3v4h-3zM114 328h1v4h-1zM134 328h1v4h-1zM157 344h2v4h-2zM126 348h1v5h-1zM125 353h1v4h-1zM122 357h2v4h-2zM150 365h1v4h-1zM162 365h2v4h-2zM126 369h1v4h-1zM139 369h1v4h-1zM262 377h2v4h-2zM105 381h1v4h-1zM131 381h1v4h-1zM182 381h3v4h-3zM90 385h1v4h-1zM149 385h1v4h-1zM85 389h1v5h-1zM91 389h1v5h-1zM157 389h2v5h-2zM139 394h1v4h-1zM125 398h1v4h-1zM139 398h1v4h-1zM150 398h1v4h-1zM112 402h2v4h-2zM81 406h1v4h-1zM124 406h2v4h-2z"/><path fill="#2fb2f4" d="M132 81h2v5h-2zM146 81h1v5h-1zM137 86h2v4h-2zM82 90h2v4h-2zM157 90h2v4h-2zM94 98h1v4h-1zM157 107h2v4h-2zM94 119h1v4h-1zM129 131h1v4h-1zM151 131h1v4h-1zM119 135h1v4h-1zM177 135h3v4h-3zM142 139h2v4h-2zM115 143h1v5h-1zM91 156h1v4h-1zM137 160h2v4h-2zM94 172h1v4h-1zM144 172h1v4h-1zM87 176h2v4h-2zM90 176h1v4h-1zM152 180h2v4h-2zM89 193h1v4h-1zM81 197h1v4h-1zM91 209h1v4h-1zM122 213h2v4h-2zM86 221h1v4h-1zM117 225h2v5h-2zM81 246h1v4h-1zM122 250h2v4h-2zM112 262h2v4h-2zM92 275h2v4h-2zM154 275h1v4h-1zM94 279h1v4h-1zM126 279h1v4h-1zM81 283h1v4h-1zM137 287h2v4h-2zM94 291h1v4h-1zM84 295h1v4h-1zM104 295h1v4h-1zM90 307h1v5h-1zM119 307h1v5h-1zM106 312h1v4h-1zM157 316h2v4h-2zM81 328h1v4h-1zM140 328h1v4h-1zM91 336h1v4h-1zM94 340h1v4h-1zM117 344h2v4h-2zM149 348h1v5h-1zM89 357h1v4h-1zM81 365h1v4h-1zM94 365h1v4h-1zM106 365h1v4h-1zM89 369h1v4h-1zM135 385h1v4h-1zM90 389h1v5h-1zM120 398h1v4h-1z"/><path fill="#2cb7f0" d="M82 81h2v5h-2zM119 81h1v5h-1zM130 81h1v5h-1zM135 81h1v5h-1zM137 81h5v5h-5zM195 81h2v5h-2zM202 81h5v5h-5zM219 81h3v5h-3zM84 111h1v4h-1zM122 115h2v4h-2zM85 131h1v4h-1zM180 131h2v4h-2zM110 139h1v4h-1zM81 156h1v4h-1zM86 160h1v4h-1zM110 168h1v4h-1zM89 180h1v4h-1zM157 180h2v4h-2zM91 184h1v5h-1zM91 193h1v4h-1zM142 193h2v4h-2zM91 201h1v4h-1zM154 213h1v4h-1zM104 217h1v4h-1zM81 225h1v5h-1zM139 225h1v5h-1zM91 238h1v4h-1zM146 242h1v4h-1zM84 287h1v4h-1zM90 299h1v4h-1zM112 307h2v5h-2zM157 369h2v4h-2zM157 373h2v4h-2zM160 373h1v4h-1zM82 377h2v4h-2zM82 385h2v4h-2zM122 394h2v4h-2zM94 398h1v4h-1zM112 398h2v4h-2zM95 402h1v4h-1z"/><path fill="#28bceb" d="M102 81h2v5h-2zM114 81h1v5h-1zM117 81h2v5h-2zM120 81h1v5h-1zM142 81h2v5h-2zM145 81h1v5h-1zM151 81h1v5h-1zM200 81h2v5h-2zM207 81h5v5h-5zM157 98h2v4h-2zM177 98h3v4h-3zM81 102h1v5h-1zM149 107h1v4h-1zM106 115h1v4h-1zM90 123h1v4h-1zM87 131h2v4h-2zM180 135h2v4h-2zM87 139h2v4h-2zM90 152h1v4h-1zM81 172h1v4h-1zM157 176h2v4h-2zM90 180h1v4h-1zM84 189h2v4h-2zM84 193h1v4h-1zM114 201h1v4h-1zM157 234h2v4h-2zM121 262h1v4h-1zM139 262h1v4h-1zM139 266h1v5h-1zM162 266h2v5h-2zM94 283h1v4h-1zM139 283h1v4h-1zM149 303h1v4h-1zM90 312h1v4h-1zM122 328h2v4h-2zM157 361h2v4h-2zM95 369h1v4h-1zM137 373h2v4h-2zM122 385h2v4h-2zM134 402h1v4h-1zM136 402h1v4h-1zM139 402h1v4h-1z"/><path fill="#25c0e7" d="M106 81h1v5h-1zM122 81h2v5h-2zM125 81h1v5h-1zM134 81h1v5h-1zM144 81h1v5h-1zM147 81h3v5h-3zM185 81h5v5h-5zM192 81h3v5h-3zM197 81h3v5h-3zM154 98h1v4h-1zM86 184h1v5h-1zM94 184h1v5h-1zM157 184h2v5h-2zM94 193h1v4h-1zM82 201h2v4h-2zM157 246h2v4h-2zM90 271h1v4h-1zM157 275h2v4h-2zM94 303h1v4h-1zM94 307h1v5h-1zM81 316h1v4h-1zM142 369h2v4h-2zM117 402h2v4h-2zM140 402h1v4h-1zM94 406h1v4h-1z"/><path fill="#22c5e2" d="M101 81h1v5h-1zM107 81h2v5h-2zM116 81h1v5h-1zM121 81h1v5h-1zM124 81h1v5h-1zM126 81h4v5h-4zM150 81h1v5h-1zM152 81h2v5h-2zM155 81h1v5h-1zM164 81h1v5h-1zM177 81h3v5h-3zM190 81h2v5h-2zM157 127h2v4h-2zM115 148h1v4h-1zM157 213h2v4h-2zM81 258h1v4h-1zM81 275h1v4h-1zM157 299h2v4h-2zM157 324h2v4h-2zM139 340h1v4h-1zM81 385h1v4h-1zM119 402h2v4h-2zM125 402h2v4h-2zM157 402h2v4h-2z"/><path fill="#1fc9dd" d="M99 81h2v5h-2zM105 81h1v5h-1zM109 81h2v5h-2zM112 81h2v5h-2zM115 81h1v5h-1zM136 81h1v5h-1zM156 81h1v5h-1zM159 81h1v5h-1zM172 81h5v5h-5zM180 81h5v5h-5zM90 90h1v4h-1zM90 94h1v4h-1zM157 139h2v4h-2zM157 160h2v4h-2zM157 258h2v4h-2zM157 295h2v4h-2zM157 328h2v4h-2zM157 353h2v4h-2zM121 402h1v4h-1zM127 402h2v4h-2zM135 402h1v4h-1z"/><path fill="#1ccdd8" d="M81 81h1v5h-1zM84 81h1v5h-1zM104 81h1v5h-1zM131 81h1v5h-1zM154 81h1v5h-1zM157 81h2v5h-2zM157 152h2v4h-2zM81 193h1v4h-1zM144 225h1v5h-1zM157 320h2v4h-2zM157 398h2v4h-2zM122 402h3v4h-3zM137 402h2v4h-2zM141 402h1v4h-1z"/><path fill="#1ad2d2" d="M111 81h1v5h-1zM160 81h1v5h-1zM170 81h2v5h-2zM157 119h2v4h-2zM157 193h2v4h-2zM90 197h1v4h-1zM157 209h2v4h-2zM157 221h2v4h-2zM94 234h1v4h-1zM157 254h2v4h-2zM157 287h2v4h-2zM157 340h2v4h-2zM157 365h2v4h-2zM130 406h1v4h-1zM139 406h1v4h-1z"/><path fill="#19d5cd" d="M85 81h1v5h-1zM97 81h2v5h-2zM161 81h1v5h-1zM165 81h5v5h-5zM157 102h2v5h-2zM157 230h2v4h-2zM140 406h2v4h-2z"/><path fill="#18d9c8" d="M157 111h2v4h-2zM157 156h2v4h-2zM157 283h2v4h-2zM157 307h2v5h-2zM157 385h2v4h-2zM129 406h1v4h-1z"/><path fill="#18ddc2" d="M96 81h1v5h-1zM162 81h2v5h-2zM157 135h2v4h-2zM157 291h2v4h-2z"/><path fill="#18e0bd" d="M157 131h2v4h-2zM157 143h2v5h-2zM157 172h2v4h-2zM157 242h2v4h-2zM157 394h2v4h-2z"/><path fill="#19e3b9" d="M87 81h2v5h-2zM157 197h2v4h-2zM157 336h2v4h-2zM157 381h2v4h-2z"/><path fill="#1ce6b4" d="M86 81h1v5h-1zM91 81h1v5h-1z"/><path fill="#22ebaa" d="M92 81h2v5h-2z"/><path fill="#27eea4" d="M89 81h1v5h-1zM89 86h2v4h-2zM129 402h5v4h-5zM115 406h1v4h-1z"/><path fill="#2cf09e" d="M114 406h1v4h-1z"/><path fill="#32f298" d="M90 81h1v5h-1z"/><path fill="#46f884" d="M95 81h1v5h-1z"/><path fill="#4ef97d" d="M94 81h1v5h-1z"/></svg>
<svg class="fr" width="640" height="480" viewBox="0 0 640 480" shape-rendering="crispEdges"><path fill="#292929" d="M77 79h3v1h-3zM77 84h3v1h-3zM77 88h3v1h-3zM77 93h3v1h-3zM77 97h3v1h-3zM77 102h3v1h-3zM77 106h3v1h-3zM77 111h3v1h-3zM77 115h3v1h-3zM77 124h3v1h-3zM77 129h3v1h-3zM77 133h3v1h-3zM77 138h3v1h-3zM77 142h3v1h-3zM77 147h3v1h-3zM77 151h3v1h-3zM77 156h3v1h-3zM77 160h3v1h-3zM77 169h3v1h-3zM77 174h3v1h-3zM77 178h3v1h-3zM77 183h3v1h-3zM77 187h3v1h-3zM77 192h3v1h-3zM77 196h3v1h-3zM77 201h3v1h-3zM77 205h3v1h-3zM77 214h3v1h-3zM77 219h3v1h-3zM77 223h3v1h-3zM77 227h3v1h-3zM77 232h3v1h-3zM77 236h3v1h-3zM77 241h3v1h-3zM77 245h3v1h-3zM77 250h3v1h-3zM77 259h3v1h-3zM77 263h3v1h-3zM77 268h3v1h-3zM77 272h3v1h-3zM77 277h3v1h-3zM77 281h3v1h-3zM77 286h3v1h-3zM77 290h3v1h-3zM77 295h3v1h-3zM77 304h3v1h-3zM77 308h3v1h-3zM77 313h3v1h-3zM77 317h3v1h-3zM77 322h3v1h-3zM77 326h3v1h-3zM77 331h3v1h-3zM77 335h3v1h-3zM77 340h3v1h-3zM77 349h3v1h-3zM77 353h3v1h-3zM77 358h3v1h-3zM77 362h3v1h-3zM77 366h3v1h-3zM77 371h3v1h-3zM77 375h3v1h-3zM77 380h3v1h-3zM77 384h3v1h-3zM77 393h3v1h-3zM77 398h3v1h-3zM77 402h3v1h-3zM77 407h3v1h-3zM80 411h1v3h-1zM86 411h1v3h-1zM93 411h1v3h-1zM99 411h1v3h-1zM105 411h1v3h-1zM111 411h1v3h-1zM118 411h1v3h-1zM124 411h1v3h-1zM130 411h1v3h-1zM143 411h1v3h-1zM149 411h1v3h-1zM155 411h1v3h-1zM162 411h1v3h-1zM168 411h1v3h-1zM174 411h1v3h-1zM180 411h1v3h-1zM187 411h1v3h-1zM193 411h1v3h-1zM205 411h1v3h-1zM212 411h1v3h-1zM218 411h1v3h-1zM224 411h1v3h-1zM231 411h1v3h-1zM237 411h1v3h-1zM243 411h1v3h-1zM249 411h1v3h-1zM256 411h1v3h-1zM268 411h1v3h-1zM275 411h1v3h-1zM281 411h1v3h-1zM287 411h1v3h-1zM293 411h1v3h-1zM300 411h1v3h-1zM306 411h1v3h-1zM312 411h1v3h-1zM318 411h1v3h-1zM331 411h1v3h-1zM337 411h1v3h-1zM344 411h1v3h-1zM350 411h1v3h-1zM356 411h1v3h-1zM362 411h1v3h-1zM369 411h1v3h-1zM375 411h1v3h-1zM381 411h1v3h-1zM394 411h1v3h-1zM400 411h1v3h-1zM406 411h1v3h-1zM413 411h1v3h-1zM419 411h1v3h-1zM425 411h1v3h-1z"/><path fill="#8f8f8f" d="M76 79h1v1h-1zM76 84h1v1h-1zM76 88h1v1h-1zM76 93h1v1h-1zM76 97h1v1h-1zM76 102h1v1h-1zM76 106h1v1h-1zM76 111h1v1h-1zM76 115h1v1h-1zM76 124h1v1h-1zM76 129h1v1h-1zM76 133h1v1h-1zM76 138h1v1h-1zM76 142h1v1h-1zM76 147h1v1h-1zM76 151h1v1h-1zM76 156h1v1h-1zM76 160h1v1h-1zM76 169h1v1h-1zM76 174h1v1h-1zM76 178h1v1h-1zM76 183h1v1h-1zM76 187h1v1h-1zM76 192h1v1h-1zM76 196h1v1h-1zM76 201h1v1h-1zM76 205h1v1h-1zM76 214h1v1h-1zM76 219h1v1h-1zM76 223h1v1h-1zM76 227h1v1h-1zM76 232h1v1h-1zM76 236h1v1h-1zM76 241h1v1h-1zM76 245h1v1h-1zM76 250h1v1h-1zM76 259h1v1h-1zM76 263h1v1h-1zM76 268h1v1h-1zM76 272h1v1h-1zM76 277h1v1h-1zM76 281h1v1h-1zM76 286h1v1h-1zM76 290h1v1h-1zM76 295h1v1h-1zM76 304h1v1h-1zM76 308h1v1h-1zM76 313h1v1h-1zM76 317h1v1h-1zM76 322h1v1h-1zM76 326h1v1h-1zM76 331h1v1h-1zM76 335h1v1h-1zM76 340h1v1h-1zM76 349h1v1h-1zM76 353h1v1h-1zM76 358h1v1h-1zM76 362h1v1h-1zM76 366h1v1h-1zM76 371h1v1h-1zM76 375h1v1h-1zM76 380h1v1h-1zM76 384h1v1h-1zM76 393h1v1h-1zM76 398h1v1h-1zM76 402h1v1h-1zM76 407h1v1h-1zM80 414h1v1h-1zM86 414h1v1h-1zM93 414h1v1h-1zM99 414h1v1h-1zM105 414h1v1h-1zM111 414h1v1h-1zM118 414h1v1h-1zM124 414h1v1h-1zM130 414h1v1h-1zM143 414h1v1h-1zM149 414h1v1h-1zM155 414h1v1h-1zM162 414h1v1h-1zM168 414h1v1h-1zM174 414h1v1h-1zM180 414h1v1h-1zM187 414h1v1h-1zM193 414h1v1h-1zM205 414h1v1h-1zM212 414h1v1h-1zM218 414h1v1h-1zM224 414h1v1h-1zM231 414h1v1h-1zM237 414h1v1h-1zM243 414h1v1h-1zM249 414h1v1h-1zM256 414h1v1h-1zM268 414h1v1h-1zM275 414h1v1h-1zM281 414h1v1h-1zM287 414h1v1h-1zM293 414h1v1h-1zM300 414h1v1h-1zM306 414h1v1h-1zM312 414h1v1h-1zM318 414h1v1h-1zM331 414h1v1h-1zM337 414h1v1h-1zM344 414h1v1h-1zM350 414h1v1h-1zM356 414h1v1h-1zM362 414h1v1h-1zM369 414h1v1h-1zM375 414h1v1h-1zM381 414h1v1h-1zM394 414h1v1h-1zM400 414h1v1h-1zM406 414h1v1h-1zM413 414h1v1h-1zM419 414h1v1h-1zM425 414h1v1h-1z"/><path fill="#808080" d="M72 75h1v1h-1zM72 120h1v1h-1zM72 165h1v1h-1zM72 210h1v1h-1zM72 254h1v1h-1zM72 299h1v1h-1zM72 344h1v1h-1zM72 389h1v1h-1zM136 419h1v1h-1zM199 419h1v1h-1zM262 419h1v1h-1zM325 419h1v1h-1zM387 419h1v1h-1zM433 130h1v1h-1zM433 190h1v1h-1zM433 250h1v1h-1zM433 310h1v1h-1zM433 370h1v1h-1zM524 76h1v1h-1zM524 159h1v1h-1zM524 242h1v1h-1zM524 326h1v1h-1zM524 409h1v1h-1z"/><path fill="#000" d="M80 75h348v1h-348zM80 410h348v1h-348zM80 75h1v336h-1zM427 75h1v336h-1zM73 75h7v1h-7zM73 120h7v1h-7zM73 165h7v1h-7zM73 210h7v1h-7zM73 254h7v1h-7zM73 299h7v1h-7zM73 344h7v1h-7zM73 389h7v1h-7zM136 411h1v8h-1zM199 411h1v8h-1zM262 411h1v8h-1zM325 411h1v8h-1zM387 411h1v8h-1zM428 130h5v1h-5zM428 190h5v1h-5zM428 250h5v1h-5zM428 310h5v1h-5zM428 370h5v1h-5zM502 76h17v1h-17zM502 409h17v1h-17zM502 76h1v334h-1zM518 76h1v334h-1zM519 76h5v1h-5zM519 159h5v1h-5zM519 242h5v1h-5zM519 326h5v1h-5zM519 409h5v1h-5z"/></svg>
</body></html>
